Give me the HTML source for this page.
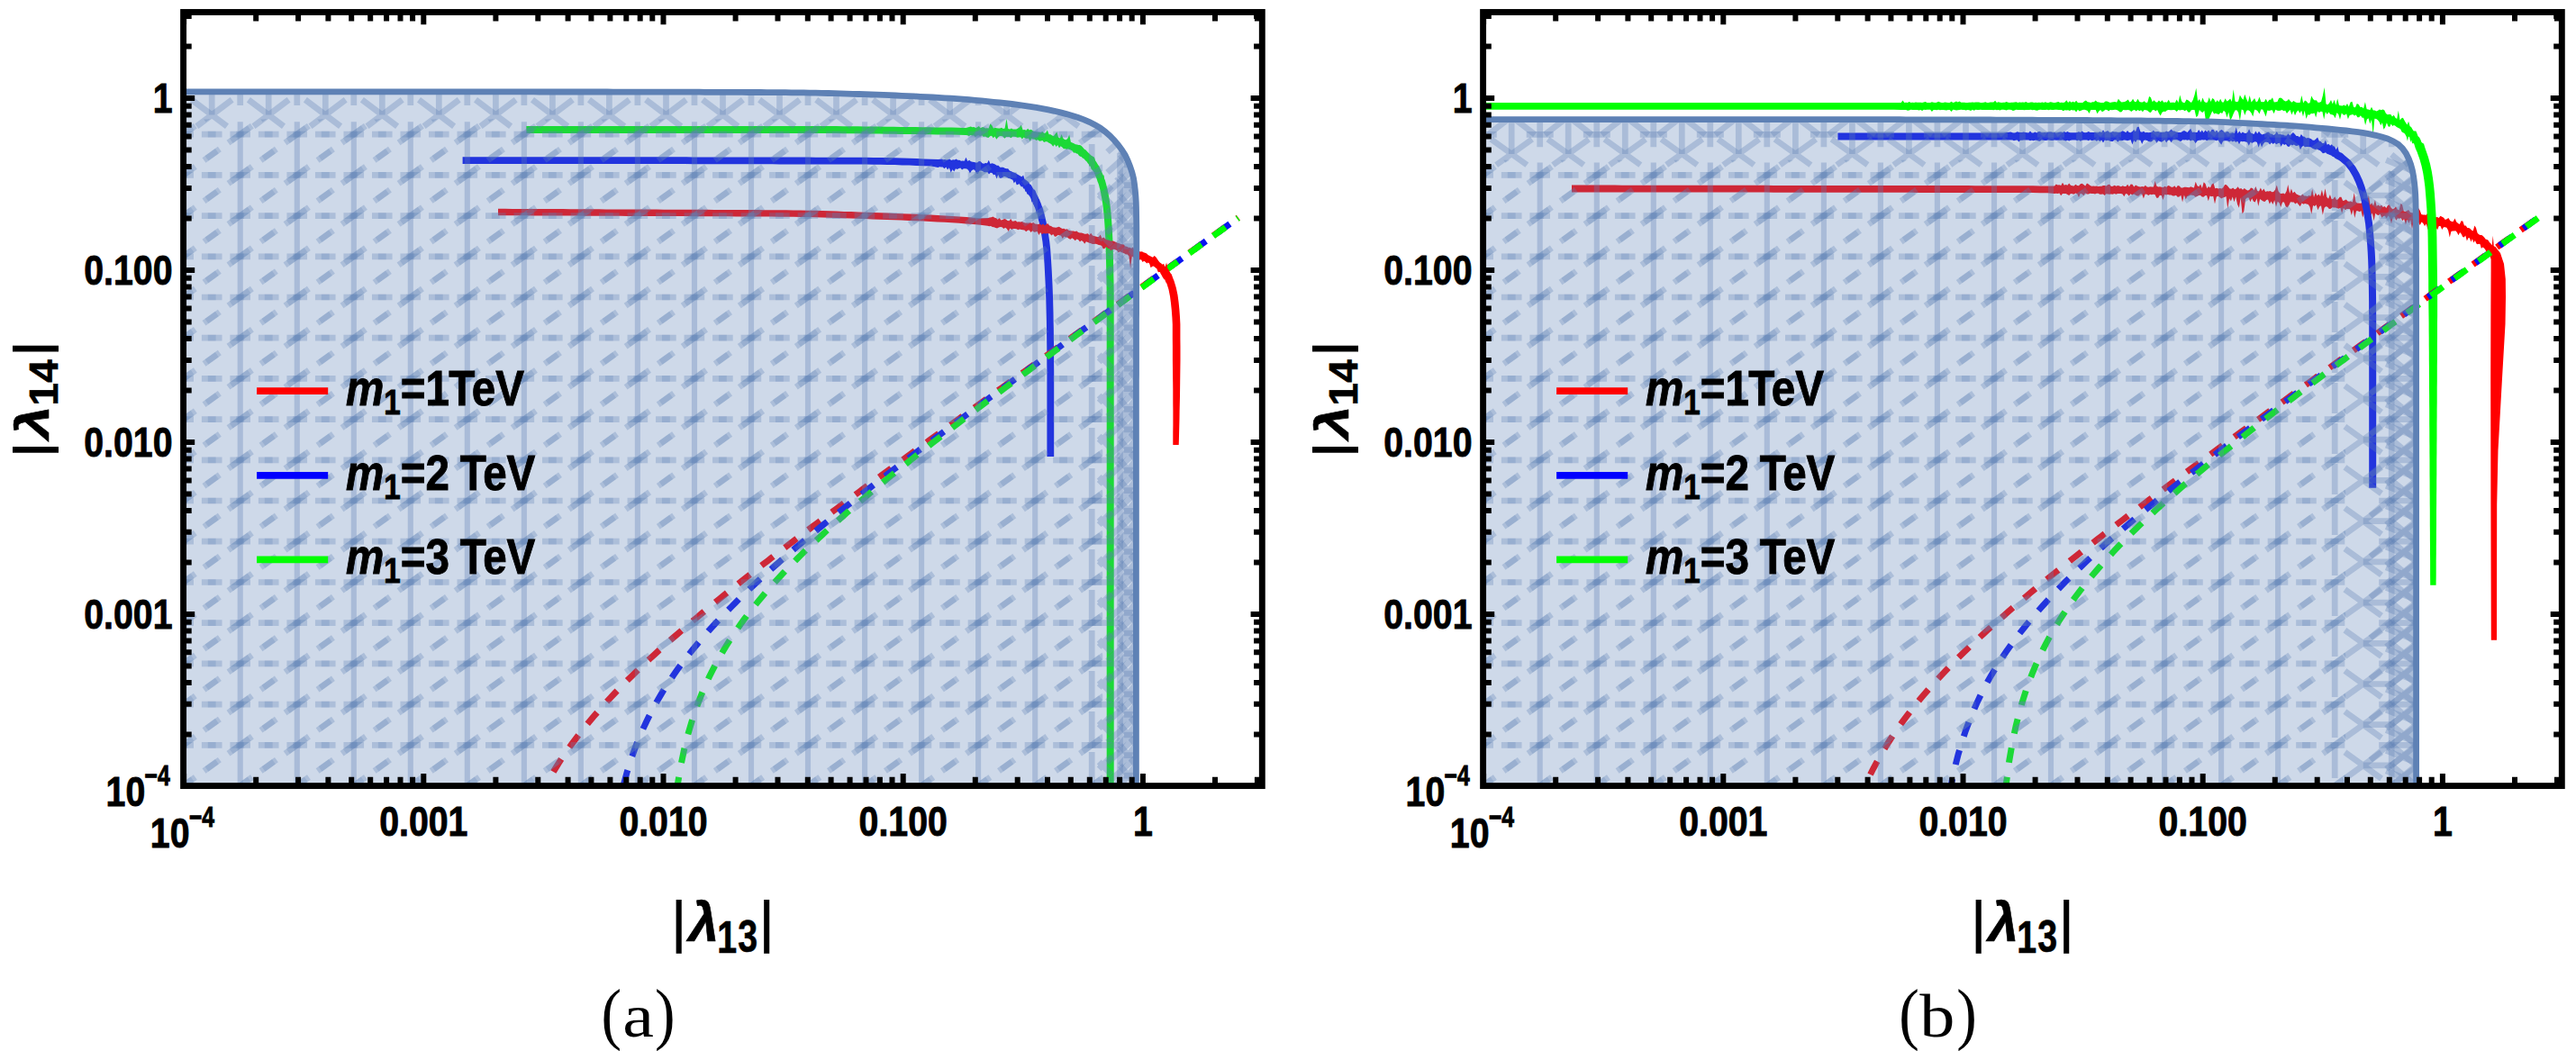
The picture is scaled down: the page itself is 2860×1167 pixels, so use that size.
<!DOCTYPE html>
<html lang="en"><head><meta charset="utf-8"><title>Figure</title>
<style>html,body{margin:0;padding:0;background:#fff}svg{display:block}text{font-family:"Liberation Sans",Arial,sans-serif;font-weight:bold;fill:#000;stroke:#000;stroke-width:.9px}</style>
</head><body>
<svg width="2860" height="1167" viewBox="0 0 2860 1167">
<rect width="2860" height="1167" fill="#fff"/>
<path d="M513.6,174.3L521.6,174.3 529.6,174.3 537.6,174.3 545.6,174.3 553.6,174.3 561.6,174.3 569.6,174.3 577.6,174.3 585.6,174.3 593.6,174.3 601.6,174.3 609.6,174.3 617.6,174.3 625.6,174.3 633.6,174.3 641.6,174.3 649.6,174.3 657.6,174.3 665.6,174.3 673.6,174.3 681.6,174.3 689.6,174.3 697.6,174.3 705.6,174.3 713.6,174.3 721.6,174.3 729.6,174.3 737.6,174.3 745.6,174.3 753.6,174.3 761.6,174.3 769.6,174.4 777.6,174.4 785.6,174.4 793.6,174.4 801.6,174.4 809.6,174.4 817.6,174.5 825.6,174.5 833.6,174.5 841.6,174.5 849.6,174.5 857.6,174.5 865.6,174.6 873.6,174.6 881.6,174.6 889.6,174.6 897.6,174.6 905.6,174.7 913.6,174.7 921.6,174.7 929.6,174.7 937.6,174.7 945.6,174.8 953.6,174.8 961.6,174.8 969.6,174.9 977.7,175 985.7,175.1 993.7,175.3 1001.7,175.6 1009.7,175.8 1017.7,176.1 1025.7,176.4 1033.7,176.7 1041.8,177.1 1043.6,176.8 1045.4,176.4 1047.2,177.2 1049,176.9 1050.8,177.5 1052.6,177.2 1054.4,176.5 1056.2,177.9 1058,177.3 1059.8,177.4 1061.6,176.5 1063.4,177.8 1065.2,177.7 1067.1,178.7 1068.9,178.5 1070.7,178.8 1072.5,174.7 1074.3,178.9 1076.1,177.7 1077.9,179.2 1079.7,179.8 1081.5,180 1083.3,180.6 1085.1,180.6 1086.9,179.1 1088.7,179.3 1090.5,181.3 1092.3,181.7 1094.1,180.9 1096,181.3 1097.8,177.7 1099.5,182.1 1101.3,181.3 1103.1,181.8 1104.9,182.6 1106.7,183.8 1108.5,183.8 1110.3,185.7 1112.1,185.8 1113.9,185.8 1115.6,186.8 1117.4,187.2 1119.2,187.2 1120.9,189.6 1122.7,190.3 1124.4,191 1126.1,191.8 1127.8,192.2 1129.5,193.5 1131.2,194.4 1132.9,195.5 1134.5,196.3 1136.1,194.4 1137.6,198.9 1139.1,199.7 1140.6,200.9 1142,201.9 1143.3,204.4 1144.5,205.1 1145.7,207.1 1146.8,209 1147.9,210.5 1148.9,210.7 1149.8,212.5 1150.7,215.1 1151.6,216.8 1152.5,218.6 1153.3,220.5 1154.1,221.8 1154.8,223.7 1155.5,225.2 1156.2,227.3 1156.8,229.1 1157.5,230.6 1158,232 1158.6,234.4 1159.1,236.3 1159.6,238.1 1160,239.8 1160.5,241.7 1160.9,243.5 1161.3,244.9 1161.7,246.8 1162,248.4 1162.4,250.7 1162.7,252.4 1163,253.3 1163.4,256 1163.7,257.8 1164,259.7 1165.2,267.7 1166.1,275.8 1166.7,283.9 1167.2,291.9 1167.7,299.9 1168.1,307.9 1168.5,315.9 1168.8,323.9 1169.1,332 1169.3,340 1169.5,348 1169.6,356 1169.8,364 1169.9,372 1170,380 1170.1,388 1170.1,396.1 1170.1,404.1 1170.2,412.1 1170.2,420.1 1170.2,428.1 1170.2,436.1 1170.2,444.1 1170.2,452.1 1170.2,460.1 1170.2,468.1 1170.2,476.1 1170.2,484.1 1170.2,492.1 1170.2,500.1 1170.2,506.9 1162.4,506.9 1162.4,500.1 1162.4,492.1 1162.4,484.1 1162.4,476.1 1162.4,468.1 1162.4,460.1 1162.4,452.1 1162.4,444.1 1162.4,436.1 1162.4,428.1 1162.4,420.1 1162.4,412.1 1162.3,404.1 1162.3,396.1 1162.3,388.1 1162.2,380.1 1162.1,372.1 1162,364.1 1161.9,356.1 1161.7,348.2 1161.5,340.2 1161.3,332.2 1161,324.2 1160.7,316.3 1160.3,308.3 1159.9,300.3 1159.5,292.4 1158.9,284.4 1158.3,276.5 1157.5,268.7 1156.3,260.9 1156,259.3 1155.7,257.7 1155.4,255.8 1155,254 1154.7,252.3 1154.4,250.7 1154,249 1153.7,247 1153.3,245.7 1152.9,244.2 1152.5,242.3 1152,240.2 1151.6,238.5 1151.1,237.6 1150.6,237.7 1150.1,234 1149.5,231.9 1148.9,230.2 1148.3,229.3 1147.6,227.4 1146.9,226.6 1146.2,223.9 1145.5,224.7 1144.7,221 1143.9,219.3 1143.1,217.8 1142.2,216.8 1141.3,215.8 1140.4,215.5 1139.4,212.7 1138.4,212.8 1137.4,209.6 1136.3,209.4 1135.2,207.1 1134,207.4 1132.8,206 1131.5,204.1 1130.1,205 1128.7,205.3 1127.3,201.3 1125.8,203.4 1124.4,199.7 1122.8,199 1121.3,198.2 1119.7,197.9 1118.1,197.1 1116.5,196.3 1114.8,195.7 1113.2,197 1111.6,197.8 1109.9,197.8 1108.2,194.1 1106.5,198.4 1104.8,193.7 1103.1,194.3 1101.4,191.9 1099.7,191.7 1098,193.6 1096.2,191 1094.5,191.2 1092.7,191.3 1091,190 1089.3,189.5 1087.5,189.8 1085.8,192.9 1084,192.7 1082.2,188.8 1080.5,188.3 1078.7,189.5 1076.9,192.6 1075.2,188.9 1073.4,187.6 1071.6,187.2 1069.9,187.2 1068.1,188.6 1066.3,186.6 1064.6,186.9 1062.8,188 1061,187.3 1059.3,190.4 1057.5,188.2 1055.7,191.7 1053.9,186.2 1052.1,188.5 1050.3,185.4 1048.5,187.3 1046.7,185.4 1044.9,185.6 1043.2,185.2 1041.4,186.1 1033.4,184.5 1025.4,184.2 1017.4,183.9 1009.5,183.6 1001.5,183.4 993.5,183.1 985.5,182.9 977.5,182.8 969.6,182.7 961.6,182.6 953.6,182.6 945.6,182.6 937.6,182.5 929.6,182.5 921.6,182.5 913.6,182.5 905.6,182.5 897.6,182.4 889.6,182.4 881.6,182.4 873.6,182.4 865.6,182.4 857.6,182.3 849.6,182.3 841.6,182.3 833.6,182.3 825.6,182.3 817.6,182.3 809.6,182.2 801.6,182.2 793.6,182.2 785.6,182.2 777.6,182.2 769.6,182.2 761.6,182.1 753.6,182.1 745.6,182.1 737.6,182.1 729.6,182.1 721.6,182.1 713.6,182.1 705.6,182.1 697.6,182.1 689.6,182.1 681.6,182.1 673.6,182.1 665.6,182.1 657.6,182.1 649.6,182.1 641.6,182.1 633.6,182.1 625.6,182.1 617.6,182.1 609.6,182.1 601.6,182.1 593.6,182.1 585.6,182.1 577.6,182.1 569.6,182.1 561.6,182.1 553.6,182.1 545.6,182.1 537.6,182.1 529.6,182.1 521.6,182.1 513.6,182.1Z" fill="#0a14f0"/>
<path d="M584.3,139.9L592.3,139.9 600.3,139.9 608.3,139.9 616.3,139.9 624.3,139.9 632.3,139.9 640.3,139.9 648.3,139.9 656.3,139.9 664.3,139.9 672.3,139.9 680.3,139.9 688.3,139.9 696.3,139.9 704.3,139.9 712.3,139.9 720.3,139.9 728.3,139.9 736.3,139.9 744.3,139.9 752.3,139.9 760.3,139.9 768.3,139.9 776.3,139.9 784.3,139.9 792.3,139.9 800.3,139.9 808.3,139.9 816.3,139.9 824.3,139.9 832.3,139.9 840.3,139.9 848.3,139.9 856.3,139.9 864.3,139.9 872.3,139.9 880.3,139.9 888.3,139.9 896.3,139.9 904.3,140 912.3,140 920.3,140.1 928.3,140.1 936.3,140.2 944.3,140.3 952.3,140.3 960.3,140.4 968.3,140.5 976.3,140.6 984.3,140.7 992.3,140.8 1000.3,140.9 1008.3,141 1016.3,141.1 1024.3,141.2 1032.3,141.3 1040.3,141.4 1048.4,141.5 1056.4,141.6 1064.4,141.8 1072.4,141.9 1074.2,141.6 1076,141 1077.8,140.6 1079.6,141.3 1081.4,141.1 1083.2,142 1085,141.2 1086.8,140.1 1088.6,142.2 1090.4,141.2 1092.2,141.2 1094,142.4 1095.8,142.2 1097.6,142.5 1099.4,137.4 1101.2,138.9 1103,142.4 1104.8,141.8 1106.6,142.2 1108.4,142.6 1110.2,142.5 1112,141.7 1113.8,143 1115.6,142.6 1117.5,131.7 1119.3,143 1121.1,143.4 1122.9,142.4 1124.7,143.5 1126.5,143.5 1128.3,143.5 1130.1,142.6 1131.9,141.3 1133.8,138.8 1135.6,144.3 1137.5,144 1139.3,144.8 1141.1,142.8 1142.9,144.6 1144.8,143.7 1146.6,145.3 1148.4,146.1 1150.2,146.3 1152,146.7 1153.7,146.7 1155.6,147.1 1157.4,146.1 1159.2,148.1 1161,147.4 1162.8,144.4 1164.6,149.2 1166.4,149.2 1168.2,150.6 1169.9,151 1171.7,148.6 1173.4,146.4 1175.1,152.5 1176.9,153.4 1178.6,148.9 1180.3,153.6 1182,154.9 1183.8,155.2 1185.5,153.5 1187.2,149.5 1188.9,157.7 1190.6,158.5 1192.3,159.3 1194,160.2 1195.7,160.6 1197.4,161.1 1199,161.1 1200.7,162 1202.3,163.7 1204,165.8 1205.5,166.6 1207,168.2 1208.5,169.7 1209.9,171.1 1211.3,172.4 1212.6,173.2 1213.8,174.1 1215,174.7 1216.2,178.4 1217.3,179.9 1218.3,181.7 1219.3,183.3 1220.2,184.6 1221.1,186.4 1222,188.4 1222.8,190.1 1223.5,191.7 1224.2,193.2 1224.9,194.7 1225.6,194.6 1226.2,198.7 1226.8,199.8 1227.4,202.1 1227.9,203.7 1228.4,205.8 1228.9,207.5 1229.4,209.3 1229.8,210.9 1230.1,213.2 1230.5,214.6 1230.8,216.4 1231.1,218.6 1231.4,219.9 1231.7,222 1232,223.5 1232.2,225.8 1232.5,227.5 1232.7,229.5 1232.9,231.3 1233.1,232.6 1233.3,234.9 1233.5,236.7 1233.6,238.6 1233.8,240.4 1234.4,248.4 1234.9,256.5 1235.3,264.5 1235.6,272.5 1235.8,280.5 1236,288.6 1236.2,296.6 1236.3,304.6 1236.5,312.6 1236.6,320.6 1236.7,328.6 1236.7,336.6 1236.7,344.6 1236.7,352.6 1236.7,360.6 1236.7,368.6 1236.7,376.6 1236.7,384.6 1236.7,392.6 1236.7,400.6 1236.7,408.6 1236.7,416.6 1236.7,424.6 1236.7,432.6 1236.7,440.6 1236.7,448.6 1236.7,456.6 1236.7,464.6 1236.7,472.6 1236.7,480.6 1236.7,488.6 1236.7,496.6 1236.7,504.6 1236.7,512.6 1236.7,520.6 1236.7,528.6 1236.7,536.6 1236.7,544.6 1236.7,552.6 1236.7,560.6 1236.7,568.6 1236.7,576.6 1236.7,584.6 1236.7,592.6 1236.7,600.6 1236.7,608.6 1236.7,616.6 1236.7,624.6 1236.7,632.6 1236.7,640.6 1236.7,648.6 1236.7,656.6 1236.7,664.6 1236.7,672.6 1236.7,680.6 1236.7,688.6 1236.7,696.6 1236.7,704.6 1236.7,712.6 1236.7,720.6 1236.7,728.6 1236.7,736.6 1236.7,744.6 1236.7,752.6 1236.7,760.6 1236.7,768.6 1236.7,776.6 1236.7,784.6 1236.7,792.6 1236.7,800.6 1236.7,808.6 1236.7,816.6 1236.7,824.6 1236.7,832.6 1236.7,840.6 1236.7,848.6 1236.7,856.6 1236.7,864.6 1236.7,872.6 1236.7,873 1228.7,873 1228.7,872.6 1228.7,864.6 1228.7,856.6 1228.7,848.6 1228.7,840.6 1228.7,832.6 1228.7,824.6 1228.7,816.6 1228.7,808.6 1228.7,800.6 1228.7,792.6 1228.7,784.6 1228.7,776.6 1228.7,768.6 1228.7,760.6 1228.7,752.6 1228.7,744.6 1228.7,736.6 1228.7,728.6 1228.7,720.6 1228.7,712.6 1228.7,704.6 1228.7,696.6 1228.7,688.6 1228.7,680.6 1228.7,672.6 1228.7,664.6 1228.7,656.6 1228.7,648.6 1228.7,640.6 1228.7,632.6 1228.7,624.6 1228.7,616.6 1228.7,608.6 1228.7,600.6 1228.7,592.6 1228.7,584.6 1228.7,576.6 1228.7,568.6 1228.7,560.6 1228.7,552.6 1228.7,544.6 1228.7,536.6 1228.7,528.6 1228.7,520.6 1228.7,512.6 1228.7,504.6 1228.7,496.6 1228.7,488.6 1228.7,480.6 1228.7,472.6 1228.7,464.6 1228.7,456.6 1228.7,448.6 1228.7,440.6 1228.7,432.6 1228.7,424.6 1228.7,416.6 1228.7,408.6 1228.7,400.6 1228.7,392.6 1228.7,384.6 1228.7,376.6 1228.7,368.6 1228.7,360.6 1228.7,352.6 1228.7,344.6 1228.7,336.6 1228.7,328.7 1228.6,320.7 1228.5,312.7 1228.3,304.7 1228.2,296.7 1228,288.7 1227.8,280.8 1227.6,272.8 1227.3,264.8 1226.9,256.9 1226.4,249 1225.8,241.1 1225.7,239.3 1225.5,237.5 1225.3,236 1225.1,234 1225,232.2 1224.8,230.6 1224.5,228.7 1224.3,227.2 1224.1,225.2 1223.8,224.2 1223.5,221.7 1223.2,220 1222.9,218.2 1222.6,217.2 1222.3,215 1221.9,213.3 1221.6,211.7 1221.2,210.1 1220.7,208.2 1220.3,206.4 1219.8,204.8 1219.2,203.1 1218.7,201.9 1218.1,200 1217.5,198.3 1216.8,196.8 1216.2,195.6 1215.5,193.5 1214.7,191.8 1214,190.5 1213.2,189.2 1212.4,188.5 1211.5,187.4 1210.6,184.6 1209.6,184.8 1208.7,182.2 1207.7,181.3 1206.6,179.4 1205.4,178.6 1204.3,177.2 1203.1,175.9 1201.9,175.4 1200.6,174 1199.2,173.8 1197.9,172.8 1196.5,170.8 1195.1,170.5 1193.6,169.4 1192.1,169.7 1190.5,167.6 1189,166.8 1187.4,166.1 1185.8,165.4 1184.2,165.8 1182.6,165.3 1180.9,165.3 1179.3,163.4 1177.6,162.2 1176,164.5 1174.3,161.1 1172.6,163 1170.9,160.2 1169.2,162.8 1167.6,160.6 1165.9,159.3 1164.2,158.6 1162.5,157.3 1160.8,157.2 1159.1,158 1157.4,156.1 1155.7,156.5 1154,156.8 1152.3,155.2 1150.5,155.9 1148.8,154.8 1147,154.5 1145.3,153.8 1143.6,156.7 1141.8,153.6 1140.1,153.9 1138.3,153.4 1136.6,152.5 1134.8,154.5 1133.1,152.2 1131.3,152.6 1129.6,152.7 1127.8,152.1 1126,151.8 1124.2,151.7 1122.4,153.3 1120.7,151.9 1118.9,152 1117.1,152.1 1115.3,153.8 1113.5,151.4 1111.7,151 1109.9,151.1 1108.1,152.4 1106.3,154.7 1104.5,151.5 1102.7,153.2 1101,150.7 1099.2,151.3 1097.4,152.9 1095.6,152.4 1093.8,151.6 1092,152.1 1090.2,150.3 1088.4,151.2 1086.6,150.3 1084.8,150.4 1083,151.9 1081.2,150.5 1079.4,150.5 1077.6,150.1 1075.8,150.9 1074,150.3 1072.2,149.9 1064.2,149.8 1056.2,149.6 1048.2,149.5 1040.2,149.4 1032.2,149.3 1024.2,149.2 1016.2,149.1 1008.2,149 1000.2,148.9 992.2,148.8 984.2,148.7 976.2,148.6 968.3,148.5 960.3,148.4 952.3,148.3 944.3,148.3 936.3,148.2 928.3,148.1 920.3,148.1 912.3,148 904.3,148 896.3,147.9 888.3,147.9 880.3,147.9 872.3,147.9 864.3,147.9 856.3,147.9 848.3,147.9 840.3,147.9 832.3,147.9 824.3,147.9 816.3,147.9 808.3,147.9 800.3,147.9 792.3,147.9 784.3,147.9 776.3,147.9 768.3,147.9 760.3,147.9 752.3,147.9 744.3,147.9 736.3,147.9 728.3,147.9 720.3,147.9 712.3,147.9 704.3,147.9 696.3,147.9 688.3,147.9 680.3,147.9 672.3,147.9 664.3,147.9 656.3,147.9 648.3,147.9 640.3,147.9 632.3,147.9 624.3,147.9 616.3,147.9 608.3,147.9 600.3,147.9 592.3,147.9 584.3,147.9Z" fill="#00ff00"/>
<path d="M605.3,872.9L610.1,864.2 615,855.9 619.8,848.1 624.6,840.7 629.5,833.6 634.3,826.9 639.2,820.3 644,814 648.8,807.9 653.7,802 658.5,796.2 663.4,790.6 668.2,785.2 673,779.8 677.9,774.6 682.7,769.5 687.6,764.5 692.4,759.5 697.2,754.7 702.1,749.9 706.9,745.2 711.8,740.6 716.6,736 721.4,731.5 726.3,727.1 731.1,722.6 736,718.3 740.8,714 745.6,709.7 750.5,705.5 755.3,701.3 760.2,697.1 765,693 769.8,688.9 774.7,684.9 779.5,680.8 784.4,676.8 789.2,672.8 794,668.9 798.9,664.9 803.7,661 808.6,657.1 813.4,653.3 818.2,649.4 823.1,645.6 827.9,641.8 832.8,637.9 837.6,634.2 842.4,630.4 847.3,626.6 852.1,622.9 857,619.1 861.8,615.4 866.6,611.7 871.5,608 876.3,604.3 881.2,600.6 886,596.9 890.8,593.3 895.7,589.6 900.5,585.9 905.4,582.3 910.2,578.7 915,575 919.9,571.4 924.7,567.8 929.6,564.2 934.4,560.6 939.2,557 944.1,553.4 948.9,549.8 953.8,546.2 958.6,542.7 963.4,539.1 968.3,535.5 973.1,531.9 978,528.4 982.8,524.8 987.6,521.3 992.5,517.7 997.3,514.2 1002.2,510.6 1007,507.1 1011.8,503.6 1016.7,500 1021.5,496.5 1026.4,493 1031.2,489.4 1036,485.9 1040.9,482.4 1045.7,478.9 1050.6,475.3 1055.4,471.8 1060.2,468.3 1065.1,464.8 1069.9,461.3 1074.8,457.8 1079.6,454.3 1084.4,450.8 1089.3,447.3 1094.1,443.8 1099,440.3 1103.8,436.7 1108.6,433.2 1113.5,429.8 1118.3,426.3 1123.2,422.8 1128,419.3 1132.8,415.8 1137.7,412.3 1142.5,408.8 1147.4,405.3 1152.2,401.8 1157,398.3 1161.9,394.8 1166.7,391.3 1171.6,387.8 1176.4,384.4 1181.2,380.9 1186.1,377.4 1190.9,373.9 1195.8,370.4 1200.6,366.9 1205.4,363.4 1210.3,360 1215.1,356.5 1220,353 1224.8,349.5 1229.6,346 1234.5,342.5 1239.3,339.1 1244.2,335.6 1249,332.1 1253.8,328.6 1258.7,325.1 1263.5,321.7 1268.4,318.2 1273.2,314.7 1278,311.2 1282.9,307.8 1287.7,304.3 1292.6,300.8 1297.4,297.3 1302.2,293.8 1307.1,290.4 1311.9,286.9 1316.8,283.4 1321.6,279.9 1326.4,276.5 1331.3,273 1336.1,269.5 1341,266 1345.8,262.6 1350.6,259.1 1355.5,255.6 1360.3,252.1 1365.2,248.7 1370,245.2 1374.8,241.7" fill="none" stroke="#ff0000" stroke-width="7" stroke-dasharray="16.6 16.1" stroke-dashoffset="14.4"/>
<path d="M691.9,872.9L696.2,857.2 700.5,843.6 704.8,831.4 709.1,820.5 713.4,810.5 717.7,801.2 722,792.6 726.3,784.5 730.5,776.9 734.8,769.6 739.1,762.7 743.4,756.1 747.7,749.7 752,743.6 756.3,737.7 760.6,732 764.9,726.5 769.2,721.1 773.5,715.9 777.8,710.8 782.1,705.8 786.4,700.9 790.7,696.1 795,691.5 799.3,686.9 803.6,682.4 807.9,677.9 812.2,673.6 816.5,669.3 820.7,665 825,660.8 829.3,656.7 833.6,652.6 837.9,648.6 842.2,644.6 846.5,640.7 850.8,636.8 855.1,632.9 859.4,629.1 863.7,625.3 868,621.5 872.3,617.8 876.6,614.1 880.9,610.4 885.2,606.7 889.5,603.1 893.8,599.5 898.1,595.9 902.4,592.3 906.7,588.8 910.9,585.3 915.2,581.8 919.5,578.3 923.8,574.8 928.1,571.4 932.4,567.9 936.7,564.5 941,561.1 945.3,557.7 949.6,554.3 953.9,550.9 958.2,547.6 962.5,544.2 966.8,540.9 971.1,537.6 975.4,534.2 979.7,530.9 984,527.6 988.3,524.3 992.6,521 996.9,517.8 1001.1,514.5 1005.4,511.2 1009.7,508 1014,504.7 1018.3,501.5 1022.6,498.3 1026.9,495 1031.2,491.8 1035.5,488.6 1039.8,485.4 1044.1,482.2 1048.4,479 1052.7,475.8 1057,472.6 1061.3,469.4 1065.6,466.2 1069.9,463 1074.2,459.8 1078.5,456.7 1082.8,453.5 1087.1,450.3 1091.3,447.2 1095.6,444 1099.9,440.8 1104.2,437.7 1108.5,434.5 1112.8,431.4 1117.1,428.2 1121.4,425.1 1125.7,421.9 1130,418.8 1134.3,415.7 1138.6,412.5 1142.9,409.4 1147.2,406.3 1151.5,403.1 1155.8,400 1160.1,396.9 1164.4,393.8 1168.7,390.6 1173,387.5 1177.3,384.4 1181.5,381.3 1185.8,378.2 1190.1,375 1194.4,371.9 1198.7,368.8 1203,365.7 1207.3,362.6 1211.6,359.5 1215.9,356.4 1220.2,353.3 1224.5,350.2 1228.8,347.1 1233.1,343.9 1237.4,340.8 1241.7,337.7 1246,334.6 1250.3,331.5 1254.6,328.4 1258.9,325.3 1263.2,322.2 1267.5,319.1 1271.7,316 1276,312.9 1280.3,309.8 1284.6,306.7 1288.9,303.7 1293.2,300.6 1297.5,297.5 1301.8,294.4 1306.1,291.3 1310.4,288.2 1314.7,285.1 1319,282 1323.3,278.9 1327.6,275.8 1331.9,272.7 1336.2,269.6 1340.5,266.5 1344.8,263.4 1349.1,260.4 1353.4,257.3 1357.7,254.2 1361.9,251.1 1366.2,248 1370.5,244.9 1374.8,241.8" fill="none" stroke="#0a14f0" stroke-width="7" stroke-dasharray="16.6 16.1" stroke-dashoffset="30.8"/>
<path d="M752,872.9L755.9,850 759.8,831.4 763.7,815.8 767.7,802.3 771.6,790.3 775.5,779.5 779.4,769.6 783.3,760.5 787.2,752 791.2,744 795.1,736.5 799,729.4 802.9,722.7 806.8,716.2 810.7,710 814.7,704.1 818.6,698.4 822.5,692.8 826.4,687.4 830.3,682.2 834.3,677.2 838.2,672.2 842.1,667.4 846,662.7 849.9,658.1 853.8,653.6 857.8,649.2 861.7,644.9 865.6,640.6 869.5,636.4 873.4,632.3 877.3,628.3 881.3,624.3 885.2,620.3 889.1,616.4 893,612.6 896.9,608.8 900.8,605.1 904.8,601.4 908.7,597.7 912.6,594.1 916.5,590.5 920.4,586.9 924.3,583.4 928.3,579.9 932.2,576.4 936.1,573 940,569.5 943.9,566.1 947.9,562.8 951.8,559.4 955.7,556.1 959.6,552.8 963.5,549.5 967.4,546.2 971.4,543 975.3,539.7 979.2,536.5 983.1,533.3 987,530.1 990.9,526.9 994.9,523.8 998.8,520.6 1002.7,517.5 1006.6,514.4 1010.5,511.3 1014.4,508.2 1018.4,505.1 1022.3,502 1026.2,498.9 1030.1,495.9 1034,492.8 1037.9,489.8 1041.9,486.7 1045.8,483.7 1049.7,480.7 1053.6,477.7 1057.5,474.7 1061.5,471.7 1065.4,468.7 1069.3,465.7 1073.2,462.7 1077.1,459.8 1081,456.8 1085,453.8 1088.9,450.9 1092.8,447.9 1096.7,445 1100.6,442 1104.5,439.1 1108.5,436.2 1112.4,433.2 1116.3,430.3 1120.2,427.4 1124.1,424.5 1128,421.6 1132,418.7 1135.9,415.8 1139.8,412.9 1143.7,410 1147.6,407.1 1151.5,404.2 1155.5,401.3 1159.4,398.4 1163.3,395.5 1167.2,392.6 1171.1,389.7 1175.1,386.9 1179,384 1182.9,381.1 1186.8,378.3 1190.7,375.4 1194.6,372.5 1198.6,369.7 1202.5,366.8 1206.4,363.9 1210.3,361.1 1214.2,358.2 1218.1,355.4 1222.1,352.5 1226,349.7 1229.9,346.8 1233.8,344 1237.7,341.1 1241.6,338.3 1245.6,335.4 1249.5,332.6 1253.4,329.7 1257.3,326.9 1261.2,324 1265.1,321.2 1269.1,318.4 1273,315.5 1276.9,312.7 1280.8,309.8 1284.7,307 1288.7,304.2 1292.6,301.3 1296.5,298.5 1300.4,295.7 1304.3,292.8 1308.2,290 1312.2,287.2 1316.1,284.4 1320,281.5 1323.9,278.7 1327.8,275.9 1331.7,273 1335.7,270.2 1339.6,267.4 1343.5,264.6 1347.4,261.7 1351.3,258.9 1355.2,256.1 1359.2,253.3 1363.1,250.4 1367,247.6 1370.9,244.8 1374.8,242" fill="none" stroke="#00ff00" stroke-width="7" stroke-dasharray="16.6 16.1" stroke-dashoffset="6.5"/>
<path d="M553,231.8L561,231.8 569,231.9 577,231.9 585,231.9 593,232 601,232 609,232.1 617,232.1 625,232.1 633,232.2 641,232.2 649,232.3 657,232.3 665,232.3 673,232.4 681,232.4 689,232.4 697,232.5 705,232.5 713,232.6 721,232.6 729,232.6 737,232.7 745,232.7 753,232.7 761,232.7 769,232.8 777,232.8 785,232.8 793,232.9 801,232.9 809,232.9 817,233 825,233 833,233.1 841,233.1 849,233.2 857,233.2 865,233.3 873,233.3 881,233.4 889.1,233.5 897.1,233.7 905.1,233.8 913.1,234.1 921.1,234.3 929.1,234.6 937.1,234.9 945.1,235.1 953.1,235.4 961.1,235.7 969.1,236 977.1,236.3 985.1,236.6 993.1,236.9 1001.1,237.2 1009.1,237.5 1017.1,237.8 1025.1,238.2 1033.1,238.6 1041.1,239 1049.1,239.4 1057.1,239.9 1065.1,240.5 1073.1,241.1 1081.1,241.7 1089.1,242.3 1097.1,242.1 1098.9,241.4 1100.7,241.3 1102.5,240.6 1104.3,241.8 1106.1,242.2 1107.8,243.8 1109.6,242 1111.4,244.4 1113.2,244 1115,242.9 1116.8,243.4 1118.6,245.1 1120.4,245.3 1122.2,242.9 1124,245.7 1125.8,245.4 1127.6,245 1129.4,246.4 1131.2,246.2 1133,246.5 1134.8,245.9 1136.6,247.1 1138.4,247.4 1140.2,247.5 1142,247.4 1143.8,247.2 1145.6,247.8 1147.3,247 1149.1,248.6 1150.9,248.8 1152.7,248.9 1154.5,248.5 1156.3,250 1158.1,248.6 1159.9,250.4 1161.7,248.7 1163.5,248.3 1165.2,250.4 1167,250.9 1168.8,252.2 1170.6,252.4 1172.4,252.8 1174.1,252.2 1175.9,251.7 1177.7,253.1 1179.5,253.9 1181.2,253.8 1183,254.8 1184.8,254.3 1186.5,255.8 1188.3,256.3 1190.1,256.6 1191.8,256.4 1193.6,257.1 1195.4,256.5 1197.1,258 1198.9,258.5 1200.6,258.5 1202.4,259.1 1204.2,259.8 1205.9,259.7 1207.7,259.2 1209.5,261 1211.2,258.7 1213,261.5 1214.7,262 1216.5,262.4 1218.2,263.1 1220,263 1221.7,260.5 1223.5,264.8 1225.2,263.5 1227,265.1 1228.7,266.3 1230.5,266.4 1232.2,267.2 1234,267.7 1235.7,267.6 1237.5,268.3 1239.2,269.1 1240.9,269.8 1242.7,270.3 1244.4,271.1 1246.1,271.2 1247.8,271.5 1249.4,273.5 1251.1,273.7 1252.8,274.8 1254.5,274.8 1256.1,275.8 1257.8,274.5 1259.4,276.9 1261.1,274.6 1262.8,276.2 1264.4,279.1 1266.2,279.4 1267.9,279.2 1269.6,280.3 1271.3,280.8 1273.1,281.6 1274.8,283.2 1276.5,283.9 1278.3,285 1280,285.8 1281.6,284.1 1283.2,285.2 1284.8,287.5 1286.3,289.8 1287.8,291.4 1289.3,292.6 1290.7,293.8 1292.1,292.7 1293.4,296.7 1295.1,291.4 1296.3,298.1 1297.5,299.5 1298.6,301.7 1299.7,303.6 1300.7,304.6 1301.6,307.1 1302.5,309.4 1303.3,311.3 1305.8,319.4 1307.5,327.6 1308.6,335.8 1309.4,343.8 1310,351.9 1310.4,360.1 1310.4,368.2 1310.4,376.2 1310.5,384.2 1310.5,392.2 1310.5,400.2 1310.4,408.2 1310.3,416.2 1310.2,424.2 1310.1,432.2 1310,440.2 1309.8,448.2 1309.6,456.2 1309.5,464.2 1309.3,472.2 1309.1,480.2 1308.9,488.2 1308.7,494.1 1302.3,493.9 1302.3,488.1 1302.3,480.1 1302.4,472.1 1302.4,464.1 1302.4,456.1 1302.3,448.2 1302.3,440.2 1302.3,432.2 1302.2,424.2 1302.1,416.2 1302,408.2 1301.9,400.2 1301.9,392.2 1301.9,384.2 1301.8,376.2 1301.8,368.2 1301.8,360.3 1301.4,352.5 1300.8,344.6 1300,336.7 1299,329.1 1297.5,321.6 1295.3,314.4 1294.7,314 1294,312.5 1293.2,310.3 1292.4,310.2 1291.5,308.8 1290.5,307.2 1289.5,305.2 1288.5,303.7 1287.9,302 1286.8,302.2 1285.6,301.7 1284.3,298.2 1283.1,297.4 1281.8,296.2 1280.4,295.6 1279.1,295.9 1277.6,297.2 1276.2,292.8 1274.7,291.6 1273.3,292.6 1271.8,290.9 1270.2,289.8 1268.6,291.1 1267,288.3 1265.3,288.5 1263.7,286.9 1262,286.3 1260.3,285.8 1258.6,285.7 1256.8,284.5 1255.1,298.8 1253.4,284.6 1251.7,282.6 1250.1,282.5 1248.4,281.6 1246.7,280.7 1245.1,280.2 1243.4,279.3 1241.7,280.4 1240.1,278 1238.4,277.3 1236.8,276.7 1235.1,277 1233.4,278.6 1231.7,276.1 1230,275.8 1228.3,274.1 1226.6,275.8 1224.9,276.6 1223.2,273.1 1221.5,272.3 1219.8,271.9 1218.1,271.2 1216.3,270.7 1214.6,270.9 1212.9,271 1211.2,270.3 1209.4,269.8 1207.7,269 1205.9,268.2 1204.2,270.7 1202.5,268.2 1200.7,266.9 1199,268.4 1197.2,266.3 1195.5,265.6 1193.7,267.2 1192,265.5 1190.2,264.3 1188.5,265.8 1186.7,265 1185,263.6 1183.2,263.4 1181.5,262.5 1179.7,265 1178,261.8 1176.2,261.3 1174.5,261.1 1172.7,262.6 1171,262.7 1169.2,260 1167.4,261.5 1165.7,259.4 1163.9,259.2 1162.2,259.2 1160.4,259.5 1158.7,259 1156.9,260.2 1155.1,258.1 1153.4,261.1 1151.6,256.9 1149.8,257.4 1148.1,257.7 1146.3,256.2 1144.5,258 1142.7,255.6 1141,255.8 1139.2,257.2 1137.4,255.4 1135.6,255.3 1133.9,254.9 1132.1,254.4 1130.3,255.2 1128.5,254.2 1126.7,254 1125,254 1123.2,254.9 1121.4,253.6 1119.6,257 1117.8,253.9 1116.1,252.7 1114.3,253.9 1112.5,252.2 1110.7,251.9 1108.9,252.4 1107.1,253.4 1105.4,252.9 1103.6,252.3 1101.8,251.9 1100,250.9 1098.2,251.2 1096.4,250.7 1088.5,249.7 1080.5,249.1 1072.5,248.4 1064.6,247.8 1056.6,247.3 1048.7,246.8 1040.7,246.4 1032.7,245.9 1024.7,245.6 1016.8,245.2 1008.8,244.9 1000.8,244.6 992.8,244.3 984.8,244 976.8,243.7 968.8,243.4 960.8,243.1 952.8,242.8 944.8,242.5 936.8,242.3 928.9,242 920.9,241.7 912.9,241.5 904.9,241.2 896.9,241.1 888.9,240.9 881,240.8 873,240.7 865,240.7 857,240.6 849,240.6 841,240.5 833,240.5 825,240.4 817,240.4 809,240.3 801,240.3 793,240.3 785,240.2 777,240.2 769,240.2 761,240.1 753,240.1 745,240.1 737,240.1 729,240 721,240 713,240 705,239.9 697,239.9 689,239.8 681,239.8 673,239.8 665,239.7 657,239.7 649,239.7 641,239.6 633,239.6 625,239.5 617,239.5 609,239.5 601,239.4 593,239.4 585,239.3 577,239.3 569,239.3 561,239.2 553,239.2Z" fill="#ff0000"/>
<clipPath id="ca"><path d="M203.6,872.5L203.7,101.9 210.5,101.9 217.3,101.9 224.2,101.9 231,101.9 237.8,101.9 244.6,101.9 251.4,101.9 258.2,101.9 265.1,101.9 271.9,101.9 278.7,101.9 285.5,101.9 292.3,101.9 299.1,101.9 306,101.9 312.8,101.9 319.6,101.9 326.4,101.9 333.2,101.9 340,101.9 346.9,101.9 353.7,101.9 360.5,101.9 367.3,101.9 374.1,101.9 380.9,101.9 387.8,101.9 394.6,101.9 401.4,101.9 408.2,101.9 415,101.9 421.8,101.9 428.7,101.9 435.5,101.9 442.3,101.9 449.1,101.9 455.9,101.9 462.7,101.9 469.6,101.9 476.4,101.9 483.2,101.9 490,101.9 496.8,101.9 503.6,101.9 510.5,101.9 517.3,101.9 524.1,101.9 530.9,101.9 537.7,101.9 544.5,101.9 551.4,101.9 558.2,101.9 565,101.9 571.8,101.9 578.6,101.9 585.5,101.9 592.3,101.9 599.1,102 605.9,102 612.7,102 619.5,102 626.4,102 633.2,102 640,102 646.8,102 653.6,102 660.4,102 667.3,102 674.1,102 680.9,102.1 687.7,102.1 694.5,102.1 701.3,102.1 708.2,102.1 715,102.1 721.8,102.1 728.6,102.1 735.4,102.2 742.2,102.2 749.1,102.2 755.9,102.2 762.7,102.2 769.5,102.2 776.3,102.2 783.1,102.3 790,102.3 796.8,102.3 803.6,102.3 810.4,102.4 817.2,102.4 824,102.4 830.9,102.5 837.7,102.5 844.5,102.5 851.3,102.6 858.1,102.6 864.9,102.7 871.8,102.7 878.6,102.8 885.4,102.9 892.2,102.9 899,103.1 905.8,103.2 912.7,103.3 919.5,103.5 926.3,103.7 933.1,103.9 939.9,104.1 946.7,104.3 953.5,104.5 960.4,104.7 967.2,105 974,105.2 980.8,105.4 987.6,105.7 994.4,106 1001.2,106.3 1008,106.6 1014.9,106.9 1021.7,107.3 1028.5,107.6 1035.3,108 1042.1,108.4 1048.9,108.8 1055.7,109.2 1062.5,109.7 1069.3,110.2 1076.1,110.7 1082.9,111.3 1089.7,111.9 1096.5,112.6 1103.2,113.3 1110,114 1116.8,114.7 1123.6,115.5 1130.3,116.4 1137.1,117.3 1143.9,118.3 1150.6,119.4 1157.3,120.6 1164,121.9 1170.7,123.3 1177.4,124.9 1184,126.6 1190.6,128.5 1197,130.5 1203.4,132.8 1209.7,135.5 1215.8,138.7 1221.6,142.2 1227,146.2 1232.2,150.7 1237.1,155.7 1241.4,160.8 1245.5,166.3 1249.2,172.2 1252.1,178.3 1254.6,184.6 1256.8,191.1 1258.5,197.8 1259.5,204.5 1260.3,211.2 1260.9,218.1 1261.3,224.9 1261.5,231.7 1261.6,238.5 1261.7,245.3 1261.8,252.2 1261.8,259 1261.8,265.8 1261.8,272.6 1261.8,279.4 1261.7,286.2 1261.7,293.1 1261.7,299.9 1261.6,306.7 1261.6,313.5 1261.6,320.3 1261.6,327.1 1261.6,334 1261.6,340.8 1261.6,347.6 1261.5,354.4 1261.5,361.2 1261.5,368 1261.5,374.9 1261.5,381.7 1261.5,388.5 1261.5,395.3 1261.5,402.1 1261.5,408.9 1261.5,415.8 1261.4,422.6 1261.4,429.4 1261.4,436.2 1261.4,443 1261.4,449.8 1261.4,456.7 1261.4,463.5 1261.4,470.3 1261.4,477.1 1261.4,483.9 1261.4,490.7 1261.4,497.6 1261.4,504.4 1261.4,511.2 1261.4,518 1261.4,524.8 1261.4,531.7 1261.4,538.5 1261.4,545.3 1261.4,552.1 1261.4,558.9 1261.4,565.7 1261.4,572.6 1261.4,579.4 1261.4,586.2 1261.4,593 1261.4,599.8 1261.4,606.6 1261.4,613.5 1261.4,620.3 1261.4,627.1 1261.4,633.9 1261.4,640.7 1261.4,647.5 1261.4,654.4 1261.4,661.2 1261.4,668 1261.4,674.8 1261.4,681.6 1261.4,688.4 1261.4,695.3 1261.4,702.1 1261.4,708.9 1261.4,715.7 1261.4,722.5 1261.4,729.3 1261.4,736.2 1261.4,743 1261.4,749.8 1261.4,756.6 1261.4,763.4 1261.4,770.2 1261.4,777.1 1261.4,783.9 1261.4,790.7 1261.4,797.5 1261.4,804.3 1261.4,811.1 1261.4,818 1261.4,824.8 1261.4,831.6 1261.4,838.4 1261.4,845.2 1261.4,852 1261.4,858.9 1261.4,865.7 1261.4,872.5Z"/></clipPath>
<clipPath id="car"><path d="M203.6,132.5H1224.2V872.5H203.6Z"/></clipPath>
<path d="M203.6,872.5L203.7,101.9 210.5,101.9 217.3,101.9 224.2,101.9 231,101.9 237.8,101.9 244.6,101.9 251.4,101.9 258.2,101.9 265.1,101.9 271.9,101.9 278.7,101.9 285.5,101.9 292.3,101.9 299.1,101.9 306,101.9 312.8,101.9 319.6,101.9 326.4,101.9 333.2,101.9 340,101.9 346.9,101.9 353.7,101.9 360.5,101.9 367.3,101.9 374.1,101.9 380.9,101.9 387.8,101.9 394.6,101.9 401.4,101.9 408.2,101.9 415,101.9 421.8,101.9 428.7,101.9 435.5,101.9 442.3,101.9 449.1,101.9 455.9,101.9 462.7,101.9 469.6,101.9 476.4,101.9 483.2,101.9 490,101.9 496.8,101.9 503.6,101.9 510.5,101.9 517.3,101.9 524.1,101.9 530.9,101.9 537.7,101.9 544.5,101.9 551.4,101.9 558.2,101.9 565,101.9 571.8,101.9 578.6,101.9 585.5,101.9 592.3,101.9 599.1,102 605.9,102 612.7,102 619.5,102 626.4,102 633.2,102 640,102 646.8,102 653.6,102 660.4,102 667.3,102 674.1,102 680.9,102.1 687.7,102.1 694.5,102.1 701.3,102.1 708.2,102.1 715,102.1 721.8,102.1 728.6,102.1 735.4,102.2 742.2,102.2 749.1,102.2 755.9,102.2 762.7,102.2 769.5,102.2 776.3,102.2 783.1,102.3 790,102.3 796.8,102.3 803.6,102.3 810.4,102.4 817.2,102.4 824,102.4 830.9,102.5 837.7,102.5 844.5,102.5 851.3,102.6 858.1,102.6 864.9,102.7 871.8,102.7 878.6,102.8 885.4,102.9 892.2,102.9 899,103.1 905.8,103.2 912.7,103.3 919.5,103.5 926.3,103.7 933.1,103.9 939.9,104.1 946.7,104.3 953.5,104.5 960.4,104.7 967.2,105 974,105.2 980.8,105.4 987.6,105.7 994.4,106 1001.2,106.3 1008,106.6 1014.9,106.9 1021.7,107.3 1028.5,107.6 1035.3,108 1042.1,108.4 1048.9,108.8 1055.7,109.2 1062.5,109.7 1069.3,110.2 1076.1,110.7 1082.9,111.3 1089.7,111.9 1096.5,112.6 1103.2,113.3 1110,114 1116.8,114.7 1123.6,115.5 1130.3,116.4 1137.1,117.3 1143.9,118.3 1150.6,119.4 1157.3,120.6 1164,121.9 1170.7,123.3 1177.4,124.9 1184,126.6 1190.6,128.5 1197,130.5 1203.4,132.8 1209.7,135.5 1215.8,138.7 1221.6,142.2 1227,146.2 1232.2,150.7 1237.1,155.7 1241.4,160.8 1245.5,166.3 1249.2,172.2 1252.1,178.3 1254.6,184.6 1256.8,191.1 1258.5,197.8 1259.5,204.5 1260.3,211.2 1260.9,218.1 1261.3,224.9 1261.5,231.7 1261.6,238.5 1261.7,245.3 1261.8,252.2 1261.8,259 1261.8,265.8 1261.8,272.6 1261.8,279.4 1261.7,286.2 1261.7,293.1 1261.7,299.9 1261.6,306.7 1261.6,313.5 1261.6,320.3 1261.6,327.1 1261.6,334 1261.6,340.8 1261.6,347.6 1261.5,354.4 1261.5,361.2 1261.5,368 1261.5,374.9 1261.5,381.7 1261.5,388.5 1261.5,395.3 1261.5,402.1 1261.5,408.9 1261.5,415.8 1261.4,422.6 1261.4,429.4 1261.4,436.2 1261.4,443 1261.4,449.8 1261.4,456.7 1261.4,463.5 1261.4,470.3 1261.4,477.1 1261.4,483.9 1261.4,490.7 1261.4,497.6 1261.4,504.4 1261.4,511.2 1261.4,518 1261.4,524.8 1261.4,531.7 1261.4,538.5 1261.4,545.3 1261.4,552.1 1261.4,558.9 1261.4,565.7 1261.4,572.6 1261.4,579.4 1261.4,586.2 1261.4,593 1261.4,599.8 1261.4,606.6 1261.4,613.5 1261.4,620.3 1261.4,627.1 1261.4,633.9 1261.4,640.7 1261.4,647.5 1261.4,654.4 1261.4,661.2 1261.4,668 1261.4,674.8 1261.4,681.6 1261.4,688.4 1261.4,695.3 1261.4,702.1 1261.4,708.9 1261.4,715.7 1261.4,722.5 1261.4,729.3 1261.4,736.2 1261.4,743 1261.4,749.8 1261.4,756.6 1261.4,763.4 1261.4,770.2 1261.4,777.1 1261.4,783.9 1261.4,790.7 1261.4,797.5 1261.4,804.3 1261.4,811.1 1261.4,818 1261.4,824.8 1261.4,831.6 1261.4,838.4 1261.4,845.2 1261.4,852 1261.4,858.9 1261.4,865.7 1261.4,872.5Z" fill="#5e81b5" fill-opacity="0.3"/>
<g clip-path="url(#ca)" stroke="#5e81b5" fill="none" stroke-width="6.7">
<g clip-path="url(#car)">
<path d="M266.7,135.3V872.5" opacity="0.33" stroke-width="6.1"/>
<path d="M329.8,135.3V872.5" opacity="0.33" stroke-width="6.1"/>
<path d="M392.8,135.3V872.5" opacity="0.33" stroke-width="6.1"/>
<path d="M455.8,135.3V872.5" opacity="0.33" stroke-width="6.1"/>
<path d="M518.8,135.3V872.5" opacity="0.33" stroke-width="6.1"/>
<path d="M581.9,135.3V872.5" opacity="0.33" stroke-width="6.1"/>
<path d="M644.9,135.3V872.5" opacity="0.33" stroke-width="6.1"/>
<path d="M707.9,135.3V872.5" opacity="0.33" stroke-width="6.1"/>
<path d="M771,135.3V872.5" opacity="0.33" stroke-width="6.1"/>
<path d="M834,135.3V872.5" opacity="0.33" stroke-width="6.1"/>
<path d="M897,135.3V872.5" opacity="0.33" stroke-width="6.1"/>
<path d="M960.1,135.3V872.5" opacity="0.33" stroke-width="6.1"/>
<path d="M1023.1,135.3V872.5" opacity="0.33" stroke-width="6.1"/>
<path d="M1086.1,135.3V872.5" opacity="0.33" stroke-width="6.1"/>
<path d="M1149.2,135.3V872.5" opacity="0.33" stroke-width="6.1"/>
<path d="M192.4,827.3H1401.3" stroke-dasharray="22.6 8.91" opacity="0.30"/>
<path d="M199.3,827.3H1401.3" stroke-dasharray="8.8 22.71" opacity="0.26"/>
<path d="M192.4,782.1H1401.3" stroke-dasharray="22.6 8.91" opacity="0.30"/>
<path d="M199.3,782.1H1401.3" stroke-dasharray="8.8 22.71" opacity="0.26"/>
<path d="M192.4,736.9H1401.3" stroke-dasharray="22.6 8.91" opacity="0.30"/>
<path d="M199.3,736.9H1401.3" stroke-dasharray="8.8 22.71" opacity="0.26"/>
<path d="M192.4,691.7H1401.3" stroke-dasharray="22.6 8.91" opacity="0.30"/>
<path d="M199.3,691.7H1401.3" stroke-dasharray="8.8 22.71" opacity="0.26"/>
<path d="M192.4,646.5H1401.3" stroke-dasharray="22.6 8.91" opacity="0.30"/>
<path d="M199.3,646.5H1401.3" stroke-dasharray="8.8 22.71" opacity="0.26"/>
<path d="M192.4,601.2H1401.3" stroke-dasharray="22.6 8.91" opacity="0.30"/>
<path d="M199.3,601.2H1401.3" stroke-dasharray="8.8 22.71" opacity="0.26"/>
<path d="M192.4,556H1401.3" stroke-dasharray="22.6 8.91" opacity="0.30"/>
<path d="M199.3,556H1401.3" stroke-dasharray="8.8 22.71" opacity="0.26"/>
<path d="M192.4,510.8H1401.3" stroke-dasharray="22.6 8.91" opacity="0.30"/>
<path d="M199.3,510.8H1401.3" stroke-dasharray="8.8 22.71" opacity="0.26"/>
<path d="M192.4,465.6H1401.3" stroke-dasharray="22.6 8.91" opacity="0.30"/>
<path d="M199.3,465.6H1401.3" stroke-dasharray="8.8 22.71" opacity="0.26"/>
<path d="M192.4,420.4H1401.3" stroke-dasharray="22.6 8.91" opacity="0.30"/>
<path d="M199.3,420.4H1401.3" stroke-dasharray="8.8 22.71" opacity="0.26"/>
<path d="M192.4,375.2H1401.3" stroke-dasharray="22.6 8.91" opacity="0.30"/>
<path d="M199.3,375.2H1401.3" stroke-dasharray="8.8 22.71" opacity="0.26"/>
<path d="M192.4,330H1401.3" stroke-dasharray="22.6 8.91" opacity="0.30"/>
<path d="M199.3,330H1401.3" stroke-dasharray="8.8 22.71" opacity="0.26"/>
<path d="M192.4,284.8H1401.3" stroke-dasharray="22.6 8.91" opacity="0.30"/>
<path d="M199.3,284.8H1401.3" stroke-dasharray="8.8 22.71" opacity="0.26"/>
<path d="M192.4,239.6H1401.3" stroke-dasharray="22.6 8.91" opacity="0.30"/>
<path d="M199.3,239.6H1401.3" stroke-dasharray="8.8 22.71" opacity="0.26"/>
<path d="M192.4,194.4H1401.3" stroke-dasharray="22.6 8.91" opacity="0.30"/>
<path d="M199.3,194.4H1401.3" stroke-dasharray="8.8 22.71" opacity="0.26"/>
<path d="M192.4,149.1H1401.3" stroke-dasharray="22.6 8.91" opacity="0.30"/>
<path d="M199.3,149.1H1401.3" stroke-dasharray="8.8 22.71" opacity="0.26"/>
<path d="M190.5,23L1464.3,-890.7" stroke-dasharray="32.4 11.93 21.3 11.93" opacity="0.30"/>
<path d="M193.7,20.6L1464.3,-890.7" stroke-dasharray="24.5 19.53 14.0 19.53" opacity="0.24"/>
<path d="M190.5,68.2L1464.3,-845.5" stroke-dasharray="32.4 11.93 21.3 11.93" opacity="0.30"/>
<path d="M193.7,65.9L1464.3,-845.5" stroke-dasharray="24.5 19.53 14.0 19.53" opacity="0.24"/>
<path d="M190.5,113.4L1464.3,-800.3" stroke-dasharray="32.4 11.93 21.3 11.93" opacity="0.30"/>
<path d="M193.7,111.1L1464.3,-800.3" stroke-dasharray="24.5 19.53 14.0 19.53" opacity="0.24"/>
<path d="M190.5,158.6L1464.3,-755.1" stroke-dasharray="32.4 11.93 21.3 11.93" opacity="0.30"/>
<path d="M193.7,156.3L1464.3,-755.1" stroke-dasharray="24.5 19.53 14.0 19.53" opacity="0.24"/>
<path d="M190.5,203.8L1464.3,-709.9" stroke-dasharray="32.4 11.93 21.3 11.93" opacity="0.30"/>
<path d="M193.7,201.5L1464.3,-709.9" stroke-dasharray="24.5 19.53 14.0 19.53" opacity="0.24"/>
<path d="M190.5,249L1464.3,-664.6" stroke-dasharray="32.4 11.93 21.3 11.93" opacity="0.30"/>
<path d="M193.7,246.7L1464.3,-664.6" stroke-dasharray="24.5 19.53 14.0 19.53" opacity="0.24"/>
<path d="M190.5,294.2L1464.3,-619.4" stroke-dasharray="32.4 11.93 21.3 11.93" opacity="0.30"/>
<path d="M193.7,291.9L1464.3,-619.4" stroke-dasharray="24.5 19.53 14.0 19.53" opacity="0.24"/>
<path d="M190.5,339.4L1464.3,-574.2" stroke-dasharray="32.4 11.93 21.3 11.93" opacity="0.30"/>
<path d="M193.7,337.1L1464.3,-574.2" stroke-dasharray="24.5 19.53 14.0 19.53" opacity="0.24"/>
<path d="M190.5,384.6L1464.3,-529" stroke-dasharray="32.4 11.93 21.3 11.93" opacity="0.30"/>
<path d="M193.7,382.3L1464.3,-529" stroke-dasharray="24.5 19.53 14.0 19.53" opacity="0.24"/>
<path d="M190.5,429.8L1464.3,-483.8" stroke-dasharray="32.4 11.93 21.3 11.93" opacity="0.30"/>
<path d="M193.7,427.5L1464.3,-483.8" stroke-dasharray="24.5 19.53 14.0 19.53" opacity="0.24"/>
<path d="M190.5,475.1L1464.3,-438.6" stroke-dasharray="32.4 11.93 21.3 11.93" opacity="0.30"/>
<path d="M193.7,472.7L1464.3,-438.6" stroke-dasharray="24.5 19.53 14.0 19.53" opacity="0.24"/>
<path d="M190.5,520.3L1464.3,-393.4" stroke-dasharray="32.4 11.93 21.3 11.93" opacity="0.30"/>
<path d="M193.7,518L1464.3,-393.4" stroke-dasharray="24.5 19.53 14.0 19.53" opacity="0.24"/>
<path d="M190.5,565.5L1464.3,-348.2" stroke-dasharray="32.4 11.93 21.3 11.93" opacity="0.30"/>
<path d="M193.7,563.2L1464.3,-348.2" stroke-dasharray="24.5 19.53 14.0 19.53" opacity="0.24"/>
<path d="M190.5,610.7L1464.3,-303" stroke-dasharray="32.4 11.93 21.3 11.93" opacity="0.30"/>
<path d="M193.7,608.4L1464.3,-303" stroke-dasharray="24.5 19.53 14.0 19.53" opacity="0.24"/>
<path d="M190.5,655.9L1464.3,-257.8" stroke-dasharray="32.4 11.93 21.3 11.93" opacity="0.30"/>
<path d="M193.7,653.6L1464.3,-257.8" stroke-dasharray="24.5 19.53 14.0 19.53" opacity="0.24"/>
<path d="M190.5,701.1L1464.3,-212.5" stroke-dasharray="32.4 11.93 21.3 11.93" opacity="0.30"/>
<path d="M193.7,698.8L1464.3,-212.5" stroke-dasharray="24.5 19.53 14.0 19.53" opacity="0.24"/>
<path d="M190.5,746.3L1464.3,-167.3" stroke-dasharray="32.4 11.93 21.3 11.93" opacity="0.30"/>
<path d="M193.7,744L1464.3,-167.3" stroke-dasharray="24.5 19.53 14.0 19.53" opacity="0.24"/>
<path d="M190.5,791.5L1464.3,-122.1" stroke-dasharray="32.4 11.93 21.3 11.93" opacity="0.30"/>
<path d="M193.7,789.2L1464.3,-122.1" stroke-dasharray="24.5 19.53 14.0 19.53" opacity="0.24"/>
<path d="M190.5,836.7L1464.3,-76.9" stroke-dasharray="32.4 11.93 21.3 11.93" opacity="0.30"/>
<path d="M193.7,834.4L1464.3,-76.9" stroke-dasharray="24.5 19.53 14.0 19.53" opacity="0.24"/>
<path d="M190.5,881.9L1464.3,-31.7" stroke-dasharray="32.4 11.93 21.3 11.93" opacity="0.30"/>
<path d="M193.7,879.6L1464.3,-31.7" stroke-dasharray="24.5 19.53 14.0 19.53" opacity="0.24"/>
<path d="M253.6,881.9L1527.3,-31.7" stroke-dasharray="32.4 11.93 21.3 11.93" opacity="0.30"/>
<path d="M256.8,879.6L1527.3,-31.7" stroke-dasharray="24.5 19.53 14.0 19.53" opacity="0.24"/>
<path d="M316.6,881.9L1590.4,-31.7" stroke-dasharray="32.4 11.93 21.3 11.93" opacity="0.30"/>
<path d="M319.8,879.6L1590.4,-31.7" stroke-dasharray="24.5 19.53 14.0 19.53" opacity="0.24"/>
<path d="M379.6,881.9L1653.4,-31.7" stroke-dasharray="32.4 11.93 21.3 11.93" opacity="0.30"/>
<path d="M382.8,879.6L1653.4,-31.7" stroke-dasharray="24.5 19.53 14.0 19.53" opacity="0.24"/>
<path d="M442.7,881.9L1716.4,-31.7" stroke-dasharray="32.4 11.93 21.3 11.93" opacity="0.30"/>
<path d="M445.9,879.6L1716.4,-31.7" stroke-dasharray="24.5 19.53 14.0 19.53" opacity="0.24"/>
<path d="M505.7,881.9L1779.4,-31.7" stroke-dasharray="32.4 11.93 21.3 11.93" opacity="0.30"/>
<path d="M508.9,879.6L1779.4,-31.7" stroke-dasharray="24.5 19.53 14.0 19.53" opacity="0.24"/>
<path d="M568.7,881.9L1842.5,-31.7" stroke-dasharray="32.4 11.93 21.3 11.93" opacity="0.30"/>
<path d="M571.9,879.6L1842.5,-31.7" stroke-dasharray="24.5 19.53 14.0 19.53" opacity="0.24"/>
<path d="M631.7,881.9L1905.5,-31.7" stroke-dasharray="32.4 11.93 21.3 11.93" opacity="0.30"/>
<path d="M635,879.6L1905.5,-31.7" stroke-dasharray="24.5 19.53 14.0 19.53" opacity="0.24"/>
<path d="M694.8,881.9L1968.5,-31.7" stroke-dasharray="32.4 11.93 21.3 11.93" opacity="0.30"/>
<path d="M698,879.6L1968.5,-31.7" stroke-dasharray="24.5 19.53 14.0 19.53" opacity="0.24"/>
<path d="M757.8,881.9L2031.6,-31.7" stroke-dasharray="32.4 11.93 21.3 11.93" opacity="0.30"/>
<path d="M761,879.6L2031.6,-31.7" stroke-dasharray="24.5 19.53 14.0 19.53" opacity="0.24"/>
<path d="M820.8,881.9L2094.6,-31.7" stroke-dasharray="32.4 11.93 21.3 11.93" opacity="0.30"/>
<path d="M824,879.6L2094.6,-31.7" stroke-dasharray="24.5 19.53 14.0 19.53" opacity="0.24"/>
<path d="M883.9,881.9L2157.6,-31.7" stroke-dasharray="32.4 11.93 21.3 11.93" opacity="0.30"/>
<path d="M887.1,879.6L2157.6,-31.7" stroke-dasharray="24.5 19.53 14.0 19.53" opacity="0.24"/>
<path d="M946.9,881.9L2220.7,-31.7" stroke-dasharray="32.4 11.93 21.3 11.93" opacity="0.30"/>
<path d="M950.1,879.6L2220.7,-31.7" stroke-dasharray="24.5 19.53 14.0 19.53" opacity="0.24"/>
<path d="M1009.9,881.9L2283.7,-31.7" stroke-dasharray="32.4 11.93 21.3 11.93" opacity="0.30"/>
<path d="M1013.1,879.6L2283.7,-31.7" stroke-dasharray="24.5 19.53 14.0 19.53" opacity="0.24"/>
<path d="M1073,881.9L2346.7,-31.7" stroke-dasharray="32.4 11.93 21.3 11.93" opacity="0.30"/>
<path d="M1076.2,879.6L2346.7,-31.7" stroke-dasharray="24.5 19.53 14.0 19.53" opacity="0.24"/>
<path d="M1136,881.9L2409.8,-31.7" stroke-dasharray="32.4 11.93 21.3 11.93" opacity="0.30"/>
<path d="M1139.2,879.6L2409.8,-31.7" stroke-dasharray="24.5 19.53 14.0 19.53" opacity="0.24"/>
<path d="M1199,881.9L2472.8,-31.7" stroke-dasharray="32.4 11.93 21.3 11.93" opacity="0.30"/>
<path d="M1202.2,879.6L2472.8,-31.7" stroke-dasharray="24.5 19.53 14.0 19.53" opacity="0.24"/>
<path d="M1262,881.9L2535.8,-31.7" stroke-dasharray="32.4 11.93 21.3 11.93" opacity="0.30"/>
<path d="M1265.3,879.6L2535.8,-31.7" stroke-dasharray="24.5 19.53 14.0 19.53" opacity="0.24"/>
<path d="M1325.1,881.9L2598.8,-31.7" stroke-dasharray="32.4 11.93 21.3 11.93" opacity="0.30"/>
<path d="M1328.3,879.6L2598.8,-31.7" stroke-dasharray="24.5 19.53 14.0 19.53" opacity="0.24"/>
<path d="M1388.1,881.9L2661.9,-31.7" stroke-dasharray="32.4 11.93 21.3 11.93" opacity="0.30"/>
<path d="M1391.3,879.6L2661.9,-31.7" stroke-dasharray="24.5 19.53 14.0 19.53" opacity="0.24"/>
</g>
<g stroke-opacity="0.32">
<path d="M218.4,140.2L257.6,110.8M252,140.2L212.8,110.8"/>
<path d="M235.2,101.9V127.6"/>
<path d="M203.7,101.9V116.9"/>
<path d="M281.5,140.2L320.6,110.8M315,140.2L275.9,110.8"/>
<path d="M298.2,101.9V127.6"/>
<path d="M266.7,101.9V116.9"/>
<path d="M344.5,140.2L383.7,110.8M378.1,140.2L338.9,110.8"/>
<path d="M361.3,101.9V127.6"/>
<path d="M329.8,101.9V116.9"/>
<path d="M407.5,140.2L446.7,110.8M441.1,140.2L401.9,110.8"/>
<path d="M424.3,101.9V127.6"/>
<path d="M392.8,101.9V116.9"/>
<path d="M470.6,140.2L509.7,110.8M504.1,140.2L465,110.8"/>
<path d="M487.3,101.9V127.6"/>
<path d="M455.8,101.9V116.9"/>
<path d="M533.6,140.2L572.7,110.8M567.1,140.2L528,110.8"/>
<path d="M550.4,101.9V127.6"/>
<path d="M518.8,101.9V116.9"/>
<path d="M596.6,140.2L635.8,110.8M630.2,140.2L591,110.8"/>
<path d="M613.4,101.9V127.6"/>
<path d="M581.9,101.9V116.9"/>
<path d="M659.6,140.2L698.8,110.8M693.2,140.2L654,110.8"/>
<path d="M676.4,101.9V127.6"/>
<path d="M644.9,101.9V116.9"/>
<path d="M722.7,140.2L761.8,110.8M756.2,140.2L717.1,110.8"/>
<path d="M739.5,101.9V127.6"/>
<path d="M707.9,101.9V116.9"/>
<path d="M785.7,140.2L824.9,110.8M819.3,140.2L780.1,110.8"/>
<path d="M802.5,101.9V127.6"/>
<path d="M771,101.9V116.9"/>
<path d="M848.7,140.2L887.9,110.8M882.3,140.2L843.1,110.8"/>
<path d="M865.5,101.9V127.6"/>
<path d="M834,101.9V116.9"/>
<path d="M911.8,140.2L950.9,110.8M945.3,140.2L906.2,110.8"/>
<path d="M928.5,101.9V127.6"/>
<path d="M897,101.9V116.9"/>
<path d="M974.8,140.2L1014,110.8M1008.4,140.2L969.2,110.8"/>
<path d="M991.6,101.9V127.6"/>
<path d="M960.1,101.9V116.9"/>
<path d="M1037.8,140.2L1077,110.8M1071.4,140.2L1032.2,110.8"/>
<path d="M1054.6,101.9V127.6"/>
<path d="M1023.1,101.9V116.9"/>
<path d="M1100.9,140.2L1140,110.8M1134.4,140.2L1095.3,110.8"/>
<path d="M1117.6,101.9V127.6"/>
<path d="M1086.1,101.9V116.9"/>
<path d="M1163.9,140.2L1203,110.8M1197.4,140.2L1158.3,110.8"/>
<path d="M1180.7,101.9V127.6"/>
<path d="M1149.2,101.9V116.9"/>
<path d="M1226.9,140.2L1266.1,110.8M1260.5,140.2L1221.3,110.8"/>
<path d="M1243.7,101.9V127.6"/>
<path d="M1212.2,101.9V116.9"/>
<path d="M1289.9,140.2L1329.1,110.8M1323.5,140.2L1284.3,110.8"/>
<path d="M1306.7,101.9V127.6"/>
<path d="M1275.2,101.9V116.9"/>
<path d="M1353,140.2L1392.1,110.8M1386.5,140.2L1347.4,110.8"/>
<path d="M1369.8,101.9V127.6"/>
<path d="M1338.2,101.9V116.9"/>
<path d="M1212.2,160V872.5" stroke-dasharray="34 11"/>
<path d="M1243.5,170V872.5"/>
<path d="M1243.5,872.5L1261.4,849.9M1243.5,849.9L1261.4,872.5"/>
<path d="M1229.5,869.5L1261.4,840.9M1247.5,861.2H1261.4"/>
<path d="M1243.5,849.9L1261.4,827.3M1243.5,827.3L1261.4,849.9"/>
<path d="M1229.5,846.9L1261.4,818.3M1247.5,838.6H1261.4"/>
<path d="M1243.5,827.3L1261.4,804.7M1243.5,804.7L1261.4,827.3"/>
<path d="M1229.5,824.3L1261.4,795.7M1247.5,816H1261.4"/>
<path d="M1243.5,804.7L1261.4,782.1M1243.5,782.1L1261.4,804.7"/>
<path d="M1229.5,801.7L1261.4,773.1M1247.5,793.4H1261.4"/>
<path d="M1243.5,782.1L1261.4,759.5M1243.5,759.5L1261.4,782.1"/>
<path d="M1229.5,779.1L1261.4,750.5M1247.5,770.8H1261.4"/>
<path d="M1243.5,759.5L1261.4,736.9M1243.5,736.9L1261.4,759.5"/>
<path d="M1229.5,756.5L1261.4,727.9M1247.5,748.2H1261.4"/>
<path d="M1243.5,736.9L1261.4,714.3M1243.5,714.3L1261.4,736.9"/>
<path d="M1229.5,733.9L1261.4,705.3M1247.5,725.6H1261.4"/>
<path d="M1243.5,714.3L1261.4,691.7M1243.5,691.7L1261.4,714.3"/>
<path d="M1229.5,711.3L1261.4,682.7M1247.5,703H1261.4"/>
<path d="M1243.5,691.7L1261.4,669.1M1243.5,669.1L1261.4,691.7"/>
<path d="M1229.5,688.7L1261.4,660.1M1247.5,680.4H1261.4"/>
<path d="M1243.5,669.1L1261.4,646.5M1243.5,646.5L1261.4,669.1"/>
<path d="M1229.5,666.1L1261.4,637.5M1247.5,657.8H1261.4"/>
<path d="M1243.5,646.5L1261.4,623.8M1243.5,623.8L1261.4,646.5"/>
<path d="M1229.5,643.5L1261.4,614.8M1247.5,635.1H1261.4"/>
<path d="M1243.5,623.8L1261.4,601.2M1243.5,601.2L1261.4,623.8"/>
<path d="M1229.5,620.8L1261.4,592.2M1247.5,612.5H1261.4"/>
<path d="M1243.5,601.2L1261.4,578.6M1243.5,578.6L1261.4,601.2"/>
<path d="M1229.5,598.2L1261.4,569.6M1247.5,589.9H1261.4"/>
<path d="M1243.5,578.6L1261.4,556M1243.5,556L1261.4,578.6"/>
<path d="M1229.5,575.6L1261.4,547M1247.5,567.3H1261.4"/>
<path d="M1243.5,556L1261.4,533.4M1243.5,533.4L1261.4,556"/>
<path d="M1229.5,553L1261.4,524.4M1247.5,544.7H1261.4"/>
<path d="M1243.5,533.4L1261.4,510.8M1243.5,510.8L1261.4,533.4"/>
<path d="M1229.5,530.4L1261.4,501.8M1247.5,522.1H1261.4"/>
<path d="M1243.5,510.8L1261.4,488.2M1243.5,488.2L1261.4,510.8"/>
<path d="M1229.5,507.8L1261.4,479.2M1247.5,499.5H1261.4"/>
<path d="M1243.5,488.2L1261.4,465.6M1243.5,465.6L1261.4,488.2"/>
<path d="M1229.5,485.2L1261.4,456.6M1247.5,476.9H1261.4"/>
<path d="M1243.5,465.6L1261.4,443M1243.5,443L1261.4,465.6"/>
<path d="M1229.5,462.6L1261.4,434M1247.5,454.3H1261.4"/>
<path d="M1243.5,443L1261.4,420.4M1243.5,420.4L1261.4,443"/>
<path d="M1229.5,440L1261.4,411.4M1247.5,431.7H1261.4"/>
<path d="M1243.5,420.4L1261.4,397.8M1243.5,397.8L1261.4,420.4"/>
<path d="M1229.5,417.4L1261.4,388.8M1247.5,409.1H1261.4"/>
<path d="M1243.5,397.8L1261.4,375.2M1243.5,375.2L1261.4,397.8"/>
<path d="M1229.5,394.8L1261.4,366.2M1247.5,386.5H1261.4"/>
<path d="M1243.5,375.2L1261.4,352.6M1243.5,352.6L1261.4,375.2"/>
<path d="M1229.5,372.2L1261.4,343.6M1247.5,363.9H1261.4"/>
<path d="M1243.5,352.6L1261.4,330M1243.5,330L1261.4,352.6"/>
<path d="M1229.5,349.6L1261.4,321M1247.5,341.3H1261.4"/>
<path d="M1243.5,330L1261.4,307.4M1243.5,307.4L1261.4,330"/>
<path d="M1229.5,327L1261.4,298.4M1247.5,318.7H1261.4"/>
<path d="M1243.5,307.4L1261.4,284.8M1243.5,284.8L1261.4,307.4"/>
<path d="M1229.5,304.4L1261.4,275.8M1247.5,296.1H1261.4"/>
<path d="M1243.5,284.8L1261.4,262.2M1243.5,262.2L1261.4,284.8"/>
<path d="M1229.5,281.8L1261.4,253.2M1247.5,273.5H1261.4"/>
<path d="M1243.5,262.2L1261.4,239.6M1243.5,239.6L1261.4,262.2"/>
<path d="M1229.5,259.2L1261.4,230.6M1247.5,250.9H1261.4"/>
<path d="M1243.5,239.6L1261.4,217M1243.5,217L1261.4,239.6"/>
<path d="M1229.5,236.6L1261.4,208M1247.5,228.3H1261.4"/>
<path d="M1243.5,217L1261.4,194.4M1243.5,194.4L1261.4,217"/>
<path d="M1229.5,214L1261.4,185.4M1247.5,205.7H1261.4"/>
<path d="M1243.5,194.4L1261.4,171.7M1243.5,171.7L1261.4,194.4"/>
<path d="M1229.5,191.4L1261.4,162.7M1247.5,183H1261.4"/>
<path d="M1243.5,171.7L1261.4,149.1M1243.5,149.1L1261.4,171.7"/>
<path d="M1229.5,168.7L1261.4,140.1M1247.5,160.4H1261.4"/>
<path d="M1220.2,853.9L1241.5,831.9M1220.2,845.9L1241.5,867.9" stroke-dasharray="20 8"/>
<path d="M1212.2,872.5H1243.5"/>
<path d="M1220.2,808.7L1241.5,786.7M1220.2,800.7L1241.5,822.7" stroke-dasharray="20 8"/>
<path d="M1212.2,827.3H1243.5"/>
<path d="M1220.2,763.5L1241.5,741.5M1220.2,755.5L1241.5,777.5" stroke-dasharray="20 8"/>
<path d="M1212.2,782.1H1243.5"/>
<path d="M1220.2,718.3L1241.5,696.3M1220.2,710.3L1241.5,732.3" stroke-dasharray="20 8"/>
<path d="M1212.2,736.9H1243.5"/>
<path d="M1220.2,673.1L1241.5,651.1M1220.2,665.1L1241.5,687.1" stroke-dasharray="20 8"/>
<path d="M1212.2,691.7H1243.5"/>
<path d="M1220.2,627.8L1241.5,605.8M1220.2,619.8L1241.5,641.8" stroke-dasharray="20 8"/>
<path d="M1212.2,646.5H1243.5"/>
<path d="M1220.2,582.6L1241.5,560.6M1220.2,574.6L1241.5,596.6" stroke-dasharray="20 8"/>
<path d="M1212.2,601.2H1243.5"/>
<path d="M1220.2,537.4L1241.5,515.4M1220.2,529.4L1241.5,551.4" stroke-dasharray="20 8"/>
<path d="M1212.2,556H1243.5"/>
<path d="M1220.2,492.2L1241.5,470.2M1220.2,484.2L1241.5,506.2" stroke-dasharray="20 8"/>
<path d="M1212.2,510.8H1243.5"/>
<path d="M1220.2,447L1241.5,425M1220.2,439L1241.5,461" stroke-dasharray="20 8"/>
<path d="M1212.2,465.6H1243.5"/>
<path d="M1220.2,401.8L1241.5,379.8M1220.2,393.8L1241.5,415.8" stroke-dasharray="20 8"/>
<path d="M1212.2,420.4H1243.5"/>
<path d="M1220.2,356.6L1241.5,334.6M1220.2,348.6L1241.5,370.6" stroke-dasharray="20 8"/>
<path d="M1212.2,375.2H1243.5"/>
<path d="M1220.2,311.4L1241.5,289.4M1220.2,303.4L1241.5,325.4" stroke-dasharray="20 8"/>
<path d="M1212.2,330H1243.5"/>
<path d="M1220.2,266.2L1241.5,244.2M1220.2,258.2L1241.5,280.2" stroke-dasharray="20 8"/>
<path d="M1212.2,284.8H1243.5"/>
<path d="M1220.2,221L1241.5,199M1220.2,213L1241.5,235" stroke-dasharray="20 8"/>
<path d="M1212.2,239.6H1243.5"/>
</g>
</g>
<path d="M203.7,101.9L210.5,101.9 217.3,101.9 224.2,101.9 231,101.9 237.8,101.9 244.6,101.9 251.4,101.9 258.2,101.9 265.1,101.9 271.9,101.9 278.7,101.9 285.5,101.9 292.3,101.9 299.1,101.9 306,101.9 312.8,101.9 319.6,101.9 326.4,101.9 333.2,101.9 340,101.9 346.9,101.9 353.7,101.9 360.5,101.9 367.3,101.9 374.1,101.9 380.9,101.9 387.8,101.9 394.6,101.9 401.4,101.9 408.2,101.9 415,101.9 421.8,101.9 428.7,101.9 435.5,101.9 442.3,101.9 449.1,101.9 455.9,101.9 462.7,101.9 469.6,101.9 476.4,101.9 483.2,101.9 490,101.9 496.8,101.9 503.6,101.9 510.5,101.9 517.3,101.9 524.1,101.9 530.9,101.9 537.7,101.9 544.5,101.9 551.4,101.9 558.2,101.9 565,101.9 571.8,101.9 578.6,101.9 585.5,101.9 592.3,101.9 599.1,102 605.9,102 612.7,102 619.5,102 626.4,102 633.2,102 640,102 646.8,102 653.6,102 660.4,102 667.3,102 674.1,102 680.9,102.1 687.7,102.1 694.5,102.1 701.3,102.1 708.2,102.1 715,102.1 721.8,102.1 728.6,102.1 735.4,102.2 742.2,102.2 749.1,102.2 755.9,102.2 762.7,102.2 769.5,102.2 776.3,102.2 783.1,102.3 790,102.3 796.8,102.3 803.6,102.3 810.4,102.4 817.2,102.4 824,102.4 830.9,102.5 837.7,102.5 844.5,102.5 851.3,102.6 858.1,102.6 864.9,102.7 871.8,102.7 878.6,102.8 885.4,102.9 892.2,102.9 899,103.1 905.8,103.2 912.7,103.3 919.5,103.5 926.3,103.7 933.1,103.9 939.9,104.1 946.7,104.3 953.5,104.5 960.4,104.7 967.2,105 974,105.2 980.8,105.4 987.6,105.7 994.4,106 1001.2,106.3 1008,106.6 1014.9,106.9 1021.7,107.3 1028.5,107.6 1035.3,108 1042.1,108.4 1048.9,108.8 1055.7,109.2 1062.5,109.7 1069.3,110.2 1076.1,110.7 1082.9,111.3 1089.7,111.9 1096.5,112.6 1103.2,113.3 1110,114 1116.8,114.7 1123.6,115.5 1130.3,116.4 1137.1,117.3 1143.9,118.3 1150.6,119.4 1157.3,120.6 1164,121.9 1170.7,123.3 1177.4,124.9 1184,126.6 1190.6,128.5 1197,130.5 1203.4,132.8 1209.7,135.5 1215.8,138.7 1221.6,142.2 1227,146.2 1232.2,150.7 1237.1,155.7 1241.4,160.8 1245.5,166.3 1249.2,172.2 1252.1,178.3 1254.6,184.6 1256.8,191.1 1258.5,197.8 1259.5,204.5 1260.3,211.2 1260.9,218.1 1261.3,224.9 1261.5,231.7 1261.6,238.5 1261.7,245.3 1261.8,252.2 1261.8,259 1261.8,265.8 1261.8,272.6 1261.8,279.4 1261.7,286.2 1261.7,293.1 1261.7,299.9 1261.6,306.7 1261.6,313.5 1261.6,320.3 1261.6,327.1 1261.6,334 1261.6,340.8 1261.6,347.6 1261.5,354.4 1261.5,361.2 1261.5,368 1261.5,374.9 1261.5,381.7 1261.5,388.5 1261.5,395.3 1261.5,402.1 1261.5,408.9 1261.5,415.8 1261.4,422.6 1261.4,429.4 1261.4,436.2 1261.4,443 1261.4,449.8 1261.4,456.7 1261.4,463.5 1261.4,470.3 1261.4,477.1 1261.4,483.9 1261.4,490.7 1261.4,497.6 1261.4,504.4 1261.4,511.2 1261.4,518 1261.4,524.8 1261.4,531.7 1261.4,538.5 1261.4,545.3 1261.4,552.1 1261.4,558.9 1261.4,565.7 1261.4,572.6 1261.4,579.4 1261.4,586.2 1261.4,593 1261.4,599.8 1261.4,606.6 1261.4,613.5 1261.4,620.3 1261.4,627.1 1261.4,633.9 1261.4,640.7 1261.4,647.5 1261.4,654.4 1261.4,661.2 1261.4,668 1261.4,674.8 1261.4,681.6 1261.4,688.4 1261.4,695.3 1261.4,702.1 1261.4,708.9 1261.4,715.7 1261.4,722.5 1261.4,729.3 1261.4,736.2 1261.4,743 1261.4,749.8 1261.4,756.6 1261.4,763.4 1261.4,770.2 1261.4,777.1 1261.4,783.9 1261.4,790.7 1261.4,797.5 1261.4,804.3 1261.4,811.1 1261.4,818 1261.4,824.8 1261.4,831.6 1261.4,838.4 1261.4,845.2 1261.4,852 1261.4,858.9 1261.4,865.7 1261.4,872.5" fill="none" stroke="#5e81b5" stroke-width="6.8"/>
<g stroke="#000" fill="none">
<path d="M204.1,872.6V858.9M204.1,13.5V27.2M203.6,872.9H216.2M1401.3,872.9H1388.6M284.2,872.6V862.8M284.2,13.5V23.4M203.6,815.4H212.7M1401.3,815.4H1392.1M331.1,872.6V862.8M331.1,13.5V23.4M203.6,781.8H212.7M1401.3,781.8H1392.1M364.4,872.6V862.8M364.4,13.5V23.4M203.6,757.9H212.7M1401.3,757.9H1392.1M390.2,872.6V862.8M390.2,13.5V23.4M203.6,739.4H212.7M1401.3,739.4H1392.1M411.2,872.6V862.8M411.2,13.5V23.4M203.6,724.3H212.7M1401.3,724.3H1392.1M429.1,872.6V862.8M429.1,13.5V23.4M203.6,711.5H212.7M1401.3,711.5H1392.1M444.5,872.6V862.8M444.5,13.5V23.4M203.6,700.5H212.7M1401.3,700.5H1392.1M458.1,872.6V862.8M458.1,13.5V23.4M203.6,690.7H212.7M1401.3,690.7H1392.1M470.3,872.6V858.9M470.3,13.5V27.2M203.6,682H216.2M1401.3,682H1388.6M550.4,872.6V862.8M550.4,13.5V23.4M203.6,624.5H212.7M1401.3,624.5H1392.1M597.3,872.6V862.8M597.3,13.5V23.4M203.6,590.8H212.7M1401.3,590.8H1392.1M630.6,872.6V862.8M630.6,13.5V23.4M203.6,567H212.7M1401.3,567H1392.1M656.4,872.6V862.8M656.4,13.5V23.4M203.6,548.5H212.7M1401.3,548.5H1392.1M677.4,872.6V862.8M677.4,13.5V23.4M203.6,533.4H212.7M1401.3,533.4H1392.1M695.3,872.6V862.8M695.3,13.5V23.4M203.6,520.6H212.7M1401.3,520.6H1392.1M710.7,872.6V862.8M710.7,13.5V23.4M203.6,509.5H212.7M1401.3,509.5H1392.1M724.3,872.6V862.8M724.3,13.5V23.4M203.6,499.7H212.7M1401.3,499.7H1392.1M736.5,872.6V858.9M736.5,13.5V27.2M203.6,491H216.2M1401.3,491H1388.6M816.6,872.6V862.8M816.6,13.5V23.4M203.6,433.5H212.7M1401.3,433.5H1392.1M863.5,872.6V862.8M863.5,13.5V23.4M203.6,399.9H212.7M1401.3,399.9H1392.1M896.8,872.6V862.8M896.8,13.5V23.4M203.6,376H212.7M1401.3,376H1392.1M922.6,872.6V862.8M922.6,13.5V23.4M203.6,357.5H212.7M1401.3,357.5H1392.1M943.6,872.6V862.8M943.6,13.5V23.4M203.6,342.4H212.7M1401.3,342.4H1392.1M961.5,872.6V862.8M961.5,13.5V23.4M203.6,329.6H212.7M1401.3,329.6H1392.1M976.9,872.6V862.8M976.9,13.5V23.4M203.6,318.6H212.7M1401.3,318.6H1392.1M990.5,872.6V862.8M990.5,13.5V23.4M203.6,308.8H212.7M1401.3,308.8H1392.1M1002.7,872.6V858.9M1002.7,13.5V27.2M203.6,300.1H216.2M1401.3,300.1H1388.6M1082.8,872.6V862.8M1082.8,13.5V23.4M203.6,242.6H212.7M1401.3,242.6H1392.1M1129.7,872.6V862.8M1129.7,13.5V23.4M203.6,208.9H212.7M1401.3,208.9H1392.1M1163,872.6V862.8M1163,13.5V23.4M203.6,185.1H212.7M1401.3,185.1H1392.1M1188.8,872.6V862.8M1188.8,13.5V23.4M203.6,166.6H212.7M1401.3,166.6H1392.1M1209.8,872.6V862.8M1209.8,13.5V23.4M203.6,151.5H212.7M1401.3,151.5H1392.1M1227.7,872.6V862.8M1227.7,13.5V23.4M203.6,138.7H212.7M1401.3,138.7H1392.1M1243.1,872.6V862.8M1243.1,13.5V23.4M203.6,127.6H212.7M1401.3,127.6H1392.1M1256.7,872.6V862.8M1256.7,13.5V23.4M203.6,117.8H212.7M1401.3,117.8H1392.1M1268.9,872.6V858.9M1268.9,13.5V27.2M203.6,109.1H216.2M1401.3,109.1H1388.6M1349,872.6V862.8M1349,13.5V23.4M203.6,51.6H212.7M1401.3,51.6H1392.1M1395.9,872.6V862.8M1395.9,13.5V23.4M203.6,18H212.7M1401.3,18H1392.1" stroke-width="6"/>
<rect x="203.6" y="13.5" width="1197.7" height="859.1" stroke-width="6.9"/>
</g>
<g font-size="46.3">
<text transform="translate(191.5,697.6) scale(0.848,1)" text-anchor="end">0.001</text>
<text transform="translate(470.3,928.4) scale(0.848,1)" text-anchor="middle">0.001</text>
<text transform="translate(191.5,506.6) scale(0.848,1)" text-anchor="end">0.010</text>
<text transform="translate(736.5,928.4) scale(0.848,1)" text-anchor="middle">0.010</text>
<text transform="translate(191.5,315.7) scale(0.848,1)" text-anchor="end">0.100</text>
<text transform="translate(1002.7,928.4) scale(0.848,1)" text-anchor="middle">0.100</text>
<text transform="translate(191.5,124.7) scale(0.848,1)" text-anchor="end">1</text>
<text transform="translate(1268.9,928.4) scale(0.848,1)" text-anchor="middle">1</text>
<text transform="translate(117.6,895.2) scale(0.848,1)">10</text>
<text transform="translate(160.6,872.3) scale(0.78016,1)" font-size="31.7">−4</text>
<text transform="translate(166.8,941.2) scale(0.848,1)">10</text>
<text transform="translate(209.9,918.3) scale(0.78016,1)" font-size="31.7">−4</text>
</g>
<text transform="translate(747.1,1044.6) scale(0.755,1)" font-size="63.2" style="stroke-width:0px">|</text>
<text transform="translate(764.6,1045) scale(0.99,1)" font-size="61.0" font-style="italic" style="stroke-width:0.6px">λ</text>
<text transform="translate(796.3,1057.8) scale(0.78,1)" font-size="50.4" style="stroke-width:0.7px">1</text>
<text transform="translate(819.2,1057.4) scale(0.78,1)" font-size="50.4" style="stroke-width:0.7px">3</text>
<text transform="translate(844.4,1044.6) scale(0.755,1)" font-size="63.2" style="stroke-width:0px">|</text>
<text transform="translate(52.6,507.1) rotate(-90) scale(1.0,1)" font-size="54.5" style="stroke-width:0px">|</text>
<text transform="translate(53.7,487.6) rotate(-90) scale(1.26,1)" font-size="52.8" font-style="italic" style="stroke-width:0.6px">λ</text>
<text transform="translate(64,450.5) rotate(-90) scale(1.04,1)" font-size="43.8" style="stroke-width:0.7px">1</text>
<text transform="translate(64,424.7) rotate(-90) scale(1.04,1)" font-size="43.8" style="stroke-width:0.7px">4</text>
<text transform="translate(52.6,394.8) rotate(-90) scale(1.0,1)" font-size="54.5" style="stroke-width:0px">|</text>
<path d="M285.1,434.2H364.2" stroke="#ff0000" stroke-width="7.7"/>
<text transform="translate(384,450) scale(0.862,1)" font-size="55.2"><tspan font-style="italic">m</tspan><tspan font-size="38.5" dy="10">1</tspan><tspan dy="-10">=1</tspan><tspan dx="-1">TeV</tspan></text>
<path d="M285.1,527.9H364.2" stroke="#0000ff" stroke-width="7.7"/>
<text transform="translate(384,543.7) scale(0.862,1)" font-size="55.2"><tspan font-style="italic">m</tspan><tspan font-size="38.5" dy="10">1</tspan><tspan dy="-10">=2</tspan><tspan dx="13.5">TeV</tspan></text>
<path d="M285.1,621.3H364.2" stroke="#00ff00" stroke-width="7.7"/>
<text transform="translate(384,637.1) scale(0.862,1)" font-size="55.2"><tspan font-style="italic">m</tspan><tspan font-size="38.5" dy="10">1</tspan><tspan dy="-10">=3</tspan><tspan dx="13.5">TeV</tspan></text>
<text transform="translate(667.5,1151.2) scale(0.88,1)" style="font-family:'Liberation Serif','DejaVu Serif',serif;font-weight:normal;stroke:none" font-size="77">(</text>
<text transform="translate(691.3,1151.2) scale(1.15,1)" style="font-family:'Liberation Serif','DejaVu Serif',serif;font-weight:normal;stroke:none" font-size="68">a</text>
<text transform="translate(749.5,1151.2) scale(0.88,1)" style="font-family:'Liberation Serif','DejaVu Serif',serif;font-weight:normal;stroke:none" font-size="77" text-anchor="end">)</text>
<path d="M1745,205.6L1753,205.6 1761,205.6 1769,205.6 1777,205.6 1785,205.6 1793,205.6 1801,205.7 1809,205.7 1817,205.7 1825,205.7 1833,205.7 1841,205.7 1849,205.7 1857,205.7 1865,205.7 1873,205.7 1881,205.7 1889,205.8 1897,205.8 1905,205.8 1913,205.8 1921,205.8 1929,205.8 1937,205.8 1945,205.8 1953,205.8 1961,205.8 1969,205.9 1977,205.9 1985,205.9 1993,205.9 2001,205.9 2009,205.9 2017,205.9 2025,205.9 2033,205.9 2041,206 2049,206 2057,206 2065,206 2073,206 2081,206 2089,206 2097,206 2105,206 2113,206 2121,206 2129,206.1 2137,206.1 2145,206.1 2153,206.1 2161,206.1 2169,206.1 2177,206.1 2185,206.1 2193,206.2 2201,206.2 2209,206.2 2217,206.2 2225,206.2 2233,206.3 2241,206.3 2249,206.3 2257,206.3 2265,206.4 2273,206.4 2281,206.4 2282.8,204.4 2284.6,205.6 2286.4,205.2 2288.2,206 2290,202.8 2291.8,205.8 2293.6,204.9 2295.4,205.7 2297.2,203.6 2299,205.7 2300.8,206.2 2302.6,206.5 2304.4,204.8 2306.2,205.9 2308,206.2 2309.8,204.3 2311.6,203.8 2313.4,205.1 2315.2,206.6 2317,203.4 2318.8,204.4 2320.6,206 2322.4,206.8 2324.2,206.5 2326,206.7 2327.8,206.4 2329.6,206.9 2331.4,206.7 2333.2,206.7 2335,206.1 2336.8,205.9 2338.6,206.4 2340.4,205.1 2342.2,204.8 2344,207 2345.8,206.7 2347.7,205.7 2349.5,206.8 2351.3,205.9 2353.1,206.5 2354.9,207.2 2356.7,206.2 2358.5,207 2360.3,206.9 2362.1,204.7 2363.9,207.3 2365.7,204.6 2367.5,204.8 2369.3,207.5 2371.1,205.5 2372.9,206.4 2374.7,207.2 2376.5,207.5 2378.3,207 2380.1,207.6 2381.9,205.7 2383.7,207.6 2385.5,207.7 2387.3,207.2 2389.1,207.6 2390.9,207.5 2392.7,200.8 2394.5,206.7 2396.3,207.5 2398.1,207.3 2399.9,207.7 2401.7,208 2403.5,206.8 2405.3,207.7 2407.1,205.9 2408.9,206.4 2410.7,207.7 2412.5,207.7 2414.3,206.3 2416.1,208.4 2417.9,205.9 2419.7,206.5 2421.5,208.4 2423.3,208.5 2425.1,207.8 2426.9,207.8 2428.7,207.9 2430.5,208.3 2432.3,207.3 2434.1,207.9 2435.9,208.5 2437.7,201.8 2439.5,206.2 2441.3,207.3 2443.1,204.6 2444.9,209 2446.7,202.2 2448.5,204.1 2450.3,209.2 2452.1,207.1 2453.9,208.6 2455.7,204.6 2457.5,203.2 2459.3,209.3 2461.1,208.7 2462.9,209.4 2464.7,208.9 2466.6,209.4 2468.4,208 2470.2,205.1 2472,205.3 2473.8,207.2 2475.6,209.4 2477.4,209.7 2479.2,208.6 2481,210.3 2482.8,209.5 2484.6,207.3 2486.4,209.8 2488.2,208.9 2490,210.7 2491.8,209.1 2493.6,210.6 2495.4,211.6 2497.2,210.9 2499,208.6 2500.8,209.1 2502.6,211.6 2504.4,207.1 2506.2,211.9 2508,212.5 2509.8,208.6 2511.6,212.1 2513.4,209.5 2515.2,213.1 2517,212.3 2518.8,212.5 2520.6,212.1 2522.4,213.3 2524.2,213.1 2526,210.7 2527.8,205.4 2529.6,212.2 2531.4,214.8 2533.2,215 2535,214.5 2536.8,215.4 2538.6,212.3 2540.3,205 2542.1,215.1 2543.9,209.6 2545.7,214.6 2547.5,212.7 2549.3,215.3 2551.1,216.3 2552.9,217 2554.6,217.4 2556.4,215.5 2558.2,217.5 2560,217.4 2561.8,217.9 2563.6,217 2565.4,217.8 2567.2,209.8 2569,219 2570.8,213.7 2572.6,217.6 2574.3,215.4 2576.1,218.1 2577.9,210.8 2579.7,218.3 2581.5,209.2 2583.3,218.7 2585.1,220.7 2586.9,215.9 2588.7,221.3 2590.5,220.8 2592.3,218.3 2594,221.9 2595.8,221.3 2597.6,218.7 2599.4,218.7 2601.2,223 2603,222.6 2604.8,221.5 2606.6,223.6 2608.4,223.7 2610.1,223.5 2611.9,224.4 2613.7,214 2615.5,224.2 2617.3,225.5 2619.1,225.5 2620.9,225.8 2622.7,225.1 2624.4,224.4 2626.2,224.7 2628,225.1 2629.8,216.7 2631.6,227.6 2633.4,225.2 2635.1,228.4 2636.9,222 2638.7,229 2640.5,227.6 2642.2,228.9 2644,227.7 2645.8,230.1 2647.6,228.9 2649.3,231 2651.1,227.9 2652.9,227.2 2654.7,230.7 2656.4,232.3 2658.2,231.5 2660,229.3 2661.7,232.6 2663.5,233.4 2665.3,226.3 2667,227.1 2668.8,234.6 2670.6,234.9 2672.4,234 2674.1,233.1 2675.9,235.8 2677.7,236.2 2679.4,236.6 2681.2,235.7 2683,234.6 2684.8,230.8 2686.5,233.3 2688.3,237.9 2690.1,238.6 2691.9,238.4 2693.6,238.7 2695.4,236.4 2697.2,238.2 2698.9,232.7 2700.7,240.8 2702.4,237.9 2704.2,241.3 2706,240.9 2707.7,242.1 2709.5,239.8 2711.3,240.8 2713.1,241.7 2714.8,243.9 2716.6,243.3 2718.4,242 2720.2,244.9 2722,246 2723.7,246.1 2725.5,242.4 2727.3,246.6 2729.1,248 2730.8,248.9 2732.6,245.3 2734.3,245.4 2736,250.6 2737.7,250.4 2739.3,252.9 2741,253 2742.6,253.9 2744.2,255.7 2745.8,256.2 2747.4,250.6 2749,253.1 2750.6,258.8 2752.1,260.3 2753.7,260.9 2755.2,260.9 2756.7,261.9 2758.3,263.7 2759.8,265.7 2761.3,266.1 2762.7,267.1 2764.1,269.3 2765.5,270.5 2766.7,272.4 2767.8,261.7 2768.9,275 2769.9,277.9 2773.6,286 2775.5,294.2 2776.7,302.5 2777,310.8 2777,318.8 2777,326.8 2777,334.8 2777,342.9 2776.9,350.9 2776.9,358.9 2776.9,360 2769.1,360 2769.1,358.8 2769.1,350.8 2769.2,342.8 2769.2,334.8 2769.2,326.8 2769.2,318.8 2769.2,310.8 2768.9,303.2 2767.8,295.7 2766.1,288.3 2763.2,281.8 2762.3,283 2761.4,279.2 2760.5,280.1 2759.5,277.4 2758.4,275.9 2757.3,275 2756.2,274.5 2754.9,275.9 2753.6,271.3 2752.2,270.8 2750.8,271.2 2749.4,270.4 2747.9,267.1 2746.4,269.5 2744.9,265.3 2743.4,268.5 2741.9,264.2 2740.4,264.3 2738.9,267.5 2737.3,261.5 2735.8,263.4 2734.2,263.1 2732.7,259.8 2731.1,258.1 2729.5,261.2 2727.9,257.9 2726.3,256.3 2724.7,256.4 2723.1,256.5 2721.4,257 2719.8,263.5 2718.1,255.8 2716.4,252.7 2714.7,252.2 2713,252.2 2711.3,255 2709.5,251.1 2707.8,250.9 2706.1,255.2 2704.3,252.1 2702.5,249.7 2700.8,253.3 2699,248.8 2697.3,251.7 2695.5,254.9 2693.8,248.4 2692,251 2690.3,248 2688.5,246.5 2686.8,250.1 2685,246.8 2683.2,245.8 2681.5,248 2679.7,245.8 2678,254.5 2676.2,244 2674.4,248 2672.7,243.8 2670.9,249.5 2669.1,242.9 2667.4,245.2 2665.6,242 2663.8,242.8 2662.1,242.3 2660.3,244.8 2658.5,240.7 2656.8,240.9 2655,248.6 2653.2,241.6 2651.5,239.4 2649.7,242.6 2647.9,239.7 2646.2,240.1 2644.4,241.8 2642.6,237.7 2640.9,239 2639.1,238.5 2637.3,236.7 2635.6,245.3 2633.8,236.5 2632,239.7 2630.3,237.1 2628.5,242.3 2626.7,237.1 2624.9,236.4 2623.2,241.4 2621.4,234.1 2619.6,235.3 2617.9,234.3 2616.1,234.2 2614.3,242.1 2612.6,232.7 2610.8,239 2609,232.2 2607.2,231.9 2605.5,232 2603.7,233.3 2601.9,231.1 2600.1,236.9 2598.4,230.8 2596.6,231.7 2594.8,231.3 2593,230.5 2591.2,230.4 2589.5,230.3 2587.7,231.7 2585.9,231.9 2584.1,229.7 2582.3,229.2 2580.6,230.7 2578.8,238.8 2577,228.2 2575.2,229.6 2573.4,233.3 2571.6,227.3 2569.9,229 2568.1,228.1 2566.3,237.9 2564.5,229.8 2562.7,226.9 2560.9,226.4 2559.1,225.9 2557.4,226.8 2555.6,225.4 2553.8,229.3 2552,227.3 2550.2,224.9 2548.4,226.4 2546.6,224.6 2544.8,224.4 2543,224.3 2541.3,227.9 2539.5,230.6 2537.7,229.3 2535.9,224.5 2534.1,224.4 2532.3,230.1 2530.5,225.2 2528.8,223.7 2527,229.8 2525.2,222.3 2523.4,227.1 2521.6,223.6 2519.8,226.5 2518,221.6 2516.3,221.9 2514.5,224 2512.7,223.4 2510.9,222.2 2509.1,220.9 2507.3,228.9 2505.6,220.2 2503.8,224.4 2502,223.7 2500.2,220.2 2498.4,224.2 2496.6,219.6 2494.9,219.4 2493.1,221.2 2491.3,234.8 2489.5,237.4 2487.7,219.4 2485.9,230.8 2484.1,227 2482.3,218.6 2480.5,224.2 2478.7,218.5 2476.9,223.5 2475.1,220.3 2473.3,231.7 2471.5,218 2469.7,218.9 2468,219.4 2466.2,220.5 2464.4,218.9 2462.6,217.8 2460.8,218.4 2459,226.6 2457.2,217.7 2455.4,218.3 2453.6,217.6 2451.8,223.3 2450,217 2448.2,217.3 2446.5,218.7 2444.7,218.4 2442.9,216.8 2441.1,217.1 2439.3,217.9 2437.5,218.7 2435.7,217.1 2433.9,216.7 2432.1,216.5 2430.3,217.4 2428.5,217.9 2426.7,221.6 2424.9,216.6 2423.1,224.5 2421.3,216.7 2419.5,218.4 2417.7,218.8 2415.9,216.8 2414.1,217.4 2412.3,217.4 2410.5,216.6 2408.7,216.6 2406.9,216 2405.1,216.5 2403.3,215.9 2401.5,222 2399.7,217 2397.9,216.7 2396.1,219.7 2394.3,219.8 2392.5,215.9 2390.7,215.7 2388.9,216.2 2387.1,215.7 2385.3,217 2383.5,215.7 2381.7,215.6 2379.9,220.5 2378.1,215.6 2376.3,215.5 2374.5,217.5 2372.7,217.4 2370.9,216.6 2369.1,215.4 2367.3,216.4 2365.5,215.2 2363.7,217.8 2361.9,215.5 2360.1,215.1 2358.3,218.2 2356.5,215.6 2354.7,215.1 2352.9,215 2351.1,215.1 2349.3,215.8 2347.5,215 2345.7,215.8 2343.9,215.5 2342.1,215.8 2340.3,215.4 2338.5,215.2 2336.7,216.9 2334.9,215.4 2333.1,215.7 2331.3,215.8 2329.5,214.8 2327.8,214.7 2326,215.4 2324.2,214.9 2322.4,215 2320.6,214.7 2318.8,215.6 2317,215.6 2315.2,214.6 2313.4,217.2 2311.6,215.6 2309.8,214.7 2308,219.2 2306.2,215.2 2304.4,214.6 2302.6,215.8 2300.8,215.3 2299,214.9 2297.2,216.9 2295.4,215.9 2293.6,214.9 2291.8,215 2290,215.1 2288.2,217.2 2286.4,214.5 2284.6,214.9 2282.8,214.8 2281,215 2273,214.2 2265,214.2 2257,214.1 2249,214.1 2241,214.1 2233,214.1 2225,214 2217,214 2209,214 2201,214 2193,214 2185,213.9 2177,213.9 2169,213.9 2161,213.9 2153,213.9 2145,213.9 2137,213.9 2129,213.9 2121,213.8 2113,213.8 2105,213.8 2097,213.8 2089,213.8 2081,213.8 2073,213.8 2065,213.8 2057,213.8 2049,213.8 2041,213.8 2033,213.7 2025,213.7 2017,213.7 2009,213.7 2001,213.7 1993,213.7 1985,213.7 1977,213.7 1969,213.7 1961,213.6 1953,213.6 1945,213.6 1937,213.6 1929,213.6 1921,213.6 1913,213.6 1905,213.6 1897,213.6 1889,213.6 1881,213.5 1873,213.5 1865,213.5 1857,213.5 1849,213.5 1841,213.5 1833,213.5 1825,213.5 1817,213.5 1809,213.5 1801,213.5 1793,213.4 1785,213.4 1777,213.4 1769,213.4 1761,213.4 1753,213.4 1745,213.4Z" fill="#ff0000"/>
<path d="M2765.6,272L2770.5,274 2776,281 2780,293 2781.8,310 2782,330 2781.5,360 2778,420 2773.5,500 2772.2,560 2772,710.8 2765.8,710.8 2765.4,560 2765.2,420 2765.4,340 2765.6,300Z" fill="#ff0000"/>
<path d="M2040.4,147.4L2048.4,147.4 2056.4,147.4 2064.4,147.4 2072.4,147.4 2080.4,147.4 2088.4,147.4 2096.4,147.4 2104.4,147.4 2112.4,147.4 2120.4,147.4 2128.4,147.4 2136.4,147.4 2144.4,147.4 2152.4,147.4 2160.4,147.4 2168.4,147.4 2176.4,147.4 2184.4,147.4 2192.4,147.4 2200.4,147.4 2208.4,147.4 2216.4,147.4 2224.4,147.4 2232.4,146.4 2234.2,147.2 2236,147.4 2237.8,147.3 2239.6,146.3 2241.4,146.8 2243.2,146.9 2245,146.9 2246.8,146.4 2248.6,147.1 2250.4,147.3 2252.2,147.4 2254,145.6 2255.8,147.4 2257.6,147.4 2259.4,146.5 2261.2,147.4 2263,146.3 2264.8,146.1 2266.6,147.3 2268.4,147.2 2270.2,147 2272,147.2 2273.8,146.7 2275.6,146.4 2277.4,146.5 2279.2,147.3 2281,147 2282.8,147.4 2284.6,147.2 2286.4,146.8 2288.2,146.4 2290,147.3 2291.8,146 2293.6,146.9 2295.4,146.1 2297.2,147 2299,147.3 2300.8,147.2 2302.6,147.2 2304.4,147.3 2306.2,147 2308,146.3 2309.8,146.9 2311.6,145.6 2313.4,147.1 2315.2,147.3 2317,147 2318.8,146 2320.6,146.9 2322.4,147.1 2324.2,147.1 2326,147 2327.8,147.3 2329.6,147.3 2331.4,146.3 2333.2,147.3 2335,144.3 2336.8,147 2338.6,145.8 2340.4,145.3 2342.2,147.3 2344,147.1 2345.8,146.1 2347.6,146.6 2349.4,146.5 2351.2,147.1 2353,147 2354.8,146.4 2356.6,145.2 2358.4,145.9 2360.2,147.2 2362,145 2363.8,146.9 2365.6,147.2 2367.4,145.9 2369.2,144.1 2371,146.2 2372.8,141.1 2374.6,140.7 2376.4,146.3 2378.2,146.7 2380,145.7 2381.8,147.2 2383.6,147.1 2385.4,147.2 2387.2,147 2389,146.8 2390.8,144.7 2392.6,146.4 2394.4,146.3 2396.2,146 2398,147 2399.8,147.1 2401.6,146.8 2403.4,146.8 2405.2,145.6 2407,146.5 2408.8,145.5 2410.6,143.5 2412.4,145.4 2414.2,145.4 2416,146.4 2417.8,147.1 2419.6,146.9 2421.4,146.9 2423.2,145.8 2425,145.1 2426.8,146 2428.6,147.1 2430.4,144.8 2432.2,142.8 2434,147.1 2435.8,146.4 2437.6,147 2439.4,146.9 2441.2,144 2443,147.1 2444.8,144.4 2446.6,147.2 2448.4,144.4 2450.3,146.4 2452.1,144.5 2453.9,146.7 2455.7,143.7 2457.5,143.9 2459.3,146.7 2461.1,144.4 2462.9,147.5 2464.7,145.1 2466.5,144.1 2468.3,145.3 2470.1,147.4 2471.9,146.3 2473.7,146.1 2475.5,147.9 2477.3,147.6 2479.1,147.2 2480.9,148.1 2482.7,141.3 2484.5,148.3 2486.3,145.4 2488.1,148.2 2489.9,146.5 2491.7,147.8 2493.5,148.1 2495.3,147.1 2497.1,143.3 2498.9,147.4 2500.7,148.2 2502.5,148.9 2504.4,145.5 2506.2,148.5 2508,145.7 2509.8,148.3 2511.6,149.4 2513.4,148.8 2515.2,148.3 2517,146.9 2518.8,146.8 2520.6,148.4 2522.4,148.7 2524.2,150.1 2526,149.1 2527.8,145.9 2529.6,149.3 2531.4,149 2533.2,149.4 2535,149.4 2536.8,150.4 2538.7,150.6 2540.5,148.3 2542.3,150.5 2544.1,148.8 2545.9,146.9 2547.7,148.8 2549.5,150.9 2551.3,150.9 2553.1,152.4 2554.9,149.1 2556.8,151.5 2558.6,151.7 2560.5,153.5 2562.3,153 2564.2,153.6 2566,154.3 2567.8,155.8 2569.6,155.8 2571.3,154.3 2573.1,152.5 2574.9,156.7 2576.6,157.1 2578.4,159 2580.2,158.9 2581.9,155.5 2583.7,160.8 2585.4,159.8 2587.1,161.7 2588.8,160.3 2590.4,162.1 2592.1,162.8 2593.7,166.3 2595.3,162.5 2596.8,168.2 2598.4,169.3 2599.9,169.7 2601.5,171 2603,172.5 2609.6,178.1 2615.1,184.9 2619.3,192.2 2622.8,199.8 2625.6,207.6 2627.9,215.5 2629.8,223.5 2631.4,231.4 2632.8,239.4 2634,247.5 2634.8,255.5 2635.5,263.6 2636.1,271.6 2636.7,279.6 2637.1,287.6 2637.4,295.7 2637.6,303.7 2637.8,311.7 2637.9,319.8 2638,327.8 2638.1,335.8 2638.1,343.8 2638.2,351.8 2638.2,359.8 2638.2,367.8 2638.2,375.8 2638.2,383.8 2638.2,391.8 2638.2,399.8 2638.2,407.8 2638.2,415.8 2638.2,423.8 2638.2,431.8 2638.2,439.8 2638.2,447.8 2638.2,455.8 2638.2,463.8 2638.2,471.8 2638.2,479.8 2638.2,487.8 2638.2,495.8 2638.2,503.8 2638.2,511.8 2638.2,519.8 2638.2,527.8 2638.2,535.8 2638.2,541.8 2630.2,541.8 2630.2,535.8 2630.2,527.8 2630.2,519.8 2630.2,511.8 2630.2,503.8 2630.2,495.8 2630.2,487.8 2630.2,479.8 2630.2,471.8 2630.2,463.8 2630.2,455.8 2630.2,447.8 2630.2,439.8 2630.2,431.8 2630.2,423.8 2630.2,415.8 2630.2,407.8 2630.2,399.8 2630.2,391.8 2630.2,383.8 2630.2,375.8 2630.2,367.8 2630.2,359.8 2630.2,351.8 2630.1,343.8 2630.1,335.8 2630,327.9 2629.9,319.9 2629.8,311.9 2629.6,303.9 2629.4,295.9 2629.1,288 2628.7,280.1 2628.2,272.1 2627.5,264.2 2626.9,256.3 2626.1,248.4 2624.9,240.7 2623.6,232.9 2622,225.1 2620.2,217.6 2618,210.1 2615.3,202.8 2612.2,195.9 2608.4,189.4 2603.9,183.7 2598.3,179 2596.9,178 2595.5,177.3 2594,176.6 2592.6,175.8 2591.1,174.3 2589.6,173.7 2588.1,172.4 2586.6,171.9 2585,171.3 2583.5,170.7 2582,169.2 2580.4,170.1 2578.9,170.3 2577.3,168.6 2575.7,166.9 2574.1,166.6 2572.4,165.6 2570.7,166 2569.1,165.4 2567.4,164.7 2565.7,163.5 2564,163.2 2562.3,163.1 2560.6,162.9 2559,163.2 2557.3,161.7 2555.6,163.2 2553.9,166.2 2552.1,161 2550.4,162.1 2548.6,161.7 2546.8,160.6 2545,161.4 2543.3,160.6 2541.5,162.9 2539.7,162.6 2537.9,160 2536.1,161.1 2534.4,159.4 2532.6,162.8 2530.8,158.8 2529,159.3 2527.2,160.3 2525.4,158.5 2523.7,160 2521.9,158.3 2520.1,160.6 2518.3,158.2 2516.5,157.8 2514.7,157.7 2512.9,159.7 2511.1,163.5 2509.4,158.8 2507.6,163.7 2505.8,158 2504,157.3 2502.2,157.7 2500.4,159.1 2498.6,157.7 2496.8,161.8 2495,158 2493.2,157.5 2491.4,156.9 2489.6,157.3 2487.8,156.7 2486,160.3 2484.2,156.8 2482.4,158 2480.6,156.4 2478.8,157.5 2477,156.2 2475.2,157.4 2473.5,156.5 2471.7,156.3 2469.9,156.3 2468.1,156.7 2466.3,160.7 2464.5,158.6 2462.7,155.5 2460.9,156.2 2459.1,155.7 2457.3,155.6 2455.5,155.5 2453.7,155.4 2451.9,155.4 2450.1,156.2 2448.4,155.3 2446.6,155.4 2444.8,155.3 2443,155.7 2441.2,155.7 2439.4,156.4 2437.6,159.3 2435.8,156.3 2434,155.6 2432.2,156.4 2430.4,155.2 2428.6,155.7 2426.8,155.2 2425,155.5 2423.2,155.3 2421.4,157.1 2419.6,156.5 2417.8,155.4 2416,155.2 2414.2,155.3 2412.4,155.6 2410.6,158.3 2408.8,155.5 2407,155.8 2405.2,158.6 2403.4,155.2 2401.6,156.8 2399.8,157.7 2398,157.1 2396.2,156.3 2394.4,158.8 2392.6,155.6 2390.8,155.2 2389,157.2 2387.2,157.5 2385.4,156.9 2383.6,155.9 2381.8,155.4 2380,156.1 2378.2,160 2376.4,155.8 2374.6,155.5 2372.8,155.3 2371,158.1 2369.2,155.9 2367.4,160.5 2365.6,155.3 2363.8,155.8 2362,156.3 2360.2,155.8 2358.4,155.5 2356.6,156.1 2354.8,156.2 2353,156 2351.2,157.8 2349.4,155.5 2347.6,155.4 2345.8,156.9 2344,157.1 2342.2,156.4 2340.4,155.7 2338.6,156.3 2336.8,155.4 2335,158.5 2333.2,155.6 2331.4,157.1 2329.6,155.4 2327.8,156.7 2326,155.4 2324.2,155.8 2322.4,156.2 2320.6,155.3 2318.8,156.2 2317,155.6 2315.2,155.4 2313.4,155.6 2311.6,155.8 2309.8,156.7 2308,155.6 2306.2,156.3 2304.4,155.5 2302.6,155.6 2300.8,155.4 2299,155.7 2297.2,156.5 2295.4,155.8 2293.6,156.4 2291.8,156.1 2290,155.5 2288.2,155.8 2286.4,155.8 2284.6,155.8 2282.8,155.7 2281,155.6 2279.2,156 2277.4,156.1 2275.6,155.7 2273.8,155.4 2272,156.1 2270.2,156.1 2268.4,155.7 2266.6,155.6 2264.8,156.7 2263,156.6 2261.2,155.8 2259.4,155.8 2257.6,156.3 2255.8,155.7 2254,156.3 2252.2,155.4 2250.4,155.4 2248.6,155.6 2246.8,155.6 2245,155.8 2243.2,155.7 2241.4,157.4 2239.6,155.5 2237.8,155.8 2236,156.2 2234.2,155.4 2232.4,155.4 2224.4,155.4 2216.4,155.4 2208.4,155.4 2200.4,155.4 2192.4,155.4 2184.4,155.4 2176.4,155.4 2168.4,155.4 2160.4,155.4 2152.4,155.4 2144.4,155.4 2136.4,155.4 2128.4,155.4 2120.4,155.4 2112.4,155.4 2104.4,155.4 2096.4,155.4 2088.4,155.4 2080.4,155.4 2072.4,155.4 2064.4,155.4 2056.4,155.4 2048.4,155.4 2040.4,155.4Z" fill="#0a14f0"/>
<path d="M1646.7,114L1654.7,114 1662.7,114 1670.7,114 1678.7,114 1686.7,114 1694.7,114 1702.7,114 1710.7,114 1718.7,114 1726.7,114 1734.7,114 1742.7,114 1750.7,114 1758.7,114 1766.7,114 1774.7,114 1782.7,114 1790.7,114 1798.7,114 1806.7,114 1814.7,114 1822.7,114 1830.7,114 1838.7,114 1846.7,114 1854.7,114 1862.7,114 1870.7,114 1878.7,114 1886.7,114 1894.7,114 1902.7,114 1910.7,114 1918.7,114 1926.7,114 1934.7,114 1942.7,114 1950.7,114 1958.7,114 1966.7,114 1974.7,114 1982.7,114 1990.7,114 1998.7,114 2006.7,114 2014.7,114 2022.7,114 2030.7,114 2038.7,114 2046.7,114 2054.7,114 2062.7,114 2070.7,114 2078.7,114 2086.7,114 2094.7,114 2102.7,114 2110.7,114 2112.5,111.5 2114.3,114 2116.1,113.8 2117.9,113.9 2119.7,112.9 2121.5,113.9 2123.3,113.7 2125.1,113.9 2126.9,113.6 2128.7,113.8 2130.5,113.8 2132.3,113.8 2134.1,114 2135.9,113.4 2137.7,112.9 2139.5,113.9 2141.3,113.9 2143.1,113.9 2144.9,113.3 2146.7,113.7 2148.5,113.9 2150.3,113.8 2152.1,112.7 2153.9,113.6 2155.7,114 2157.5,114 2159.3,113.6 2161.1,113.8 2162.9,113.9 2164.7,114 2166.5,112.7 2168.3,113.9 2170.1,113.4 2171.9,112.6 2173.7,113.4 2175.5,112.6 2177.3,113.8 2179.1,113.8 2180.9,113.7 2182.7,114 2184.5,114 2186.3,113.8 2188.1,113.8 2189.9,113.6 2191.7,113.7 2193.5,113.5 2195.3,113.4 2197.1,113.5 2198.9,114 2200.7,114 2202.5,113.7 2204.3,113.2 2206.1,114 2207.9,114 2209.7,113.4 2211.5,113.5 2213.3,113.6 2215.1,111.7 2216.9,113.9 2218.7,113.2 2220.5,113.8 2222.3,113.9 2224.1,113.8 2225.9,113.7 2227.7,113 2229.5,113.7 2231.3,113.9 2233.1,113.8 2234.9,113.7 2236.7,113.6 2238.5,113.3 2240.3,113.9 2242.1,113.4 2243.9,113.7 2245.7,113.6 2247.5,113.7 2249.3,113.1 2251.1,114 2252.9,114 2254.7,113.6 2256.5,113.5 2258.3,113.9 2260.1,113.8 2261.9,114 2263.7,113.7 2265.5,114 2267.3,113.6 2269.1,113.9 2270.9,113.2 2272.7,113.9 2274.5,114 2276.3,113.2 2278.1,113.4 2279.9,114 2281.7,114 2283.5,113.4 2285.3,113.1 2287.1,113.9 2288.9,113.7 2290.7,113.9 2292.5,113.5 2294.3,111.2 2296.1,113.9 2297.9,112.3 2299.7,113.7 2301.5,112.8 2303.3,113.8 2305.1,111.8 2306.9,114 2308.7,114 2310.5,114 2312.3,114 2314.1,112.4 2315.9,111.5 2317.7,113.2 2319.5,113.5 2321.3,114 2323.1,113.3 2324.9,113.2 2326.7,111.6 2328.5,113.2 2330.3,113.5 2332.1,113.9 2333.9,113.9 2335.7,114 2337.5,112.6 2339.3,112.6 2341.1,113.3 2342.9,113.9 2344.7,113.5 2346.5,113.3 2348.3,113 2350.1,113.8 2351.9,109.7 2353.7,112 2355.5,113.4 2357.3,113.2 2359.1,113 2360.9,112 2362.7,110.6 2364.5,113.6 2366.3,112.5 2368.1,109.8 2369.9,113 2371.7,113.1 2373.5,109.8 2375.3,112.9 2377.1,113.6 2378.9,113.5 2380.7,112.2 2382.5,114 2384.3,113.7 2386.1,107 2387.9,108.3 2389.7,113.2 2391.5,111.3 2393.3,113.2 2395.1,113.8 2396.9,111.6 2398.7,113.2 2400.5,111.2 2402.3,113.7 2404.1,113.3 2405.9,113.8 2407.7,110.8 2409.5,114.1 2411.3,113.7 2413.1,113.7 2414.9,114 2416.7,110.6 2418.5,114.1 2420.3,105.5 2422.1,112.3 2423.9,114 2425.7,114 2427.5,110.5 2429.3,111.3 2431.1,112.7 2432.9,113.9 2434.7,111.1 2436.5,105.4 2438.3,97.8 2440.1,112.3 2441.9,110 2443.7,113.8 2445.5,108.4 2447.3,112.8 2449.1,114.1 2450.9,113.4 2452.7,108 2454.5,113.1 2456.3,108.9 2458.1,110.3 2459.9,113.8 2461.7,111.2 2463.4,113.2 2465.2,109.7 2467,113.6 2468.8,113.5 2470.6,109.2 2472.4,112.5 2474.2,111.6 2476.1,109.4 2477.9,112.9 2479.7,99.3 2481.5,112.5 2483.3,113.2 2485.1,112.5 2486.9,105.4 2488.7,108.7 2490.5,110.8 2492.3,104.7 2494.1,109.8 2495.9,113.6 2497.7,105.9 2499.5,113.6 2501.3,111.5 2503.1,109 2504.9,113.4 2506.7,112.2 2508.5,107.5 2510.3,113 2512.1,113.3 2513.9,113 2515.7,109.8 2517.6,113.4 2519.4,110.7 2521.2,110.8 2523,108.2 2524.8,113.6 2526.6,113.3 2528.4,113 2530.2,109 2532,108.4 2533.8,109.6 2535.6,111.6 2537.4,112.4 2539.2,112 2541,109.9 2542.8,112.2 2544.6,113.7 2546.4,112 2548.2,113.3 2550,114 2551.8,114.1 2553.6,114 2555.4,106.1 2557.2,114.4 2559,111.6 2560.8,112.5 2562.6,114.8 2564.5,114.2 2566.3,106.4 2568.1,110.1 2569.9,111.5 2571.7,111.3 2573.5,113.7 2575.3,113.8 2577.1,112.8 2578.9,105.9 2580.7,96.9 2582.5,115.5 2584.3,116.2 2586.1,114.6 2588,110.9 2589.8,115.6 2591.6,110.8 2593.4,116.7 2595.2,109.6 2597,117 2598.8,117.3 2600.6,117.5 2602.4,116.6 2604.2,117.7 2606,114.9 2607.8,118.4 2609.6,113.4 2611.4,112.8 2613.2,119.1 2615,119.3 2616.8,115 2618.7,116 2620.5,119 2622.3,118.7 2624.1,120.5 2625.9,113.3 2627.7,121.2 2629.5,121.6 2631.3,122.3 2633,118.8 2634.8,122.6 2636.6,122.4 2638.4,123.5 2640.1,122.8 2641.9,121.4 2643.7,122.3 2645.4,121.5 2647.2,122.2 2649,126 2650.7,127.3 2652.5,127 2654.3,127 2656,129.5 2657.7,127.8 2659.5,130.7 2661.2,131.9 2662.8,122.8 2664.6,133.6 2666.3,131.3 2667.9,130.8 2669.5,133.7 2671.1,136.4 2672.6,138.4 2674.1,134.8 2675.6,140.2 2677,141 2678.4,143.4 2679.8,145.4 2681.1,145.5 2682.3,145.6 2683.5,148.3 2684.7,151.4 2685.7,152 2686.6,153.6 2687.6,155.6 2688.5,158.1 2690.2,159.3 2691,159.5 2691.8,162.2 2692.5,164.6 2693.2,166.4 2695.9,174.3 2698.1,182.2 2699.8,190.3 2701.1,198.4 2702.1,206.5 2702.9,214.6 2703.5,222.7 2704,230.7 2704.5,238.7 2704.9,246.8 2705.2,254.8 2705.4,262.9 2705.5,270.9 2705.6,278.9 2705.7,286.9 2705.8,294.9 2705.9,302.9 2706,310.9 2706,318.9 2706.1,326.9 2706.1,334.9 2706.1,342.9 2706.1,350.9 2706,358.9 2706,366.9 2706,374.9 2705.9,382.9 2705.9,390.9 2705.9,398.9 2705.8,406.9 2705.8,414.9 2705.8,422.9 2705.7,430.9 2705.7,438.9 2705.7,446.9 2705.6,454.9 2705.6,462.9 2705.5,470.9 2705.5,478.9 2705.5,486.9 2705.4,494.9 2705.4,502.9 2705.3,510.9 2705.3,518.9 2705.3,526.9 2705.2,534.9 2705.2,542.9 2705.1,550.9 2705.1,558.9 2705,566.9 2705,574.9 2705,582.9 2704.9,590.9 2704.9,598.9 2704.8,606.9 2704.8,614.9 2704.7,622.9 2704.7,630.9 2704.7,638.9 2704.6,646.9 2704.6,649.8 2698.2,649.8 2698.2,646.9 2698.1,638.9 2698.1,630.9 2698.1,622.9 2698,614.9 2698,606.9 2697.9,598.9 2697.9,590.9 2697.8,582.9 2697.8,574.9 2697.8,566.9 2697.7,558.9 2697.7,550.9 2697.6,542.9 2697.6,534.9 2697.5,526.9 2697.5,518.9 2697.5,510.9 2697.4,502.9 2697.4,494.9 2697.3,486.9 2697.3,478.9 2697.2,470.9 2697.2,462.9 2697.2,454.9 2697.1,446.9 2697.1,438.9 2697,430.9 2697,422.9 2696.9,415 2696.9,407 2696.8,399 2696.8,391 2696.7,383 2696.7,375 2696.6,367 2696.6,359 2696.5,351 2696.4,343 2696.3,335 2696.3,327 2696.2,319 2696.2,311 2696.1,303 2696,295 2695.9,287 2695.8,279 2695.7,271 2695.6,263 2695.4,255.1 2695.1,247.2 2694.7,239.2 2694.3,231.3 2693.7,223.3 2693.1,215.4 2692.4,207.6 2691.4,199.8 2690.2,192.1 2688.6,184.6 2686.5,177.1 2684,169.9 2683.4,168.3 2682.8,167.2 2682.1,165.2 2681.4,163.9 2681.5,163.7 2680.7,161.2 2679.9,158.7 2679,159.6 2678.1,158.9 2677.2,155.2 2676.3,158 2675.2,152.6 2674.1,151.5 2672.9,156.4 2671.7,151.7 2670.4,149.3 2669.2,147.7 2667.9,147.2 2666.5,146.2 2665.1,143.2 2663.7,142.5 2662.2,141.7 2660.8,141.1 2659.4,139.8 2657.8,139 2656.2,140 2654.7,137.6 2653.1,141.1 2651.5,140.3 2649.9,136.2 2648.2,141.3 2646.5,143.7 2644.9,136.2 2643.2,139.2 2641.5,135.3 2639.9,133.3 2638.2,132.1 2636.4,131.8 2634.7,149.7 2633,132.8 2631.3,137.6 2629.5,131.2 2627.8,132.7 2626.1,139 2624.3,130.7 2622.6,130.8 2620.9,128.2 2619.2,130.2 2617.4,130.3 2615.7,127.4 2614,128.5 2612.2,127 2610.5,127.5 2608.7,127.9 2606.9,132.2 2605.1,126.3 2603.3,127.7 2601.6,127.4 2599.8,125.5 2598,132.7 2596.2,126.7 2594.4,125.2 2592.6,131.2 2590.9,128.1 2589.1,127.3 2587.3,126.9 2585.5,124.5 2583.7,127 2581.9,124.2 2580.2,132.5 2578.4,123.9 2576.6,123.8 2574.8,124.9 2573,123.5 2571.2,130.5 2569.5,125.6 2567.7,126.3 2565.9,125.9 2564.1,127.7 2562.3,127.3 2560.5,131.9 2558.7,122.8 2557,129.6 2555.2,122.8 2553.4,125.8 2551.6,122.5 2549.8,124.3 2548,128.3 2546.2,122.9 2544.4,127.6 2542.6,122.1 2540.8,123.7 2539,125.9 2537.2,122.8 2535.4,123.2 2533.6,121.9 2531.8,122.7 2530,123 2528.2,122.7 2526.4,121.8 2524.6,126.3 2522.8,122.2 2521,122.5 2519.2,122.9 2517.4,122.4 2515.6,129.4 2513.9,125.2 2512.1,121.6 2510.3,121.6 2508.5,126.5 2506.7,123.6 2504.9,122 2503.1,121.8 2501.3,129.6 2499.5,125.4 2497.7,123.3 2495.9,122.2 2494.1,122.9 2492.3,128 2490.5,122.2 2488.7,121.6 2486.9,134.3 2485.1,124.8 2483.3,122.2 2481.5,122.5 2479.7,126.2 2477.9,130.8 2476.1,133.4 2474.3,124.4 2472.5,130.5 2470.7,124.4 2468.9,122.7 2467.1,125.9 2465.3,125.1 2463.5,126.9 2461.7,126.5 2459.9,125.7 2458.1,126.6 2456.3,123.3 2454.5,127.2 2452.7,131.4 2450.9,135.1 2449.1,134.9 2447.3,122.8 2445.5,125.1 2443.7,123.9 2441.9,121.9 2440.1,128.8 2438.3,129.9 2436.5,121.9 2434.7,121.9 2432.9,122.2 2431.1,124.7 2429.3,124.5 2427.5,122 2425.7,123.2 2423.9,121.9 2422.1,122 2420.3,122.6 2418.5,121.9 2416.7,123.9 2414.9,122.2 2413.1,121.9 2411.3,122.3 2409.5,122.2 2407.7,122 2405.9,122.4 2404.1,124.1 2402.3,123.7 2400.5,124.7 2398.7,128.4 2396.9,125.8 2395.1,122 2393.3,123.5 2391.5,122.1 2389.7,122.3 2387.9,124.9 2386.1,124.5 2384.3,122.8 2382.5,122.2 2380.7,121.9 2378.9,124.2 2377.1,122.3 2375.3,123.2 2373.5,122 2371.7,123.4 2369.9,121.9 2368.1,122.6 2366.3,124 2364.5,122.6 2362.7,121.9 2360.9,122.3 2359.1,122.3 2357.3,122 2355.5,124.2 2353.7,124.4 2351.9,123 2350.1,121.9 2348.3,121.8 2346.5,121.9 2344.7,122.3 2342.9,122.1 2341.1,123.5 2339.3,122.1 2337.5,121.8 2335.7,123.3 2333.9,124.3 2332.1,122 2330.3,123.5 2328.5,126.3 2326.7,122.1 2324.9,121.9 2323.1,122.1 2321.3,122 2319.5,125.9 2317.7,123 2315.9,122.3 2314.1,121.8 2312.3,122.1 2310.5,122.8 2308.7,123.5 2306.9,121.8 2305.1,124.4 2303.3,122.2 2301.5,122.4 2299.7,122 2297.9,123 2296.1,122.2 2294.3,122.5 2292.5,122.3 2290.7,123.2 2288.9,121.9 2287.1,122.1 2285.3,121.9 2283.5,121.8 2281.7,121.8 2279.9,122 2278.1,122.1 2276.3,121.8 2274.5,122.2 2272.7,121.8 2270.9,121.9 2269.1,122 2267.3,122.1 2265.5,121.8 2263.7,121.9 2261.9,122.8 2260.1,122.4 2258.3,122.1 2256.5,122.3 2254.7,121.8 2252.9,122 2251.1,121.9 2249.3,121.9 2247.5,122.3 2245.7,121.9 2243.9,121.9 2242.1,121.9 2240.3,122 2238.5,121.8 2236.7,122.4 2234.9,122.9 2233.1,122 2231.3,121.8 2229.5,121.8 2227.7,122.6 2225.9,122.1 2224.1,121.8 2222.3,121.8 2220.5,122.4 2218.7,121.9 2216.9,122.2 2215.1,121.8 2213.3,122.3 2211.5,121.9 2209.7,122 2207.9,122.1 2206.1,121.9 2204.3,122 2202.5,121.9 2200.7,122 2198.9,121.8 2197.1,121.9 2195.3,121.9 2193.5,121.8 2191.7,122.7 2189.9,121.8 2188.1,123.1 2186.3,122.2 2184.5,121.9 2182.7,122.6 2180.9,122 2179.1,121.9 2177.3,121.8 2175.5,121.9 2173.7,122.2 2171.9,122.4 2170.1,121.9 2168.3,121.8 2166.5,124.1 2164.7,122 2162.9,121.9 2161.1,122.6 2159.3,122.2 2157.5,122.1 2155.7,121.9 2153.9,122.3 2152.1,121.8 2150.3,122.3 2148.5,122 2146.7,122 2144.9,123.9 2143.1,121.8 2141.3,121.8 2139.5,121.8 2137.7,121.9 2135.9,121.8 2134.1,123 2132.3,122 2130.5,122.5 2128.7,121.9 2126.9,122.1 2125.1,121.9 2123.3,122 2121.5,121.8 2119.7,122.4 2117.9,122.7 2116.1,121.9 2114.3,121.9 2112.5,122.1 2110.7,122.1 2102.7,121.8 2094.7,121.8 2086.7,121.8 2078.7,121.8 2070.7,121.8 2062.7,121.8 2054.7,121.8 2046.7,121.8 2038.7,121.8 2030.7,121.8 2022.7,121.8 2014.7,121.8 2006.7,121.8 1998.7,121.8 1990.7,121.8 1982.7,121.8 1974.7,121.8 1966.7,121.8 1958.7,121.8 1950.7,121.8 1942.7,121.8 1934.7,121.8 1926.7,121.8 1918.7,121.8 1910.7,121.8 1902.7,121.8 1894.7,121.8 1886.7,121.8 1878.7,121.8 1870.7,121.8 1862.7,121.8 1854.7,121.8 1846.7,121.8 1838.7,121.8 1830.7,121.8 1822.7,121.8 1814.7,121.8 1806.7,121.8 1798.7,121.8 1790.7,121.8 1782.7,121.8 1774.7,121.8 1766.7,121.8 1758.7,121.8 1750.7,121.8 1742.7,121.8 1734.7,121.8 1726.7,121.8 1718.7,121.8 1710.7,121.8 1702.7,121.8 1694.7,121.8 1686.7,121.8 1678.7,121.8 1670.7,121.8 1662.7,121.8 1654.7,121.8 1646.7,121.8Z" fill="#00ff00"/>
<path d="M2070.5,872.9L2075.2,862.7 2079.9,853.3 2084.6,844.5 2089.3,836.2 2094,828.4 2098.7,821 2103.4,813.9 2108.1,807.1 2112.8,800.6 2117.5,794.3 2122.2,788.2 2126.9,782.3 2131.6,776.6 2136.3,771 2141,765.6 2145.7,760.3 2150.4,755.1 2155.1,750.1 2159.8,745.1 2164.5,740.2 2169.2,735.4 2173.9,730.7 2178.6,726.1 2183.3,721.5 2188,717 2192.7,712.5 2197.4,708.1 2202.1,703.8 2206.8,699.5 2211.5,695.3 2216.2,691.1 2220.9,686.9 2225.6,682.8 2230.3,678.7 2235,674.6 2239.7,670.6 2244.4,666.6 2249.1,662.7 2253.8,658.7 2258.5,654.8 2263.2,650.9 2267.9,647.1 2272.6,643.3 2277.3,639.4 2282,635.6 2286.7,631.9 2291.4,628.1 2296.1,624.4 2300.8,620.6 2305.5,616.9 2310.2,613.2 2314.9,609.5 2319.6,605.9 2324.3,602.2 2329,598.6 2333.7,595 2338.4,591.3 2343.1,587.7 2347.8,584.1 2352.5,580.5 2357.2,577 2361.9,573.4 2366.6,569.8 2371.3,566.3 2376,562.7 2380.7,559.2 2385.4,555.6 2390.1,552.1 2394.8,548.6 2399.5,545.1 2404.2,541.6 2408.9,538.1 2413.6,534.6 2418.3,531.1 2423,527.6 2427.7,524.1 2432.4,520.6 2437.1,517.2 2441.8,513.7 2446.5,510.2 2451.2,506.8 2455.9,503.3 2460.6,499.9 2465.3,496.4 2470,493 2474.7,489.5 2479.4,486.1 2484.1,482.6 2488.8,479.2 2493.5,475.8 2498.2,472.3 2502.9,468.9 2507.6,465.5 2512.3,462.1 2517,458.6 2521.7,455.2 2526.4,451.8 2531.1,448.4 2535.8,445 2540.5,441.5 2545.2,438.1 2549.9,434.7 2554.6,431.3 2559.3,427.9 2564,424.5 2568.7,421.1 2573.4,417.7 2578.1,414.3 2582.8,410.9 2587.5,407.5 2592.2,404.1 2596.9,400.7 2601.6,397.3 2606.3,393.9 2611,390.5 2615.7,387.1 2620.4,383.7 2625.1,380.4 2629.8,377 2634.5,373.6 2639.2,370.2 2643.9,366.8 2648.6,363.4 2653.3,360 2658,356.6 2662.7,353.2 2667.4,349.9 2672.1,346.5 2676.8,343.1 2681.5,339.7 2686.2,336.3 2690.9,332.9 2695.6,329.6 2700.3,326.2 2705,322.8 2709.7,319.4 2714.4,316 2719.1,312.7 2723.8,309.3 2728.5,305.9 2733.2,302.5 2737.9,299.1 2742.6,295.8 2747.3,292.4 2752,289 2756.7,285.6 2761.4,282.2 2766.1,278.9 2770.8,275.5 2775.5,272.1 2780.2,268.7 2784.9,265.4 2789.6,262 2794.3,258.6 2799,255.2 2803.7,251.9 2808.4,248.5 2813.1,245.1 2817.8,241.7" fill="none" stroke="#ff0000" stroke-width="7" stroke-dasharray="16.6 16.1" stroke-dashoffset="18.5"/>
<path d="M2165.9,872.9L2170,853.8 2174.1,837.7 2178.2,823.8 2182.3,811.5 2186.4,800.5 2190.5,790.4 2194.6,781.1 2198.7,772.4 2202.8,764.3 2206.9,756.7 2211,749.4 2215.1,742.6 2219.2,736 2223.3,729.7 2227.4,723.6 2231.5,717.8 2235.6,712.1 2239.7,706.6 2243.8,701.3 2247.9,696.2 2252,691.1 2256.1,686.2 2260.2,681.4 2264.3,676.7 2268.4,672.1 2272.5,667.6 2276.6,663.2 2280.7,658.8 2284.8,654.5 2288.9,650.3 2293,646.1 2297.1,642.1 2301.2,638 2305.3,634 2309.4,630.1 2313.5,626.2 2317.6,622.3 2321.7,618.5 2325.8,614.8 2329.9,611 2334,607.3 2338.1,603.7 2342.2,600 2346.3,596.4 2350.4,592.9 2354.5,589.3 2358.6,585.8 2362.7,582.3 2366.8,578.8 2370.9,575.3 2375,571.9 2379.1,568.5 2383.2,565.1 2387.3,561.7 2391.4,558.4 2395.5,555 2399.6,551.7 2403.7,548.4 2407.8,545.1 2411.9,541.8 2416,538.5 2420.1,535.3 2424.2,532 2428.3,528.8 2432.4,525.6 2436.5,522.4 2440.6,519.2 2444.7,516 2448.8,512.8 2452.9,509.6 2457,506.4 2461.1,503.3 2465.2,500.1 2469.3,497 2473.4,493.9 2477.5,490.7 2481.6,487.6 2485.7,484.5 2489.8,481.4 2493.9,478.3 2498,475.2 2502.1,472.1 2506.2,469 2510.3,465.9 2514.4,462.9 2518.5,459.8 2522.6,456.7 2526.7,453.7 2530.8,450.6 2534.9,447.6 2539,444.5 2543.1,441.5 2547.2,438.4 2551.3,435.4 2555.4,432.4 2559.5,429.3 2563.6,426.3 2567.7,423.3 2571.8,420.3 2575.9,417.3 2580,414.2 2584.1,411.2 2588.2,408.2 2592.3,405.2 2596.4,402.2 2600.5,399.2 2604.6,396.2 2608.7,393.2 2612.8,390.2 2616.9,387.2 2621,384.2 2625.1,381.2 2629.2,378.2 2633.3,375.3 2637.4,372.3 2641.5,369.3 2645.6,366.3 2649.7,363.3 2653.8,360.3 2657.9,357.4 2662,354.4 2666.1,351.4 2670.2,348.4 2674.3,345.5 2678.4,342.5 2682.5,339.5 2686.6,336.6 2690.7,333.6 2694.8,330.6 2698.9,327.7 2703,324.7 2707.1,321.7 2711.2,318.8 2715.3,315.8 2719.4,312.8 2723.5,309.9 2727.6,306.9 2731.7,303.9 2735.8,301 2739.9,298 2744,295.1 2748.1,292.1 2752.2,289.2 2756.3,286.2 2760.4,283.2 2764.5,280.3 2768.6,277.3 2772.7,274.4 2776.8,271.4 2780.9,268.5 2785,265.5 2789.1,262.6 2793.2,259.6 2797.3,256.7 2801.4,253.7 2805.5,250.7 2809.6,247.8 2813.7,244.8 2817.8,241.9" fill="none" stroke="#0a14f0" stroke-width="7" stroke-dasharray="16.6 16.1" stroke-dashoffset="8.2"/>
<path d="M2227,872.9L2230.7,845.1 2234.4,823.7 2238.1,806.2 2241.9,791.3 2245.6,778.4 2249.3,766.8 2253,756.3 2256.7,746.8 2260.4,737.9 2264.2,729.7 2267.9,721.9 2271.6,714.6 2275.3,707.7 2279,701.1 2282.7,694.9 2286.4,688.8 2290.2,683 2293.9,677.4 2297.6,672 2301.3,666.8 2305,661.7 2308.7,656.8 2312.5,652 2316.2,647.3 2319.9,642.7 2323.6,638.2 2327.3,633.9 2331,629.6 2334.8,625.4 2338.5,621.2 2342.2,617.2 2345.9,613.2 2349.6,609.2 2353.3,605.3 2357.1,601.5 2360.8,597.7 2364.5,594 2368.2,590.3 2371.9,586.7 2375.6,583.1 2379.3,579.6 2383.1,576 2386.8,572.6 2390.5,569.1 2394.2,565.7 2397.9,562.3 2401.6,559 2405.4,555.6 2409.1,552.3 2412.8,549 2416.5,545.8 2420.2,542.6 2423.9,539.4 2427.7,536.2 2431.4,533 2435.1,529.8 2438.8,526.7 2442.5,523.6 2446.2,520.5 2450,517.4 2453.7,514.3 2457.4,511.3 2461.1,508.2 2464.8,505.2 2468.5,502.2 2472.2,499.2 2476,496.2 2479.7,493.2 2483.4,490.3 2487.1,487.3 2490.8,484.4 2494.5,481.4 2498.3,478.5 2502,475.6 2505.7,472.7 2509.4,469.8 2513.1,466.9 2516.8,464 2520.6,461.1 2524.3,458.3 2528,455.4 2531.7,452.5 2535.4,449.7 2539.1,446.8 2542.9,444 2546.6,441.2 2550.3,438.3 2554,435.5 2557.7,432.7 2561.4,429.9 2565.1,427.1 2568.9,424.3 2572.6,421.5 2576.3,418.7 2580,415.9 2583.7,413.1 2587.4,410.3 2591.2,407.6 2594.9,404.8 2598.6,402 2602.3,399.3 2606,396.5 2609.7,393.7 2613.5,391 2617.2,388.2 2620.9,385.5 2624.6,382.7 2628.3,380 2632,377.2 2635.7,374.5 2639.5,371.8 2643.2,369 2646.9,366.3 2650.6,363.6 2654.3,360.8 2658,358.1 2661.8,355.4 2665.5,352.7 2669.2,349.9 2672.9,347.2 2676.6,344.5 2680.3,341.8 2684.1,339.1 2687.8,336.4 2691.5,333.6 2695.2,330.9 2698.9,328.2 2702.6,325.5 2706.4,322.8 2710.1,320.1 2713.8,317.4 2717.5,314.7 2721.2,312 2724.9,309.3 2728.6,306.6 2732.4,303.9 2736.1,301.2 2739.8,298.5 2743.5,295.8 2747.2,293.1 2750.9,290.4 2754.7,287.8 2758.4,285.1 2762.1,282.4 2765.8,279.7 2769.5,277 2773.2,274.3 2777,271.6 2780.7,268.9 2784.4,266.2 2788.1,263.6 2791.8,260.9 2795.5,258.2 2799.3,255.5 2803,252.8 2806.7,250.1 2810.4,247.5 2814.1,244.8 2817.8,242.1" fill="none" stroke="#00ff00" stroke-width="7" stroke-dasharray="16.6 16.1" stroke-dashoffset="6.3"/>
<clipPath id="cb"><path d="M1646.6,872.5L1646.7,132.6 1653.4,132.6 1660.1,132.6 1666.8,132.6 1673.5,132.6 1680.2,132.6 1686.9,132.6 1693.6,132.6 1700.3,132.6 1707,132.6 1713.7,132.6 1720.4,132.6 1727.1,132.6 1733.8,132.6 1740.5,132.6 1747.2,132.6 1753.9,132.6 1760.6,132.6 1767.3,132.6 1774,132.6 1780.7,132.6 1787.4,132.6 1794.1,132.6 1800.8,132.6 1807.5,132.6 1814.2,132.6 1820.9,132.6 1827.6,132.6 1834.3,132.6 1841,132.6 1847.7,132.6 1854.4,132.6 1861.1,132.6 1867.8,132.6 1874.6,132.6 1881.3,132.6 1888,132.6 1894.7,132.6 1901.4,132.6 1908.1,132.6 1914.8,132.6 1921.5,132.6 1928.2,132.6 1934.9,132.6 1941.6,132.6 1948.3,132.6 1955,132.6 1961.7,132.6 1968.4,132.6 1975.1,132.6 1981.8,132.6 1988.5,132.6 1995.2,132.6 2001.9,132.6 2008.6,132.6 2015.3,132.6 2022,132.6 2028.7,132.6 2035.4,132.6 2042.1,132.6 2048.8,132.6 2055.5,132.6 2062.2,132.6 2068.9,132.7 2075.6,132.7 2082.3,132.7 2089,132.7 2095.7,132.7 2102.4,132.7 2109.1,132.7 2115.8,132.8 2122.5,132.8 2129.2,132.8 2135.9,132.8 2142.6,132.8 2149.3,132.8 2156,132.9 2162.7,132.9 2169.4,132.9 2176.1,132.9 2182.8,133 2189.5,133 2196.2,133 2202.9,133 2209.6,133 2216.3,133.1 2223,133.1 2229.7,133.1 2236.4,133.1 2243.1,133.2 2249.8,133.2 2256.5,133.2 2263.2,133.3 2269.9,133.3 2276.6,133.3 2283.3,133.3 2290,133.4 2296.7,133.4 2303.4,133.4 2310.2,133.5 2316.9,133.5 2323.6,133.6 2330.3,133.6 2337,133.7 2343.7,133.7 2350.4,133.8 2357.1,133.8 2363.8,133.9 2370.5,133.9 2377.2,134 2383.9,134.1 2390.6,134.2 2397.3,134.2 2404,134.3 2410.7,134.4 2417.4,134.5 2424.1,134.6 2430.8,134.7 2437.5,134.8 2444.2,134.9 2450.9,135 2457.6,135.2 2464.3,135.4 2471,135.7 2477.7,136 2484.4,136.3 2491,136.6 2497.7,137 2504.4,137.3 2511.1,137.7 2517.8,138.1 2524.5,138.4 2531.2,138.8 2537.9,139.2 2544.6,139.7 2551.3,140.2 2557.9,140.7 2564.6,141.2 2571.3,141.8 2578,142.4 2584.6,143 2591.3,143.6 2598,144.3 2604.7,145 2611.3,145.8 2618,146.7 2624.6,147.7 2631.2,148.9 2637.8,150.3 2644.4,152 2650.7,154 2656.8,156.7 2662.7,160.3 2667.4,164.7 2671.3,170.3 2674.3,176.4 2676.6,182.6 2678.4,189.2 2679.6,195.7 2680.5,202.4 2681.2,209.1 2681.7,215.8 2682,222.5 2682.1,229.1 2682.3,235.8 2682.4,242.6 2682.4,249.3 2682.5,256 2682.5,262.7 2682.5,269.4 2682.5,276.1 2682.5,282.8 2682.6,289.5 2682.6,296.2 2682.6,302.9 2682.6,309.6 2682.6,316.3 2682.6,323 2682.6,329.7 2682.6,336.4 2682.6,343.1 2682.6,349.8 2682.6,356.5 2682.6,363.2 2682.6,369.9 2682.6,376.6 2682.6,383.3 2682.6,390 2682.6,396.7 2682.6,403.4 2682.6,410.1 2682.6,416.8 2682.6,423.5 2682.6,430.2 2682.6,436.9 2682.6,443.6 2682.6,450.3 2682.6,457 2682.6,463.7 2682.6,470.4 2682.6,477.1 2682.6,483.8 2682.6,490.5 2682.6,497.2 2682.6,503.9 2682.6,510.6 2682.6,517.3 2682.6,524 2682.6,530.7 2682.6,537.4 2682.6,544.1 2682.6,550.8 2682.6,557.5 2682.6,564.2 2682.6,570.9 2682.6,577.6 2682.6,584.3 2682.6,591 2682.6,597.7 2682.6,604.4 2682.6,611.1 2682.6,617.8 2682.6,624.5 2682.6,631.2 2682.6,637.9 2682.6,644.6 2682.6,651.4 2682.6,658.1 2682.6,664.8 2682.6,671.5 2682.6,678.2 2682.6,684.9 2682.6,691.6 2682.6,698.3 2682.6,705 2682.6,711.7 2682.6,718.4 2682.6,725.1 2682.6,731.8 2682.6,738.5 2682.6,745.2 2682.6,751.9 2682.6,758.6 2682.6,765.3 2682.6,772 2682.6,778.7 2682.6,785.4 2682.6,792.1 2682.6,798.8 2682.6,805.5 2682.6,812.2 2682.6,818.9 2682.6,825.6 2682.6,832.3 2682.6,839 2682.6,845.7 2682.6,852.4 2682.6,859.1 2682.6,865.8 2682.6,872.5Z"/></clipPath>
<clipPath id="cbr"><path d="M1646.6,177.7H2604.2V872.5H1646.6Z"/></clipPath>
<path d="M1646.6,872.5L1646.7,132.6 1653.4,132.6 1660.1,132.6 1666.8,132.6 1673.5,132.6 1680.2,132.6 1686.9,132.6 1693.6,132.6 1700.3,132.6 1707,132.6 1713.7,132.6 1720.4,132.6 1727.1,132.6 1733.8,132.6 1740.5,132.6 1747.2,132.6 1753.9,132.6 1760.6,132.6 1767.3,132.6 1774,132.6 1780.7,132.6 1787.4,132.6 1794.1,132.6 1800.8,132.6 1807.5,132.6 1814.2,132.6 1820.9,132.6 1827.6,132.6 1834.3,132.6 1841,132.6 1847.7,132.6 1854.4,132.6 1861.1,132.6 1867.8,132.6 1874.6,132.6 1881.3,132.6 1888,132.6 1894.7,132.6 1901.4,132.6 1908.1,132.6 1914.8,132.6 1921.5,132.6 1928.2,132.6 1934.9,132.6 1941.6,132.6 1948.3,132.6 1955,132.6 1961.7,132.6 1968.4,132.6 1975.1,132.6 1981.8,132.6 1988.5,132.6 1995.2,132.6 2001.9,132.6 2008.6,132.6 2015.3,132.6 2022,132.6 2028.7,132.6 2035.4,132.6 2042.1,132.6 2048.8,132.6 2055.5,132.6 2062.2,132.6 2068.9,132.7 2075.6,132.7 2082.3,132.7 2089,132.7 2095.7,132.7 2102.4,132.7 2109.1,132.7 2115.8,132.8 2122.5,132.8 2129.2,132.8 2135.9,132.8 2142.6,132.8 2149.3,132.8 2156,132.9 2162.7,132.9 2169.4,132.9 2176.1,132.9 2182.8,133 2189.5,133 2196.2,133 2202.9,133 2209.6,133 2216.3,133.1 2223,133.1 2229.7,133.1 2236.4,133.1 2243.1,133.2 2249.8,133.2 2256.5,133.2 2263.2,133.3 2269.9,133.3 2276.6,133.3 2283.3,133.3 2290,133.4 2296.7,133.4 2303.4,133.4 2310.2,133.5 2316.9,133.5 2323.6,133.6 2330.3,133.6 2337,133.7 2343.7,133.7 2350.4,133.8 2357.1,133.8 2363.8,133.9 2370.5,133.9 2377.2,134 2383.9,134.1 2390.6,134.2 2397.3,134.2 2404,134.3 2410.7,134.4 2417.4,134.5 2424.1,134.6 2430.8,134.7 2437.5,134.8 2444.2,134.9 2450.9,135 2457.6,135.2 2464.3,135.4 2471,135.7 2477.7,136 2484.4,136.3 2491,136.6 2497.7,137 2504.4,137.3 2511.1,137.7 2517.8,138.1 2524.5,138.4 2531.2,138.8 2537.9,139.2 2544.6,139.7 2551.3,140.2 2557.9,140.7 2564.6,141.2 2571.3,141.8 2578,142.4 2584.6,143 2591.3,143.6 2598,144.3 2604.7,145 2611.3,145.8 2618,146.7 2624.6,147.7 2631.2,148.9 2637.8,150.3 2644.4,152 2650.7,154 2656.8,156.7 2662.7,160.3 2667.4,164.7 2671.3,170.3 2674.3,176.4 2676.6,182.6 2678.4,189.2 2679.6,195.7 2680.5,202.4 2681.2,209.1 2681.7,215.8 2682,222.5 2682.1,229.1 2682.3,235.8 2682.4,242.6 2682.4,249.3 2682.5,256 2682.5,262.7 2682.5,269.4 2682.5,276.1 2682.5,282.8 2682.6,289.5 2682.6,296.2 2682.6,302.9 2682.6,309.6 2682.6,316.3 2682.6,323 2682.6,329.7 2682.6,336.4 2682.6,343.1 2682.6,349.8 2682.6,356.5 2682.6,363.2 2682.6,369.9 2682.6,376.6 2682.6,383.3 2682.6,390 2682.6,396.7 2682.6,403.4 2682.6,410.1 2682.6,416.8 2682.6,423.5 2682.6,430.2 2682.6,436.9 2682.6,443.6 2682.6,450.3 2682.6,457 2682.6,463.7 2682.6,470.4 2682.6,477.1 2682.6,483.8 2682.6,490.5 2682.6,497.2 2682.6,503.9 2682.6,510.6 2682.6,517.3 2682.6,524 2682.6,530.7 2682.6,537.4 2682.6,544.1 2682.6,550.8 2682.6,557.5 2682.6,564.2 2682.6,570.9 2682.6,577.6 2682.6,584.3 2682.6,591 2682.6,597.7 2682.6,604.4 2682.6,611.1 2682.6,617.8 2682.6,624.5 2682.6,631.2 2682.6,637.9 2682.6,644.6 2682.6,651.4 2682.6,658.1 2682.6,664.8 2682.6,671.5 2682.6,678.2 2682.6,684.9 2682.6,691.6 2682.6,698.3 2682.6,705 2682.6,711.7 2682.6,718.4 2682.6,725.1 2682.6,731.8 2682.6,738.5 2682.6,745.2 2682.6,751.9 2682.6,758.6 2682.6,765.3 2682.6,772 2682.6,778.7 2682.6,785.4 2682.6,792.1 2682.6,798.8 2682.6,805.5 2682.6,812.2 2682.6,818.9 2682.6,825.6 2682.6,832.3 2682.6,839 2682.6,845.7 2682.6,852.4 2682.6,859.1 2682.6,865.8 2682.6,872.5Z" fill="#5e81b5" fill-opacity="0.3"/>
<g clip-path="url(#cb)" stroke="#5e81b5" fill="none" stroke-width="6.7">
<g clip-path="url(#cbr)">
<path d="M1709.7,180.5V872.5" opacity="0.33" stroke-width="6.1"/>
<path d="M1772.8,180.5V872.5" opacity="0.33" stroke-width="6.1"/>
<path d="M1835.8,180.5V872.5" opacity="0.33" stroke-width="6.1"/>
<path d="M1898.8,180.5V872.5" opacity="0.33" stroke-width="6.1"/>
<path d="M1961.8,180.5V872.5" opacity="0.33" stroke-width="6.1"/>
<path d="M2024.9,180.5V872.5" opacity="0.33" stroke-width="6.1"/>
<path d="M2087.9,180.5V872.5" opacity="0.33" stroke-width="6.1"/>
<path d="M2150.9,180.5V872.5" opacity="0.33" stroke-width="6.1"/>
<path d="M2214,180.5V872.5" opacity="0.33" stroke-width="6.1"/>
<path d="M2277,180.5V872.5" opacity="0.33" stroke-width="6.1"/>
<path d="M2340,180.5V872.5" opacity="0.33" stroke-width="6.1"/>
<path d="M2403.1,180.5V872.5" opacity="0.33" stroke-width="6.1"/>
<path d="M2466.1,180.5V872.5" opacity="0.33" stroke-width="6.1"/>
<path d="M2529.1,180.5V872.5" opacity="0.33" stroke-width="6.1"/>
<path d="M1635.4,827.3H2844.3" stroke-dasharray="22.6 8.91" opacity="0.30"/>
<path d="M1642.3,827.3H2844.3" stroke-dasharray="8.8 22.71" opacity="0.26"/>
<path d="M1635.4,782.1H2844.3" stroke-dasharray="22.6 8.91" opacity="0.30"/>
<path d="M1642.3,782.1H2844.3" stroke-dasharray="8.8 22.71" opacity="0.26"/>
<path d="M1635.4,736.9H2844.3" stroke-dasharray="22.6 8.91" opacity="0.30"/>
<path d="M1642.3,736.9H2844.3" stroke-dasharray="8.8 22.71" opacity="0.26"/>
<path d="M1635.4,691.7H2844.3" stroke-dasharray="22.6 8.91" opacity="0.30"/>
<path d="M1642.3,691.7H2844.3" stroke-dasharray="8.8 22.71" opacity="0.26"/>
<path d="M1635.4,646.5H2844.3" stroke-dasharray="22.6 8.91" opacity="0.30"/>
<path d="M1642.3,646.5H2844.3" stroke-dasharray="8.8 22.71" opacity="0.26"/>
<path d="M1635.4,601.2H2844.3" stroke-dasharray="22.6 8.91" opacity="0.30"/>
<path d="M1642.3,601.2H2844.3" stroke-dasharray="8.8 22.71" opacity="0.26"/>
<path d="M1635.4,556H2844.3" stroke-dasharray="22.6 8.91" opacity="0.30"/>
<path d="M1642.3,556H2844.3" stroke-dasharray="8.8 22.71" opacity="0.26"/>
<path d="M1635.4,510.8H2844.3" stroke-dasharray="22.6 8.91" opacity="0.30"/>
<path d="M1642.3,510.8H2844.3" stroke-dasharray="8.8 22.71" opacity="0.26"/>
<path d="M1635.4,465.6H2844.3" stroke-dasharray="22.6 8.91" opacity="0.30"/>
<path d="M1642.3,465.6H2844.3" stroke-dasharray="8.8 22.71" opacity="0.26"/>
<path d="M1635.4,420.4H2844.3" stroke-dasharray="22.6 8.91" opacity="0.30"/>
<path d="M1642.3,420.4H2844.3" stroke-dasharray="8.8 22.71" opacity="0.26"/>
<path d="M1635.4,375.2H2844.3" stroke-dasharray="22.6 8.91" opacity="0.30"/>
<path d="M1642.3,375.2H2844.3" stroke-dasharray="8.8 22.71" opacity="0.26"/>
<path d="M1635.4,330H2844.3" stroke-dasharray="22.6 8.91" opacity="0.30"/>
<path d="M1642.3,330H2844.3" stroke-dasharray="8.8 22.71" opacity="0.26"/>
<path d="M1635.4,284.8H2844.3" stroke-dasharray="22.6 8.91" opacity="0.30"/>
<path d="M1642.3,284.8H2844.3" stroke-dasharray="8.8 22.71" opacity="0.26"/>
<path d="M1635.4,239.6H2844.3" stroke-dasharray="22.6 8.91" opacity="0.30"/>
<path d="M1642.3,239.6H2844.3" stroke-dasharray="8.8 22.71" opacity="0.26"/>
<path d="M1635.4,194.4H2844.3" stroke-dasharray="22.6 8.91" opacity="0.30"/>
<path d="M1642.3,194.4H2844.3" stroke-dasharray="8.8 22.71" opacity="0.26"/>
<path d="M1633.5,23L2907.3,-890.7" stroke-dasharray="32.4 11.93 21.3 11.93" opacity="0.30"/>
<path d="M1636.7,20.6L2907.3,-890.7" stroke-dasharray="24.5 19.53 14.0 19.53" opacity="0.24"/>
<path d="M1633.5,68.2L2907.3,-845.5" stroke-dasharray="32.4 11.93 21.3 11.93" opacity="0.30"/>
<path d="M1636.7,65.9L2907.3,-845.5" stroke-dasharray="24.5 19.53 14.0 19.53" opacity="0.24"/>
<path d="M1633.5,113.4L2907.3,-800.3" stroke-dasharray="32.4 11.93 21.3 11.93" opacity="0.30"/>
<path d="M1636.7,111.1L2907.3,-800.3" stroke-dasharray="24.5 19.53 14.0 19.53" opacity="0.24"/>
<path d="M1633.5,158.6L2907.3,-755.1" stroke-dasharray="32.4 11.93 21.3 11.93" opacity="0.30"/>
<path d="M1636.7,156.3L2907.3,-755.1" stroke-dasharray="24.5 19.53 14.0 19.53" opacity="0.24"/>
<path d="M1633.5,203.8L2907.3,-709.9" stroke-dasharray="32.4 11.93 21.3 11.93" opacity="0.30"/>
<path d="M1636.7,201.5L2907.3,-709.9" stroke-dasharray="24.5 19.53 14.0 19.53" opacity="0.24"/>
<path d="M1633.5,249L2907.3,-664.6" stroke-dasharray="32.4 11.93 21.3 11.93" opacity="0.30"/>
<path d="M1636.7,246.7L2907.3,-664.6" stroke-dasharray="24.5 19.53 14.0 19.53" opacity="0.24"/>
<path d="M1633.5,294.2L2907.3,-619.4" stroke-dasharray="32.4 11.93 21.3 11.93" opacity="0.30"/>
<path d="M1636.7,291.9L2907.3,-619.4" stroke-dasharray="24.5 19.53 14.0 19.53" opacity="0.24"/>
<path d="M1633.5,339.4L2907.3,-574.2" stroke-dasharray="32.4 11.93 21.3 11.93" opacity="0.30"/>
<path d="M1636.7,337.1L2907.3,-574.2" stroke-dasharray="24.5 19.53 14.0 19.53" opacity="0.24"/>
<path d="M1633.5,384.6L2907.3,-529" stroke-dasharray="32.4 11.93 21.3 11.93" opacity="0.30"/>
<path d="M1636.7,382.3L2907.3,-529" stroke-dasharray="24.5 19.53 14.0 19.53" opacity="0.24"/>
<path d="M1633.5,429.8L2907.3,-483.8" stroke-dasharray="32.4 11.93 21.3 11.93" opacity="0.30"/>
<path d="M1636.7,427.5L2907.3,-483.8" stroke-dasharray="24.5 19.53 14.0 19.53" opacity="0.24"/>
<path d="M1633.5,475.1L2907.3,-438.6" stroke-dasharray="32.4 11.93 21.3 11.93" opacity="0.30"/>
<path d="M1636.7,472.7L2907.3,-438.6" stroke-dasharray="24.5 19.53 14.0 19.53" opacity="0.24"/>
<path d="M1633.5,520.3L2907.3,-393.4" stroke-dasharray="32.4 11.93 21.3 11.93" opacity="0.30"/>
<path d="M1636.7,518L2907.3,-393.4" stroke-dasharray="24.5 19.53 14.0 19.53" opacity="0.24"/>
<path d="M1633.5,565.5L2907.3,-348.2" stroke-dasharray="32.4 11.93 21.3 11.93" opacity="0.30"/>
<path d="M1636.7,563.2L2907.3,-348.2" stroke-dasharray="24.5 19.53 14.0 19.53" opacity="0.24"/>
<path d="M1633.5,610.7L2907.3,-303" stroke-dasharray="32.4 11.93 21.3 11.93" opacity="0.30"/>
<path d="M1636.7,608.4L2907.3,-303" stroke-dasharray="24.5 19.53 14.0 19.53" opacity="0.24"/>
<path d="M1633.5,655.9L2907.3,-257.8" stroke-dasharray="32.4 11.93 21.3 11.93" opacity="0.30"/>
<path d="M1636.7,653.6L2907.3,-257.8" stroke-dasharray="24.5 19.53 14.0 19.53" opacity="0.24"/>
<path d="M1633.5,701.1L2907.3,-212.5" stroke-dasharray="32.4 11.93 21.3 11.93" opacity="0.30"/>
<path d="M1636.7,698.8L2907.3,-212.5" stroke-dasharray="24.5 19.53 14.0 19.53" opacity="0.24"/>
<path d="M1633.5,746.3L2907.3,-167.3" stroke-dasharray="32.4 11.93 21.3 11.93" opacity="0.30"/>
<path d="M1636.7,744L2907.3,-167.3" stroke-dasharray="24.5 19.53 14.0 19.53" opacity="0.24"/>
<path d="M1633.5,791.5L2907.3,-122.1" stroke-dasharray="32.4 11.93 21.3 11.93" opacity="0.30"/>
<path d="M1636.7,789.2L2907.3,-122.1" stroke-dasharray="24.5 19.53 14.0 19.53" opacity="0.24"/>
<path d="M1633.5,836.7L2907.3,-76.9" stroke-dasharray="32.4 11.93 21.3 11.93" opacity="0.30"/>
<path d="M1636.7,834.4L2907.3,-76.9" stroke-dasharray="24.5 19.53 14.0 19.53" opacity="0.24"/>
<path d="M1633.5,881.9L2907.3,-31.7" stroke-dasharray="32.4 11.93 21.3 11.93" opacity="0.30"/>
<path d="M1636.7,879.6L2907.3,-31.7" stroke-dasharray="24.5 19.53 14.0 19.53" opacity="0.24"/>
<path d="M1696.6,881.9L2970.3,-31.7" stroke-dasharray="32.4 11.93 21.3 11.93" opacity="0.30"/>
<path d="M1699.8,879.6L2970.3,-31.7" stroke-dasharray="24.5 19.53 14.0 19.53" opacity="0.24"/>
<path d="M1759.6,881.9L3033.4,-31.7" stroke-dasharray="32.4 11.93 21.3 11.93" opacity="0.30"/>
<path d="M1762.8,879.6L3033.4,-31.7" stroke-dasharray="24.5 19.53 14.0 19.53" opacity="0.24"/>
<path d="M1822.6,881.9L3096.4,-31.7" stroke-dasharray="32.4 11.93 21.3 11.93" opacity="0.30"/>
<path d="M1825.8,879.6L3096.4,-31.7" stroke-dasharray="24.5 19.53 14.0 19.53" opacity="0.24"/>
<path d="M1885.7,881.9L3159.4,-31.7" stroke-dasharray="32.4 11.93 21.3 11.93" opacity="0.30"/>
<path d="M1888.9,879.6L3159.4,-31.7" stroke-dasharray="24.5 19.53 14.0 19.53" opacity="0.24"/>
<path d="M1948.7,881.9L3222.4,-31.7" stroke-dasharray="32.4 11.93 21.3 11.93" opacity="0.30"/>
<path d="M1951.9,879.6L3222.4,-31.7" stroke-dasharray="24.5 19.53 14.0 19.53" opacity="0.24"/>
<path d="M2011.7,881.9L3285.5,-31.7" stroke-dasharray="32.4 11.93 21.3 11.93" opacity="0.30"/>
<path d="M2014.9,879.6L3285.5,-31.7" stroke-dasharray="24.5 19.53 14.0 19.53" opacity="0.24"/>
<path d="M2074.7,881.9L3348.5,-31.7" stroke-dasharray="32.4 11.93 21.3 11.93" opacity="0.30"/>
<path d="M2078,879.6L3348.5,-31.7" stroke-dasharray="24.5 19.53 14.0 19.53" opacity="0.24"/>
<path d="M2137.8,881.9L3411.5,-31.7" stroke-dasharray="32.4 11.93 21.3 11.93" opacity="0.30"/>
<path d="M2141,879.6L3411.5,-31.7" stroke-dasharray="24.5 19.53 14.0 19.53" opacity="0.24"/>
<path d="M2200.8,881.9L3474.6,-31.7" stroke-dasharray="32.4 11.93 21.3 11.93" opacity="0.30"/>
<path d="M2204,879.6L3474.6,-31.7" stroke-dasharray="24.5 19.53 14.0 19.53" opacity="0.24"/>
<path d="M2263.8,881.9L3537.6,-31.7" stroke-dasharray="32.4 11.93 21.3 11.93" opacity="0.30"/>
<path d="M2267,879.6L3537.6,-31.7" stroke-dasharray="24.5 19.53 14.0 19.53" opacity="0.24"/>
<path d="M2326.9,881.9L3600.6,-31.7" stroke-dasharray="32.4 11.93 21.3 11.93" opacity="0.30"/>
<path d="M2330.1,879.6L3600.6,-31.7" stroke-dasharray="24.5 19.53 14.0 19.53" opacity="0.24"/>
<path d="M2389.9,881.9L3663.7,-31.7" stroke-dasharray="32.4 11.93 21.3 11.93" opacity="0.30"/>
<path d="M2393.1,879.6L3663.7,-31.7" stroke-dasharray="24.5 19.53 14.0 19.53" opacity="0.24"/>
<path d="M2452.9,881.9L3726.7,-31.7" stroke-dasharray="32.4 11.93 21.3 11.93" opacity="0.30"/>
<path d="M2456.1,879.6L3726.7,-31.7" stroke-dasharray="24.5 19.53 14.0 19.53" opacity="0.24"/>
<path d="M2516,881.9L3789.7,-31.7" stroke-dasharray="32.4 11.93 21.3 11.93" opacity="0.30"/>
<path d="M2519.2,879.6L3789.7,-31.7" stroke-dasharray="24.5 19.53 14.0 19.53" opacity="0.24"/>
<path d="M2579,881.9L3852.8,-31.7" stroke-dasharray="32.4 11.93 21.3 11.93" opacity="0.30"/>
<path d="M2582.2,879.6L3852.8,-31.7" stroke-dasharray="24.5 19.53 14.0 19.53" opacity="0.24"/>
<path d="M2642,881.9L3915.8,-31.7" stroke-dasharray="32.4 11.93 21.3 11.93" opacity="0.30"/>
<path d="M2645.2,879.6L3915.8,-31.7" stroke-dasharray="24.5 19.53 14.0 19.53" opacity="0.24"/>
<path d="M2705,881.9L3978.8,-31.7" stroke-dasharray="32.4 11.93 21.3 11.93" opacity="0.30"/>
<path d="M2708.3,879.6L3978.8,-31.7" stroke-dasharray="24.5 19.53 14.0 19.53" opacity="0.24"/>
<path d="M2768.1,881.9L4041.8,-31.7" stroke-dasharray="32.4 11.93 21.3 11.93" opacity="0.30"/>
<path d="M2771.3,879.6L4041.8,-31.7" stroke-dasharray="24.5 19.53 14.0 19.53" opacity="0.24"/>
<path d="M2831.1,881.9L4104.9,-31.7" stroke-dasharray="32.4 11.93 21.3 11.93" opacity="0.30"/>
<path d="M2834.3,879.6L4104.9,-31.7" stroke-dasharray="24.5 19.53 14.0 19.53" opacity="0.24"/>
</g>
<g stroke-opacity="0.32">
<path d="M1661.2,183.1L1701,154.6M1695.3,183.1L1655.5,154.6"/>
<path d="M1678.2,132.6V170.9"/>
<path d="M1646.7,132.6V163.3"/>
<path d="M1631.7,149.3H1661.7"/>
<path d="M1652.2,149.3L1674.2,132.6M1704.2,149.3L1682.2,132.6"/>
<path d="M1724.2,183.1L1764,154.6M1758.3,183.1L1718.5,154.6"/>
<path d="M1741.2,132.6V170.9"/>
<path d="M1709.7,132.6V163.3"/>
<path d="M1694.7,149.3H1724.7"/>
<path d="M1715.2,149.3L1737.2,132.6M1767.2,149.3L1745.2,132.6"/>
<path d="M1787.2,183.1L1827,154.6M1821.3,183.1L1781.5,154.6"/>
<path d="M1804.3,132.6V170.9"/>
<path d="M1772.8,132.6V163.3"/>
<path d="M1757.8,149.3H1787.8"/>
<path d="M1778.3,149.3L1800.3,132.6M1830.3,149.3L1808.3,132.6"/>
<path d="M1850.2,183.1L1890.1,154.6M1884.4,183.1L1844.6,154.6"/>
<path d="M1867.3,132.6V170.9"/>
<path d="M1835.8,132.6V163.3"/>
<path d="M1820.8,149.3H1850.8"/>
<path d="M1841.3,149.3L1863.3,132.6M1893.3,149.3L1871.3,132.6"/>
<path d="M1913.3,183.1L1953.1,154.6M1947.4,183.1L1907.6,154.6"/>
<path d="M1930.3,132.6V170.9"/>
<path d="M1898.8,132.6V163.3"/>
<path d="M1883.8,149.3H1913.8"/>
<path d="M1904.3,149.3L1926.3,132.6M1956.3,149.3L1934.3,132.6"/>
<path d="M1976.3,183.1L2016.1,154.6M2010.4,183.1L1970.6,154.6"/>
<path d="M1993.4,132.6V170.9"/>
<path d="M1961.8,132.6V163.3"/>
<path d="M1946.8,149.3H1976.8"/>
<path d="M1967.4,149.3L1989.4,132.6M2019.4,149.3L1997.4,132.6"/>
<path d="M2039.3,183.1L2079.1,154.6M2073.5,183.1L2033.6,154.6"/>
<path d="M2056.4,132.6V170.9"/>
<path d="M2024.9,132.6V163.3"/>
<path d="M2009.9,149.3H2039.9"/>
<path d="M2030.4,149.3L2052.4,132.6M2082.4,149.3L2060.4,132.6"/>
<path d="M2102.4,183.1L2142.2,154.6M2136.5,183.1L2096.7,154.6"/>
<path d="M2119.4,132.6V170.9"/>
<path d="M2087.9,132.6V163.3"/>
<path d="M2072.9,149.3H2102.9"/>
<path d="M2093.4,149.3L2115.4,132.6M2145.4,149.3L2123.4,132.6"/>
<path d="M2165.4,183.1L2205.2,154.6M2199.5,183.1L2159.7,154.6"/>
<path d="M2182.5,132.6V170.9"/>
<path d="M2150.9,132.6V163.3"/>
<path d="M2135.9,149.3H2165.9"/>
<path d="M2156.5,149.3L2178.5,132.6M2208.5,149.3L2186.5,132.6"/>
<path d="M2228.4,183.1L2268.2,154.6M2262.5,183.1L2222.7,154.6"/>
<path d="M2245.5,132.6V170.9"/>
<path d="M2214,132.6V163.3"/>
<path d="M2199,149.3H2229"/>
<path d="M2219.5,149.3L2241.5,132.6M2271.5,149.3L2249.5,132.6"/>
<path d="M2291.5,183.1L2331.3,154.6M2325.6,183.1L2285.8,154.6"/>
<path d="M2308.5,132.6V170.9"/>
<path d="M2277,132.6V163.3"/>
<path d="M2262,149.3H2292"/>
<path d="M2282.5,149.3L2304.5,132.6M2334.5,149.3L2312.5,132.6"/>
<path d="M2354.5,183.1L2394.3,154.6M2388.6,183.1L2348.8,154.6"/>
<path d="M2371.5,132.6V170.9"/>
<path d="M2340,132.6V163.3"/>
<path d="M2325,149.3H2355"/>
<path d="M2345.5,149.3L2367.5,132.6M2397.5,149.3L2375.5,132.6"/>
<path d="M2417.5,183.1L2457.3,154.6M2451.6,183.1L2411.8,154.6"/>
<path d="M2434.6,132.6V170.9"/>
<path d="M2403.1,132.6V163.3"/>
<path d="M2388.1,149.3H2418.1"/>
<path d="M2408.6,149.3L2430.6,132.6M2460.6,149.3L2438.6,132.6"/>
<path d="M2480.5,183.1L2520.4,154.6M2514.7,183.1L2474.9,154.6"/>
<path d="M2497.6,132.6V170.9"/>
<path d="M2466.1,132.6V163.3"/>
<path d="M2451.1,149.3H2481.1"/>
<path d="M2471.6,149.3L2493.6,132.6M2523.6,149.3L2501.6,132.6"/>
<path d="M2543.6,183.1L2583.4,154.6M2577.7,183.1L2537.9,154.6"/>
<path d="M2560.6,132.6V170.9"/>
<path d="M2529.1,132.6V163.3"/>
<path d="M2514.1,149.3H2544.1"/>
<path d="M2534.6,149.3L2556.6,132.6M2586.6,149.3L2564.6,132.6"/>
<path d="M2606.6,183.1L2646.4,154.6M2640.7,183.1L2600.9,154.6"/>
<path d="M2623.7,132.6V170.9"/>
<path d="M2592.2,132.6V163.3"/>
<path d="M2577.2,149.3H2607.2"/>
<path d="M2597.7,149.3L2619.7,132.6M2649.7,149.3L2627.7,132.6"/>
<path d="M2669.6,183.1L2709.4,154.6M2703.8,183.1L2663.9,154.6"/>
<path d="M2686.7,132.6V170.9"/>
<path d="M2655.2,132.6V163.3"/>
<path d="M2640.2,149.3H2670.2"/>
<path d="M2660.7,149.3L2682.7,132.6M2712.7,149.3L2690.7,132.6"/>
<path d="M2592.2,200V872.5" stroke-dasharray="34 11"/>
<path d="M2655.2,190V872.5"/>
<path d="M2603.4,864.5L2644,835.3M2644,864.5L2603.4,835.3"/>
<path d="M2623.7,849.9H2655.2"/>
<path d="M2631.7,843.9L2655.2,824.3"/>
<path d="M2641.2,872.5H2682.6"/>
<path d="M2603.4,819.3L2644,790.1M2644,819.3L2603.4,790.1"/>
<path d="M2623.7,804.7H2655.2"/>
<path d="M2631.7,798.7L2655.2,779.1"/>
<path d="M2641.2,827.3H2682.6"/>
<path d="M2603.4,774L2644,744.9M2644,774L2603.4,744.9"/>
<path d="M2623.7,759.5H2655.2"/>
<path d="M2631.7,753.5L2655.2,733.9"/>
<path d="M2641.2,782.1H2682.6"/>
<path d="M2603.4,728.8L2644,699.7M2644,728.8L2603.4,699.7"/>
<path d="M2623.7,714.3H2655.2"/>
<path d="M2631.7,708.3L2655.2,688.7"/>
<path d="M2641.2,736.9H2682.6"/>
<path d="M2603.4,683.6L2644,654.5M2644,683.6L2603.4,654.5"/>
<path d="M2623.7,669.1H2655.2"/>
<path d="M2631.7,663.1L2655.2,643.5"/>
<path d="M2641.2,691.7H2682.6"/>
<path d="M2603.4,638.4L2644,609.3M2644,638.4L2603.4,609.3"/>
<path d="M2623.7,623.8H2655.2"/>
<path d="M2631.7,617.8L2655.2,598.2"/>
<path d="M2641.2,646.5H2682.6"/>
<path d="M2603.4,593.2L2644,564.1M2644,593.2L2603.4,564.1"/>
<path d="M2623.7,578.6H2655.2"/>
<path d="M2631.7,572.6L2655.2,553"/>
<path d="M2641.2,601.2H2682.6"/>
<path d="M2603.4,548L2644,518.9M2644,548L2603.4,518.9"/>
<path d="M2623.7,533.4H2655.2"/>
<path d="M2631.7,527.4L2655.2,507.8"/>
<path d="M2641.2,556H2682.6"/>
<path d="M2603.4,502.8L2644,473.6M2644,502.8L2603.4,473.6"/>
<path d="M2623.7,488.2H2655.2"/>
<path d="M2631.7,482.2L2655.2,462.6"/>
<path d="M2641.2,510.8H2682.6"/>
<path d="M2603.4,457.6L2644,428.4M2644,457.6L2603.4,428.4"/>
<path d="M2623.7,443H2655.2"/>
<path d="M2631.7,437L2655.2,417.4"/>
<path d="M2641.2,465.6H2682.6"/>
<path d="M2603.4,412.4L2644,383.2M2644,412.4L2603.4,383.2"/>
<path d="M2623.7,397.8H2655.2"/>
<path d="M2631.7,391.8L2655.2,372.2"/>
<path d="M2641.2,420.4H2682.6"/>
<path d="M2603.4,367.2L2644,338M2644,367.2L2603.4,338"/>
<path d="M2623.7,352.6H2655.2"/>
<path d="M2631.7,346.6L2655.2,327"/>
<path d="M2641.2,375.2H2682.6"/>
<path d="M2603.4,321.9L2644,292.8M2644,321.9L2603.4,292.8"/>
<path d="M2623.7,307.4H2655.2"/>
<path d="M2631.7,301.4L2655.2,281.8"/>
<path d="M2641.2,330H2682.6"/>
<path d="M2603.4,276.7L2644,247.6M2644,276.7L2603.4,247.6"/>
<path d="M2623.7,262.2H2655.2"/>
<path d="M2631.7,256.2L2655.2,236.6"/>
<path d="M2641.2,284.8H2682.6"/>
<path d="M2603.4,231.5L2644,202.4M2644,231.5L2603.4,202.4"/>
<path d="M2623.7,217H2655.2"/>
<path d="M2631.7,211L2655.2,191.4"/>
<path d="M2641.2,239.6H2682.6"/>
<path d="M2655.2,872.5L2682.6,849.9M2655.2,849.9L2682.6,872.5"/>
<path d="M2649.2,876.5L2682.6,851.9M2649.2,855.9L2682.6,869.5M2667.2,861.2H2682.6"/>
<path d="M2655.2,849.9L2682.6,827.3M2655.2,827.3L2682.6,849.9"/>
<path d="M2649.2,853.9L2682.6,829.3M2649.2,833.3L2682.6,846.9M2667.2,838.6H2682.6"/>
<path d="M2655.2,827.3L2682.6,804.7M2655.2,804.7L2682.6,827.3"/>
<path d="M2649.2,831.3L2682.6,806.7M2649.2,810.7L2682.6,824.3M2667.2,816H2682.6"/>
<path d="M2655.2,804.7L2682.6,782.1M2655.2,782.1L2682.6,804.7"/>
<path d="M2649.2,808.7L2682.6,784.1M2649.2,788.1L2682.6,801.7M2667.2,793.4H2682.6"/>
<path d="M2655.2,782.1L2682.6,759.5M2655.2,759.5L2682.6,782.1"/>
<path d="M2649.2,786.1L2682.6,761.5M2649.2,765.5L2682.6,779.1M2667.2,770.8H2682.6"/>
<path d="M2655.2,759.5L2682.6,736.9M2655.2,736.9L2682.6,759.5"/>
<path d="M2649.2,763.5L2682.6,738.9M2649.2,742.9L2682.6,756.5M2667.2,748.2H2682.6"/>
<path d="M2655.2,736.9L2682.6,714.3M2655.2,714.3L2682.6,736.9"/>
<path d="M2649.2,740.9L2682.6,716.3M2649.2,720.3L2682.6,733.9M2667.2,725.6H2682.6"/>
<path d="M2655.2,714.3L2682.6,691.7M2655.2,691.7L2682.6,714.3"/>
<path d="M2649.2,718.3L2682.6,693.7M2649.2,697.7L2682.6,711.3M2667.2,703H2682.6"/>
<path d="M2655.2,691.7L2682.6,669.1M2655.2,669.1L2682.6,691.7"/>
<path d="M2649.2,695.7L2682.6,671.1M2649.2,675.1L2682.6,688.7M2667.2,680.4H2682.6"/>
<path d="M2655.2,669.1L2682.6,646.5M2655.2,646.5L2682.6,669.1"/>
<path d="M2649.2,673.1L2682.6,648.5M2649.2,652.5L2682.6,666.1M2667.2,657.8H2682.6"/>
<path d="M2655.2,646.5L2682.6,623.8M2655.2,623.8L2682.6,646.5"/>
<path d="M2649.2,650.5L2682.6,625.8M2649.2,629.8L2682.6,643.5M2667.2,635.1H2682.6"/>
<path d="M2655.2,623.8L2682.6,601.2M2655.2,601.2L2682.6,623.8"/>
<path d="M2649.2,627.8L2682.6,603.2M2649.2,607.2L2682.6,620.8M2667.2,612.5H2682.6"/>
<path d="M2655.2,601.2L2682.6,578.6M2655.2,578.6L2682.6,601.2"/>
<path d="M2649.2,605.2L2682.6,580.6M2649.2,584.6L2682.6,598.2M2667.2,589.9H2682.6"/>
<path d="M2655.2,578.6L2682.6,556M2655.2,556L2682.6,578.6"/>
<path d="M2649.2,582.6L2682.6,558M2649.2,562L2682.6,575.6M2667.2,567.3H2682.6"/>
<path d="M2655.2,556L2682.6,533.4M2655.2,533.4L2682.6,556"/>
<path d="M2649.2,560L2682.6,535.4M2649.2,539.4L2682.6,553M2667.2,544.7H2682.6"/>
<path d="M2655.2,533.4L2682.6,510.8M2655.2,510.8L2682.6,533.4"/>
<path d="M2649.2,537.4L2682.6,512.8M2649.2,516.8L2682.6,530.4M2667.2,522.1H2682.6"/>
<path d="M2655.2,510.8L2682.6,488.2M2655.2,488.2L2682.6,510.8"/>
<path d="M2649.2,514.8L2682.6,490.2M2649.2,494.2L2682.6,507.8M2667.2,499.5H2682.6"/>
<path d="M2655.2,488.2L2682.6,465.6M2655.2,465.6L2682.6,488.2"/>
<path d="M2649.2,492.2L2682.6,467.6M2649.2,471.6L2682.6,485.2M2667.2,476.9H2682.6"/>
<path d="M2655.2,465.6L2682.6,443M2655.2,443L2682.6,465.6"/>
<path d="M2649.2,469.6L2682.6,445M2649.2,449L2682.6,462.6M2667.2,454.3H2682.6"/>
<path d="M2655.2,443L2682.6,420.4M2655.2,420.4L2682.6,443"/>
<path d="M2649.2,447L2682.6,422.4M2649.2,426.4L2682.6,440M2667.2,431.7H2682.6"/>
<path d="M2655.2,420.4L2682.6,397.8M2655.2,397.8L2682.6,420.4"/>
<path d="M2649.2,424.4L2682.6,399.8M2649.2,403.8L2682.6,417.4M2667.2,409.1H2682.6"/>
<path d="M2655.2,397.8L2682.6,375.2M2655.2,375.2L2682.6,397.8"/>
<path d="M2649.2,401.8L2682.6,377.2M2649.2,381.2L2682.6,394.8M2667.2,386.5H2682.6"/>
<path d="M2655.2,375.2L2682.6,352.6M2655.2,352.6L2682.6,375.2"/>
<path d="M2649.2,379.2L2682.6,354.6M2649.2,358.6L2682.6,372.2M2667.2,363.9H2682.6"/>
<path d="M2655.2,352.6L2682.6,330M2655.2,330L2682.6,352.6"/>
<path d="M2649.2,356.6L2682.6,332M2649.2,336L2682.6,349.6M2667.2,341.3H2682.6"/>
<path d="M2655.2,330L2682.6,307.4M2655.2,307.4L2682.6,330"/>
<path d="M2649.2,334L2682.6,309.4M2649.2,313.4L2682.6,327M2667.2,318.7H2682.6"/>
<path d="M2655.2,307.4L2682.6,284.8M2655.2,284.8L2682.6,307.4"/>
<path d="M2649.2,311.4L2682.6,286.8M2649.2,290.8L2682.6,304.4M2667.2,296.1H2682.6"/>
<path d="M2655.2,284.8L2682.6,262.2M2655.2,262.2L2682.6,284.8"/>
<path d="M2649.2,288.8L2682.6,264.2M2649.2,268.2L2682.6,281.8M2667.2,273.5H2682.6"/>
<path d="M2655.2,262.2L2682.6,239.6M2655.2,239.6L2682.6,262.2"/>
<path d="M2649.2,266.2L2682.6,241.6M2649.2,245.6L2682.6,259.2M2667.2,250.9H2682.6"/>
<path d="M2655.2,239.6L2682.6,217M2655.2,217L2682.6,239.6"/>
<path d="M2649.2,243.6L2682.6,219M2649.2,223L2682.6,236.6M2667.2,228.3H2682.6"/>
<path d="M2655.2,217L2682.6,194.4M2655.2,194.4L2682.6,217"/>
<path d="M2649.2,221L2682.6,196.4M2649.2,200.4L2682.6,214M2667.2,205.7H2682.6"/>
<path d="M2655.2,194.4L2682.6,171.7M2655.2,171.7L2682.6,194.4"/>
<path d="M2649.2,198.4L2682.6,173.7M2649.2,177.7L2682.6,191.4M2667.2,183H2682.6"/>
</g>
</g>
<path d="M1646.7,132.6L1653.4,132.6 1660.1,132.6 1666.8,132.6 1673.5,132.6 1680.2,132.6 1686.9,132.6 1693.6,132.6 1700.3,132.6 1707,132.6 1713.7,132.6 1720.4,132.6 1727.1,132.6 1733.8,132.6 1740.5,132.6 1747.2,132.6 1753.9,132.6 1760.6,132.6 1767.3,132.6 1774,132.6 1780.7,132.6 1787.4,132.6 1794.1,132.6 1800.8,132.6 1807.5,132.6 1814.2,132.6 1820.9,132.6 1827.6,132.6 1834.3,132.6 1841,132.6 1847.7,132.6 1854.4,132.6 1861.1,132.6 1867.8,132.6 1874.6,132.6 1881.3,132.6 1888,132.6 1894.7,132.6 1901.4,132.6 1908.1,132.6 1914.8,132.6 1921.5,132.6 1928.2,132.6 1934.9,132.6 1941.6,132.6 1948.3,132.6 1955,132.6 1961.7,132.6 1968.4,132.6 1975.1,132.6 1981.8,132.6 1988.5,132.6 1995.2,132.6 2001.9,132.6 2008.6,132.6 2015.3,132.6 2022,132.6 2028.7,132.6 2035.4,132.6 2042.1,132.6 2048.8,132.6 2055.5,132.6 2062.2,132.6 2068.9,132.7 2075.6,132.7 2082.3,132.7 2089,132.7 2095.7,132.7 2102.4,132.7 2109.1,132.7 2115.8,132.8 2122.5,132.8 2129.2,132.8 2135.9,132.8 2142.6,132.8 2149.3,132.8 2156,132.9 2162.7,132.9 2169.4,132.9 2176.1,132.9 2182.8,133 2189.5,133 2196.2,133 2202.9,133 2209.6,133 2216.3,133.1 2223,133.1 2229.7,133.1 2236.4,133.1 2243.1,133.2 2249.8,133.2 2256.5,133.2 2263.2,133.3 2269.9,133.3 2276.6,133.3 2283.3,133.3 2290,133.4 2296.7,133.4 2303.4,133.4 2310.2,133.5 2316.9,133.5 2323.6,133.6 2330.3,133.6 2337,133.7 2343.7,133.7 2350.4,133.8 2357.1,133.8 2363.8,133.9 2370.5,133.9 2377.2,134 2383.9,134.1 2390.6,134.2 2397.3,134.2 2404,134.3 2410.7,134.4 2417.4,134.5 2424.1,134.6 2430.8,134.7 2437.5,134.8 2444.2,134.9 2450.9,135 2457.6,135.2 2464.3,135.4 2471,135.7 2477.7,136 2484.4,136.3 2491,136.6 2497.7,137 2504.4,137.3 2511.1,137.7 2517.8,138.1 2524.5,138.4 2531.2,138.8 2537.9,139.2 2544.6,139.7 2551.3,140.2 2557.9,140.7 2564.6,141.2 2571.3,141.8 2578,142.4 2584.6,143 2591.3,143.6 2598,144.3 2604.7,145 2611.3,145.8 2618,146.7 2624.6,147.7 2631.2,148.9 2637.8,150.3 2644.4,152 2650.7,154 2656.8,156.7 2662.7,160.3 2667.4,164.7 2671.3,170.3 2674.3,176.4 2676.6,182.6 2678.4,189.2 2679.6,195.7 2680.5,202.4 2681.2,209.1 2681.7,215.8 2682,222.5 2682.1,229.1 2682.3,235.8 2682.4,242.6 2682.4,249.3 2682.5,256 2682.5,262.7 2682.5,269.4 2682.5,276.1 2682.5,282.8 2682.6,289.5 2682.6,296.2 2682.6,302.9 2682.6,309.6 2682.6,316.3 2682.6,323 2682.6,329.7 2682.6,336.4 2682.6,343.1 2682.6,349.8 2682.6,356.5 2682.6,363.2 2682.6,369.9 2682.6,376.6 2682.6,383.3 2682.6,390 2682.6,396.7 2682.6,403.4 2682.6,410.1 2682.6,416.8 2682.6,423.5 2682.6,430.2 2682.6,436.9 2682.6,443.6 2682.6,450.3 2682.6,457 2682.6,463.7 2682.6,470.4 2682.6,477.1 2682.6,483.8 2682.6,490.5 2682.6,497.2 2682.6,503.9 2682.6,510.6 2682.6,517.3 2682.6,524 2682.6,530.7 2682.6,537.4 2682.6,544.1 2682.6,550.8 2682.6,557.5 2682.6,564.2 2682.6,570.9 2682.6,577.6 2682.6,584.3 2682.6,591 2682.6,597.7 2682.6,604.4 2682.6,611.1 2682.6,617.8 2682.6,624.5 2682.6,631.2 2682.6,637.9 2682.6,644.6 2682.6,651.4 2682.6,658.1 2682.6,664.8 2682.6,671.5 2682.6,678.2 2682.6,684.9 2682.6,691.6 2682.6,698.3 2682.6,705 2682.6,711.7 2682.6,718.4 2682.6,725.1 2682.6,731.8 2682.6,738.5 2682.6,745.2 2682.6,751.9 2682.6,758.6 2682.6,765.3 2682.6,772 2682.6,778.7 2682.6,785.4 2682.6,792.1 2682.6,798.8 2682.6,805.5 2682.6,812.2 2682.6,818.9 2682.6,825.6 2682.6,832.3 2682.6,839 2682.6,845.7 2682.6,852.4 2682.6,859.1 2682.6,865.8 2682.6,872.5" fill="none" stroke="#5e81b5" stroke-width="6.8"/>
<g stroke="#000" fill="none">
<path d="M1647.1,872.6V858.9M1647.1,13.5V27.2M1646.6,872.9H1659.2M2844.3,872.9H2831.7M1727.2,872.6V862.8M1727.2,13.5V23.4M1646.6,815.4H1655.8M2844.3,815.4H2835.2M1774.1,872.6V862.8M1774.1,13.5V23.4M1646.6,781.8H1655.8M2844.3,781.8H2835.2M1807.4,872.6V862.8M1807.4,13.5V23.4M1646.6,757.9H1655.8M2844.3,757.9H2835.2M1833.2,872.6V862.8M1833.2,13.5V23.4M1646.6,739.4H1655.8M2844.3,739.4H2835.2M1854.2,872.6V862.8M1854.2,13.5V23.4M1646.6,724.3H1655.8M2844.3,724.3H2835.2M1872.1,872.6V862.8M1872.1,13.5V23.4M1646.6,711.5H1655.8M2844.3,711.5H2835.2M1887.5,872.6V862.8M1887.5,13.5V23.4M1646.6,700.5H1655.8M2844.3,700.5H2835.2M1901.1,872.6V862.8M1901.1,13.5V23.4M1646.6,690.7H1655.8M2844.3,690.7H2835.2M1913.3,872.6V858.9M1913.3,13.5V27.2M1646.6,682H1659.2M2844.3,682H2831.7M1993.4,872.6V862.8M1993.4,13.5V23.4M1646.6,624.5H1655.8M2844.3,624.5H2835.2M2040.3,872.6V862.8M2040.3,13.5V23.4M1646.6,590.8H1655.8M2844.3,590.8H2835.2M2073.6,872.6V862.8M2073.6,13.5V23.4M1646.6,567H1655.8M2844.3,567H2835.2M2099.4,872.6V862.8M2099.4,13.5V23.4M1646.6,548.5H1655.8M2844.3,548.5H2835.2M2120.4,872.6V862.8M2120.4,13.5V23.4M1646.6,533.4H1655.8M2844.3,533.4H2835.2M2138.3,872.6V862.8M2138.3,13.5V23.4M1646.6,520.6H1655.8M2844.3,520.6H2835.2M2153.7,872.6V862.8M2153.7,13.5V23.4M1646.6,509.5H1655.8M2844.3,509.5H2835.2M2167.3,872.6V862.8M2167.3,13.5V23.4M1646.6,499.7H1655.8M2844.3,499.7H2835.2M2179.5,872.6V858.9M2179.5,13.5V27.2M1646.6,491H1659.2M2844.3,491H2831.7M2259.6,872.6V862.8M2259.6,13.5V23.4M1646.6,433.5H1655.8M2844.3,433.5H2835.2M2306.5,872.6V862.8M2306.5,13.5V23.4M1646.6,399.9H1655.8M2844.3,399.9H2835.2M2339.8,872.6V862.8M2339.8,13.5V23.4M1646.6,376H1655.8M2844.3,376H2835.2M2365.6,872.6V862.8M2365.6,13.5V23.4M1646.6,357.5H1655.8M2844.3,357.5H2835.2M2386.6,872.6V862.8M2386.6,13.5V23.4M1646.6,342.4H1655.8M2844.3,342.4H2835.2M2404.5,872.6V862.8M2404.5,13.5V23.4M1646.6,329.6H1655.8M2844.3,329.6H2835.2M2419.9,872.6V862.8M2419.9,13.5V23.4M1646.6,318.6H1655.8M2844.3,318.6H2835.2M2433.5,872.6V862.8M2433.5,13.5V23.4M1646.6,308.8H1655.8M2844.3,308.8H2835.2M2445.7,872.6V858.9M2445.7,13.5V27.2M1646.6,300.1H1659.2M2844.3,300.1H2831.7M2525.8,872.6V862.8M2525.8,13.5V23.4M1646.6,242.6H1655.8M2844.3,242.6H2835.2M2572.7,872.6V862.8M2572.7,13.5V23.4M1646.6,208.9H1655.8M2844.3,208.9H2835.2M2606,872.6V862.8M2606,13.5V23.4M1646.6,185.1H1655.8M2844.3,185.1H2835.2M2631.8,872.6V862.8M2631.8,13.5V23.4M1646.6,166.6H1655.8M2844.3,166.6H2835.2M2652.8,872.6V862.8M2652.8,13.5V23.4M1646.6,151.5H1655.8M2844.3,151.5H2835.2M2670.7,872.6V862.8M2670.7,13.5V23.4M1646.6,138.7H1655.8M2844.3,138.7H2835.2M2686.1,872.6V862.8M2686.1,13.5V23.4M1646.6,127.6H1655.8M2844.3,127.6H2835.2M2699.7,872.6V862.8M2699.7,13.5V23.4M1646.6,117.8H1655.8M2844.3,117.8H2835.2M2711.9,872.6V858.9M2711.9,13.5V27.2M1646.6,109.1H1659.2M2844.3,109.1H2831.7M2792,872.6V862.8M2792,13.5V23.4M1646.6,51.6H1655.8M2844.3,51.6H2835.2M2838.9,872.6V862.8M2838.9,13.5V23.4M1646.6,18H1655.8M2844.3,18H2835.2" stroke-width="6"/>
<rect x="1646.6" y="13.5" width="1197.7" height="859.1" stroke-width="6.9"/>
</g>
<g font-size="46.3">
<text transform="translate(1634.5,697.6) scale(0.848,1)" text-anchor="end">0.001</text>
<text transform="translate(1913.3,928.4) scale(0.848,1)" text-anchor="middle">0.001</text>
<text transform="translate(1634.5,506.6) scale(0.848,1)" text-anchor="end">0.010</text>
<text transform="translate(2179.5,928.4) scale(0.848,1)" text-anchor="middle">0.010</text>
<text transform="translate(1634.5,315.7) scale(0.848,1)" text-anchor="end">0.100</text>
<text transform="translate(2445.7,928.4) scale(0.848,1)" text-anchor="middle">0.100</text>
<text transform="translate(1634.5,124.7) scale(0.848,1)" text-anchor="end">1</text>
<text transform="translate(2711.9,928.4) scale(0.848,1)" text-anchor="middle">1</text>
<text transform="translate(1560.6,895.2) scale(0.848,1)">10</text>
<text transform="translate(1603.6,872.3) scale(0.78016,1)" font-size="31.7">−4</text>
<text transform="translate(1609.8,941.2) scale(0.848,1)">10</text>
<text transform="translate(1652.9,918.3) scale(0.78016,1)" font-size="31.7">−4</text>
</g>
<text transform="translate(2190.1,1044.6) scale(0.755,1)" font-size="63.2" style="stroke-width:0px">|</text>
<text transform="translate(2207.6,1045) scale(0.99,1)" font-size="61.0" font-style="italic" style="stroke-width:0.6px">λ</text>
<text transform="translate(2239.3,1057.8) scale(0.78,1)" font-size="50.4" style="stroke-width:0.7px">1</text>
<text transform="translate(2262.2,1057.4) scale(0.78,1)" font-size="50.4" style="stroke-width:0.7px">3</text>
<text transform="translate(2287.4,1044.6) scale(0.755,1)" font-size="63.2" style="stroke-width:0px">|</text>
<text transform="translate(1495.6,507.1) rotate(-90) scale(1.0,1)" font-size="54.5" style="stroke-width:0px">|</text>
<text transform="translate(1496.7,487.6) rotate(-90) scale(1.26,1)" font-size="52.8" font-style="italic" style="stroke-width:0.6px">λ</text>
<text transform="translate(1507,450.5) rotate(-90) scale(1.04,1)" font-size="43.8" style="stroke-width:0.7px">1</text>
<text transform="translate(1507,424.7) rotate(-90) scale(1.04,1)" font-size="43.8" style="stroke-width:0.7px">4</text>
<text transform="translate(1495.6,394.8) rotate(-90) scale(1.0,1)" font-size="54.5" style="stroke-width:0px">|</text>
<path d="M1728.1,434.2H1807.2" stroke="#ff0000" stroke-width="7.7"/>
<text transform="translate(1827,450) scale(0.862,1)" font-size="55.2"><tspan font-style="italic">m</tspan><tspan font-size="38.5" dy="10">1</tspan><tspan dy="-10">=1</tspan><tspan dx="-1">TeV</tspan></text>
<path d="M1728.1,527.9H1807.2" stroke="#0000ff" stroke-width="7.7"/>
<text transform="translate(1827,543.7) scale(0.862,1)" font-size="55.2"><tspan font-style="italic">m</tspan><tspan font-size="38.5" dy="10">1</tspan><tspan dy="-10">=2</tspan><tspan dx="13.5">TeV</tspan></text>
<path d="M1728.1,621.3H1807.2" stroke="#00ff00" stroke-width="7.7"/>
<text transform="translate(1827,637.1) scale(0.862,1)" font-size="55.2"><tspan font-style="italic">m</tspan><tspan font-size="38.5" dy="10">1</tspan><tspan dy="-10">=3</tspan><tspan dx="13.5">TeV</tspan></text>
<text transform="translate(2108.3,1151.2) scale(0.88,1)" style="font-family:'Liberation Serif','DejaVu Serif',serif;font-weight:normal;stroke:none" font-size="77">(</text>
<text transform="translate(2131.3,1151.2) scale(1.15,1)" style="font-family:'Liberation Serif','DejaVu Serif',serif;font-weight:normal;stroke:none" font-size="68">b</text>
<text transform="translate(2194.9,1151.2) scale(0.88,1)" style="font-family:'Liberation Serif','DejaVu Serif',serif;font-weight:normal;stroke:none" font-size="77" text-anchor="end">)</text>
</svg></body></html>
